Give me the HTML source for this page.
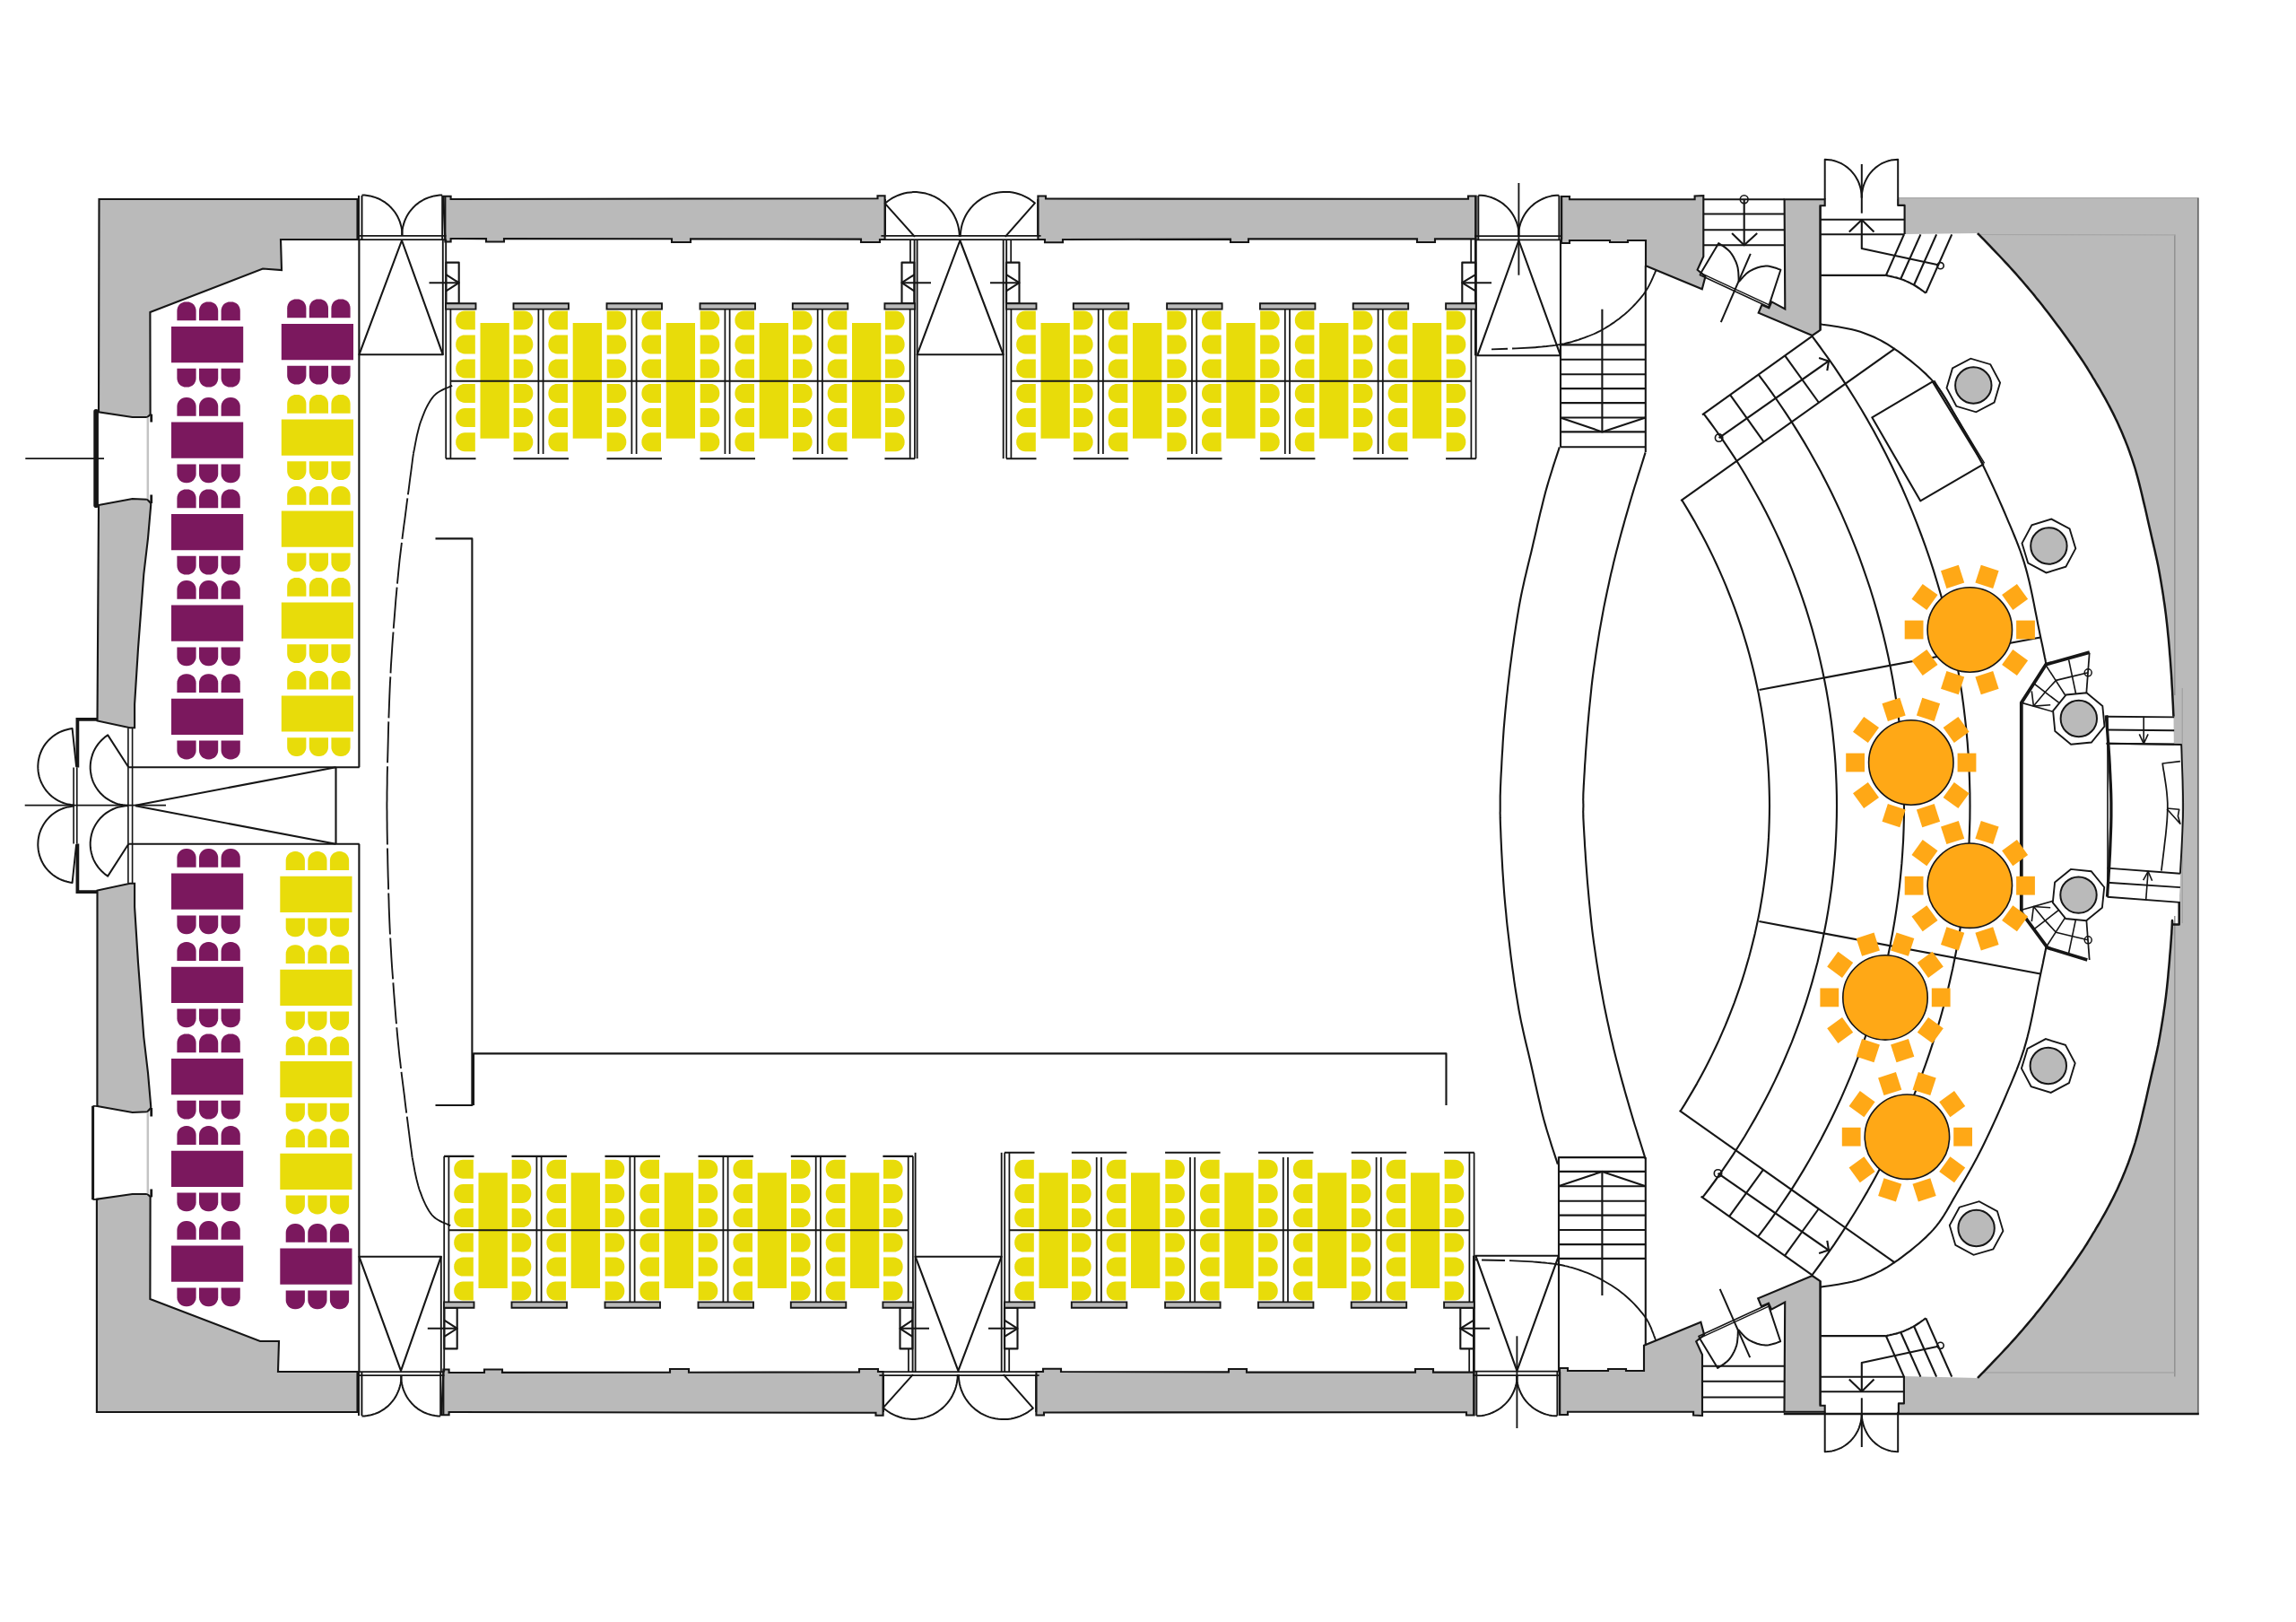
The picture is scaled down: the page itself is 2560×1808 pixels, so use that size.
<!DOCTYPE html>
<html lang="en"><head><meta charset="utf-8"><title>Hall floor plan – seating layout</title>
<style>
html,body{margin:0;padding:0;background:#fff;}
body{width:2560px;height:1808px;overflow:hidden;font-family:"Liberation Sans",sans-serif;}
svg{display:block}
</style></head><body>
<svg width="2560" height="1808" viewBox="0 0 2560 1808" stroke-linecap="butt" stroke-linejoin="round">
<rect width="2560" height="1808" fill="#ffffff"/>
<path d="M2116.2 220.7 L2451.6 220.7 L2451.6 1575.4 L2116.9 1575.4 L2116.9 1564.4 L2122.9 1564.4 L2122.9 1534 L2205 1536 L2206.8 1534.1 L2209.2 1531.7 L2212 1528.8 L2215.1 1525.6 L2218.5 1522.1 L2222 1518.4 L2225.6 1514.7 L2229.1 1511 L2232.4 1507.5 L2235.5 1504.2 L2238.4 1501.1 L2241.2 1498 L2244 1494.9 L2246.8 1491.8 L2249.5 1488.7 L2252.2 1485.6 L2255 1482.5 L2257.7 1479.3 L2260.4 1476.1 L2263.2 1472.8 L2266 1469.5 L2268.8 1466.1 L2271.5 1462.6 L2274.3 1459.2 L2277.1 1455.7 L2279.9 1452.1 L2282.7 1448.5 L2285.4 1444.9 L2288.2 1441.3 L2291 1437.6 L2293.8 1433.8 L2296.7 1429.9 L2299.6 1425.9 L2302.5 1421.9 L2305.4 1417.8 L2308.3 1413.8 L2311.1 1409.9 L2313.8 1406 L2316.3 1402.3 L2318.7 1398.8 L2320.9 1395.5 L2323 1392.4 L2324.9 1389.4 L2326.8 1386.5 L2328.5 1383.7 L2330.2 1380.9 L2331.9 1378.1 L2333.6 1375.2 L2335.4 1372.3 L2337.2 1369.2 L2339.1 1366 L2341 1362.8 L2342.9 1359.5 L2344.8 1356.1 L2346.7 1352.8 L2348.6 1349.4 L2350.4 1346 L2352.2 1342.6 L2354 1339.2 L2355.7 1335.9 L2357.3 1332.6 L2358.9 1329.3 L2360.5 1326.1 L2362 1322.8 L2363.4 1319.6 L2364.9 1316.3 L2366.3 1313 L2367.7 1309.6 L2369.1 1306.2 L2370.5 1302.6 L2371.9 1299.1 L2373.2 1295.7 L2374.4 1292.3 L2375.6 1288.9 L2376.9 1285.4 L2378.1 1281.7 L2379.4 1277.7 L2380.7 1273.5 L2382 1268.9 L2383.4 1263.8 L2384.9 1258.1 L2386.5 1251.7 L2388.2 1244.7 L2389.9 1237.4 L2391.7 1230 L2393.4 1222.5 L2395 1215.2 L2396.6 1208.2 L2398.1 1201.8 L2399.4 1196 L2400.6 1190.9 L2401.6 1186.4 L2402.6 1182.3 L2403.4 1178.5 L2404.2 1174.9 L2405 1171.4 L2405.7 1167.9 L2406.5 1164.2 L2407.2 1160.3 L2408 1156 L2408.8 1151.4 L2409.6 1146.7 L2410.4 1141.9 L2411.2 1137 L2412 1131.9 L2412.7 1126.8 L2413.5 1121.7 L2414.2 1116.5 L2414.9 1111.2 L2415.5 1106 L2416.1 1100.6 L2416.7 1094.8 L2417.3 1088.9 L2417.8 1082.9 L2418.4 1076.9 L2418.9 1071.1 L2419.3 1065.5 L2419.8 1060.2 L2420.2 1055.3 L2420.5 1051 L2420.8 1047.2 L2421 1043.7 L2421.3 1040.5 L2421.4 1037.6 L2421.6 1035.1 L2421.7 1032.8 L2421.8 1030.7 L2421.9 1028.9 L2421.9 1027.4 L2422 1026 L2422.3 1030.5 L2429.7 1030.5 L2429.7 1005.9 L2431 973.8 L2432.2 900 L2432.4 898 L2432 830 L2423.8 830 L2423.5 798.7 L2423.3 795.5 L2423.1 791.4 L2422.9 786.6 L2422.6 781.1 L2422.3 775.3 L2422 769.2 L2421.6 762.9 L2421.3 756.7 L2420.9 750.7 L2420.5 745 L2420.1 739.5 L2419.7 734 L2419.2 728.4 L2418.8 722.9 L2418.3 717.3 L2417.8 711.7 L2417.2 706.2 L2416.7 700.7 L2416.1 695.3 L2415.5 690 L2414.9 684.8 L2414.2 679.5 L2413.5 674.3 L2412.7 669.2 L2412 664.1 L2411.2 659 L2410.4 654.1 L2409.6 649.3 L2408.8 644.6 L2408 640 L2407.2 635.7 L2406.5 631.8 L2405.7 628.1 L2405 624.6 L2404.2 621.1 L2403.4 617.5 L2402.6 613.7 L2401.6 609.6 L2400.6 605.1 L2399.4 600 L2398.1 594.2 L2396.6 587.8 L2395 580.8 L2393.4 573.5 L2391.7 566 L2389.9 558.6 L2388.2 551.3 L2386.5 544.3 L2384.9 537.9 L2383.4 532.2 L2382 527.1 L2380.7 522.5 L2379.4 518.3 L2378.1 514.3 L2376.9 510.6 L2375.6 507.1 L2374.4 503.7 L2373.2 500.3 L2371.9 496.9 L2370.5 493.4 L2369.1 489.8 L2367.7 486.4 L2366.3 483 L2364.9 479.7 L2363.4 476.4 L2362 473.2 L2360.5 469.9 L2358.9 466.7 L2357.3 463.4 L2355.7 460.1 L2354 456.8 L2352.2 453.4 L2350.4 450 L2348.6 446.6 L2346.7 443.2 L2344.8 439.9 L2342.9 436.5 L2341 433.2 L2339.1 430 L2337.2 426.8 L2335.4 423.7 L2333.6 420.8 L2331.9 417.9 L2330.2 415.1 L2328.5 412.3 L2326.8 409.5 L2324.9 406.6 L2323 403.6 L2320.9 400.5 L2318.7 397.2 L2316.3 393.7 L2313.8 390 L2311.1 386.1 L2308.3 382.2 L2305.4 378.1 L2302.5 374.1 L2299.6 370.1 L2296.7 366.1 L2293.8 362.2 L2291 358.4 L2288.2 354.7 L2285.4 351.1 L2282.7 347.5 L2279.9 343.9 L2277.1 340.3 L2274.3 336.8 L2271.5 333.4 L2268.8 329.9 L2266 326.5 L2263.2 323.2 L2260.4 319.9 L2257.7 316.7 L2255 313.5 L2252.2 310.4 L2249.5 307.3 L2246.8 304.2 L2244 301.1 L2241.2 298 L2238.4 294.9 L2235.5 291.8 L2232.4 288.5 L2229.1 285 L2225.6 281.3 L2222 277.6 L2218.5 273.9 L2215.1 270.4 L2212 267.2 L2209.2 264.3 L2206.8 261.9 L2205 260 L2123.6 261.1 L2123.6 228.9 L2116.2 228.9Z" fill="#bababa" stroke="none"/>
<path d="M2423.7 798.7 L2423.7 830 L2432.1 830 L2432.3 834.3 L2432.5 839.8 L2432.7 846.4 L2433 853.7 L2433.3 861.7 L2433.6 869.9 L2433.8 878.4 L2434 886.7 L2434.1 894.7 L2434.1 902.3 L2434 909.8 L2433.7 917.8 L2433.4 926 L2433 934.4 L2432.6 942.6 L2432.2 950.4 L2431.8 957.6 L2431.4 964.1 L2431.1 969.6 L2430.9 973.8 L2429.7 1005.9 L2423.7 1005.9Z" fill="#ffffff" stroke="none"/>
<path d="M110.5 222 L398.5 222 L398.5 267 L313 267 L314 301 L293 299.5 L167.4 348 L167.6 462 L164.3 465 L147.6 465 L110 459.3Z" fill="#bababa" stroke="#161616" stroke-width="2.12" stroke-linejoin="miter"/>
<path d="M110 563 L147.6 556 L164.3 556.7 L168.2 561 L168.2 563.2 L165 600 L160.3 640 L154 723 L150.1 785 L150.1 811.2 L144.9 811.2 L108.5 803.5Z" fill="#bababa" stroke="#161616" stroke-width="2.12" stroke-linejoin="miter"/>
<path d="M494.3 218.8 L502.6 218.8 L502.6 222 L978.5 221.2 L978.5 218.2 L986.6 218.2 L986.6 267 L981 267 L981 270 L960 270 L960 266.6 L770 266.3 L770 270 L749 270 L749 266.2 L562 266.1 L562 269.5 L542 269.5 L542 266.1 L502.6 266 L502.6 269.5 L496.4 269.5Z" fill="#bababa" stroke="#161616" stroke-width="2.12" stroke-linejoin="miter"/>
<path d="M1157.4 218.5 L1166 218.5 L1166 221.5 L1637 221.8 L1637 218.5 L1645.6 218.5 L1645.6 266.4 L1600 266.4 L1600 270 L1580 270 L1580 266.4 L1392 266.4 L1392 270 L1372 270 L1372 266.6 L1185 267 L1185 270.3 L1165 270.3 L1165 267 L1157.4 267Z" fill="#bababa" stroke="#161616" stroke-width="2.12" stroke-linejoin="miter"/>
<path d="M1741 222.3 L1741 219 L1750 219 L1750 222.3 L1889.6 222.3 L1889.6 218.5 L1899.3 218 L1899.3 285.9 L1892.6 300.7 L1901.5 308.1 L1897.8 322.2 L1835 296.3 L1835 268 L1815 268 L1815 270 L1795 270 L1795 268 L1750 268 L1750 271 L1741 271Z" fill="#bababa" stroke="#161616" stroke-width="2.12" stroke-linejoin="miter"/>
<path d="M1989.6 222.2 L2034.7 222.2 L2034.7 229.3 L2029.6 229.3 L2029.6 368 L2020.7 374 L1960.7 348.8 L1964.4 339.9 L1972.4 343.4 L1975.4 336.4 L1990.3 344.4Z" fill="#bababa" stroke="#161616" stroke-width="2.12" stroke-linejoin="miter"/>
<path d="M107.9 1574 L398.5 1574 L398.5 1529 L310 1529 L311 1495 L290 1495 L167.4 1448 L167.6 1334 L164.3 1331 L147.6 1331 L107.9 1336.7Z" fill="#bababa" stroke="#161616" stroke-width="2.12" stroke-linejoin="miter"/>
<path d="M108.4 1233 L147.6 1240 L164.3 1239.3 L168.2 1235 L168.2 1232.8 L165 1196 L160.3 1156 L154 1073 L150.1 1011 L150.1 984.8 L144.9 984.8 L108.5 992.5Z" fill="#bababa" stroke="#161616" stroke-width="2.12" stroke-linejoin="miter"/>
<path d="M492.3 1577.2 L500.6 1577.2 L500.6 1574 L976.5 1574.8 L976.5 1577.8 L984.6 1577.8 L984.6 1529 L979 1529 L979 1526 L958 1526 L958 1529.4 L768 1529.7 L768 1526 L747 1526 L747 1529.8 L560 1529.9 L560 1526.5 L540 1526.5 L540 1529.9 L500.6 1530 L500.6 1526.5 L494.4 1526.5Z" fill="#bababa" stroke="#161616" stroke-width="2.12" stroke-linejoin="miter"/>
<path d="M1155.4 1577.5 L1164 1577.5 L1164 1574.5 L1635 1574.2 L1635 1577.5 L1643.6 1577.5 L1643.6 1529.6 L1598 1529.6 L1598 1526 L1578 1526 L1578 1529.6 L1390 1529.6 L1390 1526 L1370 1526 L1370 1529.4 L1183 1529 L1183 1525.7 L1163 1525.7 L1163 1529 L1155.4 1529Z" fill="#bababa" stroke="#161616" stroke-width="2.12" stroke-linejoin="miter"/>
<path d="M1739 1573.7 L1739 1577 L1748 1577 L1748 1573.7 L1888.1 1573.7 L1888.1 1577.5 L1898 1578 L1898 1510.1 L1891.2 1495.3 L1900.2 1487.9 L1896.4 1473.8 L1833 1499.7 L1833 1528 L1813 1528 L1813 1526 L1793 1526 L1793 1528 L1748 1528 L1748 1525 L1739 1525Z" fill="#bababa" stroke="#161616" stroke-width="2.12" stroke-linejoin="miter"/>
<path d="M1989.5 1573.8 L2034.7 1573.8 L2034.7 1566.7 L2029.6 1566.7 L2029.6 1428 L2020.7 1422 L1960.2 1447.2 L1963.9 1456.1 L1972 1452.6 L1975.1 1459.6 L1990.2 1451.6Z" fill="#bababa" stroke="#161616" stroke-width="2.12" stroke-linejoin="miter"/>
<path d="M2116.2 220.7 L2451.6 220.7" fill="none" stroke="#9a9a9a" stroke-width="1.0"/>
<path d="M2450.8 220.7 L2450.8 1576.4" fill="none" stroke="#6a6a6a" stroke-width="1.7"/>
<path d="M2424.8 261.5 L2424.8 775" fill="none" stroke="#8e8e8e" stroke-width="1.4"/>
<path d="M2424.8 1534.5 L2424.8 1021" fill="none" stroke="#8e8e8e" stroke-width="1.4"/>
<path d="M2433.2 767 L2433.2 1029" fill="none" stroke="#9a9a9a" stroke-width="1.0"/>
<path d="M2204.3 261.5 L2425.4 261.8" fill="none" stroke="#a6a6a6" stroke-width="1.2"/>
<path d="M2210 1530 L2425.4 1530" fill="none" stroke="#9c9c9c" stroke-width="1.2"/>
<path d="M107.1 458.8 L107.1 563.2" fill="none" stroke="#161616" stroke-width="5.62" stroke-linecap="round"/>
<path d="M164.8 465.5 L164.8 556.2" fill="none" stroke="#c4c4c4" stroke-width="2.5"/>
<path d="M168.7 461.6 L168.7 470.5" fill="none" stroke="#161616" stroke-width="2.75"/>
<path d="M168.7 551.5 L168.7 561" fill="none" stroke="#161616" stroke-width="2.75"/>
<path d="M108.8 801.9 L86.4 801.9 L86.4 855.4" fill="none" stroke="#161616" stroke-width="3.75" stroke-linejoin="miter"/>
<path d="M82.1 855.4 L82.1 898" fill="none" stroke="#161616" stroke-width="1.62"/>
<path d="M85.8 855.4 L85.8 898" fill="none" stroke="#161616" stroke-width="1.62"/>
<path d="M142.9 811.5 L142.9 898" fill="none" stroke="#161616" stroke-width="1.62"/>
<path d="M147.6 811.5 L147.6 898" fill="none" stroke="#161616" stroke-width="1.62"/>
<path d="M85.1 854.7 L80.6 812.1 L77.7 812.5 L74.8 813.2 L72 814 L69.2 815 L66.5 816.2 L63.9 817.5 L61.4 819.1 L59 820.8 L56.7 822.7 L54.6 824.7 L52.6 826.9 L50.7 829.2 L49 831.6 L47.5 834.2 L46.2 836.8 L45.1 839.5 L44.1 842.3 L43.4 845.2 L42.8 848.1 L42.5 851 L42.3 854 L42.4 856.9 L42.6 859.9 L43.1 862.8 L43.7 865.7 L44.6 868.5 L45.6 871.2 L46.9 873.9 L48.3 876.5 L49.9 879 L51.6 881.4 L53.6 883.6 L55.6 885.7 L57.8 887.7 L60.2 889.5 L62.6 891.1 L65.2 892.6 L67.9 893.9 L70.6 895 L73.4 895.9 L76.3 896.6 L79.2 897.1 L82.1 897.4" fill="none" stroke="#161616" stroke-width="2.0"/>
<path d="M143.3 855.2 L120.2 819.4 L117.7 821.1 L115.5 823 L113.3 825 L111.3 827.1 L109.4 829.4 L107.7 831.8 L106.2 834.3 L104.8 836.9 L103.6 839.6 L102.7 842.4 L101.9 845.2 L101.3 848.1 L100.9 851 L100.7 854 L100.7 856.9 L101 859.9 L101.4 862.8 L102 865.7 L102.8 868.5 L103.8 871.3 L105 873.9 L106.4 876.5 L108 879 L109.7 881.4 L111.6 883.7 L113.7 885.8 L115.8 887.8 L118.2 889.6 L120.6 891.2 L123.1 892.7 L125.8 894 L128.5 895.2 L131.3 896.1 L134.2 896.8 L137.1 897.3 L140 897.7 L142.9 897.8" fill="none" stroke="#161616" stroke-width="2.0"/>
<path d="M143.3 855.2 L400.7 855.2" fill="none" stroke="#161616" stroke-width="2.12"/>
<path d="M374.5 855.2 L374.5 898" fill="none" stroke="#161616" stroke-width="2.12"/>
<path d="M151 897.7 L374.5 855.2" fill="none" stroke="#161616" stroke-width="2.12"/>
<path d="M400.4 267 L400.4 855.2" fill="none" stroke="#161616" stroke-width="2.12"/>
<path d="M400 218 L400 267" fill="none" stroke="#161616" stroke-width="2.0"/>
<path d="M403.5 218 L403.5 267" fill="none" stroke="#161616" stroke-width="2.0"/>
<path d="M493.2 218 L493.2 267" fill="none" stroke="#161616" stroke-width="2.0"/>
<path d="M496.4 218 L496.4 267" fill="none" stroke="#161616" stroke-width="2.0"/>
<path d="M403.5 217.5 L406.6 217.6 L409.6 217.9 L412.7 218.4 L415.6 219.2 L418.6 220.1 L421.4 221.2 L424.2 222.5 L426.9 224.1 L429.5 225.7 L431.9 227.6 L434.2 229.6 L436.4 231.8 L438.4 234.1 L440.3 236.5 L441.9 239.1 L443.5 241.8 L444.8 244.6 L445.9 247.4 L446.8 250.4 L447.6 253.3 L448.1 256.4 L448.4 259.4 L448.5 262.5" fill="none" stroke="#161616" stroke-width="2.0"/>
<path d="M493.2 217.5 L490.1 217.6 L487.1 217.9 L484 218.4 L481.1 219.2 L478.1 220.1 L475.3 221.2 L472.5 222.5 L469.8 224.1 L467.2 225.7 L464.8 227.6 L462.5 229.6 L460.3 231.8 L458.3 234.1 L456.4 236.5 L454.8 239.1 L453.2 241.8 L451.9 244.6 L450.8 247.4 L449.9 250.4 L449.1 253.3 L448.6 256.4 L448.3 259.4 L448.2 262.5" fill="none" stroke="#161616" stroke-width="2.0"/>
<path d="M399 262.8 L497.4 262.8" fill="none" stroke="#161616" stroke-width="1.75"/>
<path d="M399 267 L497.4 267" fill="none" stroke="#161616" stroke-width="1.75"/>
<path d="M400.4 395.3 L448 268 L493.8 395.3Z" fill="none" stroke="#161616" stroke-width="2.12"/>
<path d="M493.8 267 L493.8 395.3" fill="none" stroke="#161616" stroke-width="1.88"/>
<path d="M497.2 267 L497.2 344" fill="none" stroke="#161616" stroke-width="1.88"/>
<path d="M497.4 292.6 L511.7 292.6 L511.7 338.3 L497.4 338.3Z" fill="none" stroke="#161616" stroke-width="2.12"/>
<path d="M478.5 315.2 L511.7 315.2" fill="none" stroke="#161616" stroke-width="2.12"/>
<path d="M497.4 306.2 L511.7 315.2 L497.4 324.4" fill="none" stroke="#161616" stroke-width="2.12"/>
<path d="M1020 263.9 L986.8 226.8 L989.5 224.5 L992.3 222.5 L995.2 220.7 L998.3 219.1 L1001.5 217.7 L1004.8 216.5 L1008.1 215.5 L1011.5 214.8 L1014.9 214.4 L1018.4 214.1 L1021.9 214.1 L1025.3 214.4 L1028.8 214.9 L1032.2 215.6 L1035.5 216.6 L1038.7 217.8 L1041.9 219.2 L1045 220.8 L1047.9 222.7 L1050.7 224.7 L1053.4 226.9 L1055.9 229.4 L1058.2 231.9 L1060.3 234.7 L1062.3 237.5 L1064 240.6 L1065.5 243.7 L1066.8 246.9 L1067.9 250.2 L1068.7 253.6 L1069.3 257 L1069.7 260.4 L1069.8 263.9" fill="none" stroke="#161616" stroke-width="2.0"/>
<path d="M1120.8 263.9 L1153.9 226.4 L1151.2 224.2 L1148.4 222.2 L1145.4 220.4 L1142.4 218.8 L1139.2 217.4 L1135.9 216.2 L1132.5 215.3 L1129.1 214.6 L1125.7 214.1 L1122.2 213.9 L1118.7 213.9 L1115.3 214.2 L1111.8 214.7 L1108.4 215.4 L1105.1 216.4 L1101.9 217.6 L1098.7 219.1 L1095.6 220.7 L1092.7 222.6 L1089.9 224.6 L1087.2 226.9 L1084.7 229.3 L1082.4 231.9 L1080.3 234.6 L1078.3 237.5 L1076.6 240.5 L1075.1 243.6 L1073.8 246.9 L1072.7 250.2 L1071.9 253.5 L1071.3 257 L1070.9 260.4 L1070.8 263.9" fill="none" stroke="#161616" stroke-width="2.0"/>
<path d="M987 222 L987 263" fill="none" stroke="#161616" stroke-width="2.0"/>
<path d="M1157.2 222 L1157.2 263" fill="none" stroke="#161616" stroke-width="2.0"/>
<path d="M982.4 262.8 L1160.6 262.8" fill="none" stroke="#161616" stroke-width="1.75"/>
<path d="M982.4 267 L1160.6 267" fill="none" stroke="#161616" stroke-width="1.75"/>
<path d="M1022.6 395.3 L1070.4 268 L1118.7 395.3Z" fill="none" stroke="#161616" stroke-width="2.12"/>
<path d="M1022.6 267 L1022.6 511.2" fill="none" stroke="#161616" stroke-width="1.88"/>
<path d="M1118.7 267 L1118.7 511.2" fill="none" stroke="#161616" stroke-width="1.88"/>
<path d="M1019.6 267 L1019.6 344" fill="none" stroke="#161616" stroke-width="1.88"/>
<path d="M1122.2 267 L1122.2 344" fill="none" stroke="#161616" stroke-width="1.88"/>
<path d="M1015 267 L1015 292.6" fill="none" stroke="#161616" stroke-width="1.75"/>
<path d="M1127.2 267 L1127.2 292.6" fill="none" stroke="#161616" stroke-width="1.75"/>
<path d="M1005.5 292.6 L1019.4 292.6 L1019.4 338.3 L1005.5 338.3Z" fill="none" stroke="#161616" stroke-width="2.12"/>
<path d="M1005.5 315.2 L1038 315.2" fill="none" stroke="#161616" stroke-width="2.12"/>
<path d="M1019.4 306.2 L1005.5 315.2 L1019.4 324.4" fill="none" stroke="#161616" stroke-width="2.12"/>
<path d="M1122 292.6 L1136.5 292.6 L1136.5 338.3 L1122 338.3Z" fill="none" stroke="#161616" stroke-width="2.12"/>
<path d="M1104 315.2 L1136.5 315.2" fill="none" stroke="#161616" stroke-width="2.12"/>
<path d="M1122 306.2 L1136.5 315.2 L1122 324.4" fill="none" stroke="#161616" stroke-width="2.12"/>
<path d="M1645.2 218 L1645.2 267" fill="none" stroke="#161616" stroke-width="2.0"/>
<path d="M1648.3 218 L1648.3 267" fill="none" stroke="#161616" stroke-width="2.0"/>
<path d="M1738.4 218 L1738.4 267" fill="none" stroke="#161616" stroke-width="2.0"/>
<path d="M1741.2 218 L1741.2 267" fill="none" stroke="#161616" stroke-width="2.0"/>
<path d="M1648.3 217.7 L1651.4 217.8 L1654.5 218.1 L1657.5 218.6 L1660.5 219.4 L1663.5 220.3 L1666.3 221.5 L1669.1 222.8 L1671.8 224.3 L1674.4 226 L1676.9 227.9 L1679.2 229.9 L1681.4 232.1 L1683.4 234.4 L1685.3 236.9 L1687 239.5 L1688.5 242.2 L1689.8 245 L1691 247.8 L1691.9 250.8 L1692.7 253.8 L1693.2 256.8 L1693.5 259.9 L1693.6 263" fill="none" stroke="#161616" stroke-width="2.0"/>
<path d="M1738.4 217.7 L1735.3 217.8 L1732.2 218.1 L1729.2 218.6 L1726.2 219.4 L1723.2 220.3 L1720.4 221.5 L1717.6 222.8 L1714.9 224.3 L1712.3 226 L1709.8 227.9 L1707.5 229.9 L1705.3 232.1 L1703.3 234.4 L1701.4 236.9 L1699.7 239.5 L1698.2 242.2 L1696.9 245 L1695.7 247.8 L1694.8 250.8 L1694 253.8 L1693.5 256.8 L1693.2 259.9 L1693.1 263" fill="none" stroke="#161616" stroke-width="2.0"/>
<path d="M1693.4 204 L1693.4 306.7" fill="none" stroke="#161616" stroke-width="1.88"/>
<path d="M1644 263 L1742 263" fill="none" stroke="#161616" stroke-width="1.75"/>
<path d="M1644 267.3 L1742 267.3" fill="none" stroke="#161616" stroke-width="1.75"/>
<path d="M1647.3 396.3 L1693.4 268 L1740 396.3Z" fill="none" stroke="#161616" stroke-width="2.12"/>
<path d="M1645.4 267 L1645.4 396.3" fill="none" stroke="#161616" stroke-width="2.75"/>
<path d="M1640.2 267 L1640.2 292.6" fill="none" stroke="#161616" stroke-width="1.75"/>
<path d="M1630.3 292.6 L1645.2 292.6 L1645.2 338.3 L1630.3 338.3Z" fill="none" stroke="#161616" stroke-width="2.12"/>
<path d="M1630.3 315.2 L1663 315.2" fill="none" stroke="#161616" stroke-width="2.12"/>
<path d="M1645.2 306.2 L1630.3 315.2 L1645.2 324.4" fill="none" stroke="#161616" stroke-width="2.12"/>
<path d="M535.5 359.9 L567.8 359.9 L567.8 488.8 L535.5 488.8Z" fill="#e8dc0a" stroke="none" stroke-linejoin="miter"/>
<path d="M529.8 346.5 L518.2 346.5 L516.2 346.7 L514.4 347.3 L512.6 348.2 L511.1 349.4 L509.9 350.9 L509 352.7 L508.4 354.5 L508.2 356.5 L508.2 357.5 L508.4 359.5 L509 361.3 L509.9 363.1 L511.1 364.6 L512.6 365.8 L514.4 366.7 L516.2 367.3 L518.2 367.5 L529.8 367.5Z" fill="#e8dc0a" stroke="none"/>
<path d="M572.7 346.5 L584.3 346.5 L586.3 346.7 L588.1 347.3 L589.9 348.2 L591.4 349.4 L592.6 350.9 L593.5 352.7 L594.1 354.5 L594.3 356.5 L594.3 357.5 L594.1 359.5 L593.5 361.3 L592.6 363.1 L591.4 364.6 L589.9 365.8 L588.1 366.7 L586.3 367.3 L584.3 367.5 L572.7 367.5Z" fill="#e8dc0a" stroke="none"/>
<path d="M529.8 373.4 L518.2 373.4 L516.2 373.6 L514.4 374.2 L512.6 375.1 L511.1 376.3 L509.9 377.8 L509 379.6 L508.4 381.4 L508.2 383.4 L508.2 384.4 L508.4 386.4 L509 388.2 L509.9 390 L511.1 391.5 L512.6 392.7 L514.4 393.6 L516.2 394.2 L518.2 394.4 L529.8 394.4Z" fill="#e8dc0a" stroke="none"/>
<path d="M572.7 373.4 L584.3 373.4 L586.3 373.6 L588.1 374.2 L589.9 375.1 L591.4 376.3 L592.6 377.8 L593.5 379.6 L594.1 381.4 L594.3 383.4 L594.3 384.4 L594.1 386.4 L593.5 388.2 L592.6 390 L591.4 391.5 L589.9 392.7 L588.1 393.6 L586.3 394.2 L584.3 394.4 L572.7 394.4Z" fill="#e8dc0a" stroke="none"/>
<path d="M529.8 400.4 L518.2 400.4 L516.2 400.6 L514.4 401.2 L512.6 402.1 L511.1 403.3 L509.9 404.8 L509 406.6 L508.4 408.4 L508.2 410.4 L508.2 411.4 L508.4 413.4 L509 415.2 L509.9 417 L511.1 418.5 L512.6 419.7 L514.4 420.6 L516.2 421.2 L518.2 421.4 L529.8 421.4Z" fill="#e8dc0a" stroke="none"/>
<path d="M572.7 400.4 L584.3 400.4 L586.3 400.6 L588.1 401.2 L589.9 402.1 L591.4 403.3 L592.6 404.8 L593.5 406.6 L594.1 408.4 L594.3 410.4 L594.3 411.4 L594.1 413.4 L593.5 415.2 L592.6 417 L591.4 418.5 L589.9 419.7 L588.1 420.6 L586.3 421.2 L584.3 421.4 L572.7 421.4Z" fill="#e8dc0a" stroke="none"/>
<path d="M529.8 427.9 L518.2 427.9 L516.2 428.1 L514.4 428.7 L512.6 429.6 L511.1 430.8 L509.9 432.3 L509 434.1 L508.4 435.9 L508.2 437.9 L508.2 438.9 L508.4 440.9 L509 442.7 L509.9 444.5 L511.1 446 L512.6 447.2 L514.4 448.1 L516.2 448.7 L518.2 448.9 L529.8 448.9Z" fill="#e8dc0a" stroke="none"/>
<path d="M572.7 427.9 L584.3 427.9 L586.3 428.1 L588.1 428.7 L589.9 429.6 L591.4 430.8 L592.6 432.3 L593.5 434.1 L594.1 435.9 L594.3 437.9 L594.3 438.9 L594.1 440.9 L593.5 442.7 L592.6 444.5 L591.4 446 L589.9 447.2 L588.1 448.1 L586.3 448.7 L584.3 448.9 L572.7 448.9Z" fill="#e8dc0a" stroke="none"/>
<path d="M529.8 455 L518.2 455 L516.2 455.2 L514.4 455.8 L512.6 456.7 L511.1 457.9 L509.9 459.4 L509 461.2 L508.4 463 L508.2 465 L508.2 466 L508.4 468 L509 469.8 L509.9 471.6 L511.1 473.1 L512.6 474.3 L514.4 475.2 L516.2 475.8 L518.2 476 L529.8 476Z" fill="#e8dc0a" stroke="none"/>
<path d="M572.7 455 L584.3 455 L586.3 455.2 L588.1 455.8 L589.9 456.7 L591.4 457.9 L592.6 459.4 L593.5 461.2 L594.1 463 L594.3 465 L594.3 466 L594.1 468 L593.5 469.8 L592.6 471.6 L591.4 473.1 L589.9 474.3 L588.1 475.2 L586.3 475.8 L584.3 476 L572.7 476Z" fill="#e8dc0a" stroke="none"/>
<path d="M529.8 482.2 L518.2 482.2 L516.2 482.4 L514.4 483 L512.6 483.9 L511.1 485.1 L509.9 486.6 L509 488.4 L508.4 490.2 L508.2 492.2 L508.2 493.2 L508.4 495.2 L509 497 L509.9 498.8 L511.1 500.3 L512.6 501.5 L514.4 502.4 L516.2 503 L518.2 503.2 L529.8 503.2Z" fill="#e8dc0a" stroke="none"/>
<path d="M572.7 482.2 L584.3 482.2 L586.3 482.4 L588.1 483 L589.9 483.9 L591.4 485.1 L592.6 486.6 L593.5 488.4 L594.1 490.2 L594.3 492.2 L594.3 493.2 L594.1 495.2 L593.5 497 L592.6 498.8 L591.4 500.3 L589.9 501.5 L588.1 502.4 L586.3 503 L584.3 503.2 L572.7 503.2Z" fill="#e8dc0a" stroke="none"/>
<path d="M638.7 359.9 L671 359.9 L671 488.8 L638.7 488.8Z" fill="#e8dc0a" stroke="none" stroke-linejoin="miter"/>
<path d="M633 346.5 L621.4 346.5 L619.4 346.7 L617.6 347.3 L615.8 348.2 L614.3 349.4 L613.1 350.9 L612.2 352.7 L611.6 354.5 L611.4 356.5 L611.4 357.5 L611.6 359.5 L612.2 361.3 L613.1 363.1 L614.3 364.6 L615.8 365.8 L617.6 366.7 L619.4 367.3 L621.4 367.5 L633 367.5Z" fill="#e8dc0a" stroke="none"/>
<path d="M676.7 346.5 L688.3 346.5 L690.3 346.7 L692.1 347.3 L693.9 348.2 L695.4 349.4 L696.6 350.9 L697.5 352.7 L698.1 354.5 L698.3 356.5 L698.3 357.5 L698.1 359.5 L697.5 361.3 L696.6 363.1 L695.4 364.6 L693.9 365.8 L692.1 366.7 L690.3 367.3 L688.3 367.5 L676.7 367.5Z" fill="#e8dc0a" stroke="none"/>
<path d="M633 373.4 L621.4 373.4 L619.4 373.6 L617.6 374.2 L615.8 375.1 L614.3 376.3 L613.1 377.8 L612.2 379.6 L611.6 381.4 L611.4 383.4 L611.4 384.4 L611.6 386.4 L612.2 388.2 L613.1 390 L614.3 391.5 L615.8 392.7 L617.6 393.6 L619.4 394.2 L621.4 394.4 L633 394.4Z" fill="#e8dc0a" stroke="none"/>
<path d="M676.7 373.4 L688.3 373.4 L690.3 373.6 L692.1 374.2 L693.9 375.1 L695.4 376.3 L696.6 377.8 L697.5 379.6 L698.1 381.4 L698.3 383.4 L698.3 384.4 L698.1 386.4 L697.5 388.2 L696.6 390 L695.4 391.5 L693.9 392.7 L692.1 393.6 L690.3 394.2 L688.3 394.4 L676.7 394.4Z" fill="#e8dc0a" stroke="none"/>
<path d="M633 400.4 L621.4 400.4 L619.4 400.6 L617.6 401.2 L615.8 402.1 L614.3 403.3 L613.1 404.8 L612.2 406.6 L611.6 408.4 L611.4 410.4 L611.4 411.4 L611.6 413.4 L612.2 415.2 L613.1 417 L614.3 418.5 L615.8 419.7 L617.6 420.6 L619.4 421.2 L621.4 421.4 L633 421.4Z" fill="#e8dc0a" stroke="none"/>
<path d="M676.7 400.4 L688.3 400.4 L690.3 400.6 L692.1 401.2 L693.9 402.1 L695.4 403.3 L696.6 404.8 L697.5 406.6 L698.1 408.4 L698.3 410.4 L698.3 411.4 L698.1 413.4 L697.5 415.2 L696.6 417 L695.4 418.5 L693.9 419.7 L692.1 420.6 L690.3 421.2 L688.3 421.4 L676.7 421.4Z" fill="#e8dc0a" stroke="none"/>
<path d="M633 427.9 L621.4 427.9 L619.4 428.1 L617.6 428.7 L615.8 429.6 L614.3 430.8 L613.1 432.3 L612.2 434.1 L611.6 435.9 L611.4 437.9 L611.4 438.9 L611.6 440.9 L612.2 442.7 L613.1 444.5 L614.3 446 L615.8 447.2 L617.6 448.1 L619.4 448.7 L621.4 448.9 L633 448.9Z" fill="#e8dc0a" stroke="none"/>
<path d="M676.7 427.9 L688.3 427.9 L690.3 428.1 L692.1 428.7 L693.9 429.6 L695.4 430.8 L696.6 432.3 L697.5 434.1 L698.1 435.9 L698.3 437.9 L698.3 438.9 L698.1 440.9 L697.5 442.7 L696.6 444.5 L695.4 446 L693.9 447.2 L692.1 448.1 L690.3 448.7 L688.3 448.9 L676.7 448.9Z" fill="#e8dc0a" stroke="none"/>
<path d="M633 455 L621.4 455 L619.4 455.2 L617.6 455.8 L615.8 456.7 L614.3 457.9 L613.1 459.4 L612.2 461.2 L611.6 463 L611.4 465 L611.4 466 L611.6 468 L612.2 469.8 L613.1 471.6 L614.3 473.1 L615.8 474.3 L617.6 475.2 L619.4 475.8 L621.4 476 L633 476Z" fill="#e8dc0a" stroke="none"/>
<path d="M676.7 455 L688.3 455 L690.3 455.2 L692.1 455.8 L693.9 456.7 L695.4 457.9 L696.6 459.4 L697.5 461.2 L698.1 463 L698.3 465 L698.3 466 L698.1 468 L697.5 469.8 L696.6 471.6 L695.4 473.1 L693.9 474.3 L692.1 475.2 L690.3 475.8 L688.3 476 L676.7 476Z" fill="#e8dc0a" stroke="none"/>
<path d="M633 482.2 L621.4 482.2 L619.4 482.4 L617.6 483 L615.8 483.9 L614.3 485.1 L613.1 486.6 L612.2 488.4 L611.6 490.2 L611.4 492.2 L611.4 493.2 L611.6 495.2 L612.2 497 L613.1 498.8 L614.3 500.3 L615.8 501.5 L617.6 502.4 L619.4 503 L621.4 503.2 L633 503.2Z" fill="#e8dc0a" stroke="none"/>
<path d="M676.7 482.2 L688.3 482.2 L690.3 482.4 L692.1 483 L693.9 483.9 L695.4 485.1 L696.6 486.6 L697.5 488.4 L698.1 490.2 L698.3 492.2 L698.3 493.2 L698.1 495.2 L697.5 497 L696.6 498.8 L695.4 500.3 L693.9 501.5 L692.1 502.4 L690.3 503 L688.3 503.2 L676.7 503.2Z" fill="#e8dc0a" stroke="none"/>
<path d="M742.7 359.9 L775 359.9 L775 488.8 L742.7 488.8Z" fill="#e8dc0a" stroke="none" stroke-linejoin="miter"/>
<path d="M737 346.5 L725.4 346.5 L723.4 346.7 L721.6 347.3 L719.8 348.2 L718.3 349.4 L717.1 350.9 L716.2 352.7 L715.6 354.5 L715.4 356.5 L715.4 357.5 L715.6 359.5 L716.2 361.3 L717.1 363.1 L718.3 364.6 L719.8 365.8 L721.6 366.7 L723.4 367.3 L725.4 367.5 L737 367.5Z" fill="#e8dc0a" stroke="none"/>
<path d="M780.7 346.5 L792.3 346.5 L794.3 346.7 L796.1 347.3 L797.9 348.2 L799.4 349.4 L800.6 350.9 L801.5 352.7 L802.1 354.5 L802.3 356.5 L802.3 357.5 L802.1 359.5 L801.5 361.3 L800.6 363.1 L799.4 364.6 L797.9 365.8 L796.1 366.7 L794.3 367.3 L792.3 367.5 L780.7 367.5Z" fill="#e8dc0a" stroke="none"/>
<path d="M737 373.4 L725.4 373.4 L723.4 373.6 L721.6 374.2 L719.8 375.1 L718.3 376.3 L717.1 377.8 L716.2 379.6 L715.6 381.4 L715.4 383.4 L715.4 384.4 L715.6 386.4 L716.2 388.2 L717.1 390 L718.3 391.5 L719.8 392.7 L721.6 393.6 L723.4 394.2 L725.4 394.4 L737 394.4Z" fill="#e8dc0a" stroke="none"/>
<path d="M780.7 373.4 L792.3 373.4 L794.3 373.6 L796.1 374.2 L797.9 375.1 L799.4 376.3 L800.6 377.8 L801.5 379.6 L802.1 381.4 L802.3 383.4 L802.3 384.4 L802.1 386.4 L801.5 388.2 L800.6 390 L799.4 391.5 L797.9 392.7 L796.1 393.6 L794.3 394.2 L792.3 394.4 L780.7 394.4Z" fill="#e8dc0a" stroke="none"/>
<path d="M737 400.4 L725.4 400.4 L723.4 400.6 L721.6 401.2 L719.8 402.1 L718.3 403.3 L717.1 404.8 L716.2 406.6 L715.6 408.4 L715.4 410.4 L715.4 411.4 L715.6 413.4 L716.2 415.2 L717.1 417 L718.3 418.5 L719.8 419.7 L721.6 420.6 L723.4 421.2 L725.4 421.4 L737 421.4Z" fill="#e8dc0a" stroke="none"/>
<path d="M780.7 400.4 L792.3 400.4 L794.3 400.6 L796.1 401.2 L797.9 402.1 L799.4 403.3 L800.6 404.8 L801.5 406.6 L802.1 408.4 L802.3 410.4 L802.3 411.4 L802.1 413.4 L801.5 415.2 L800.6 417 L799.4 418.5 L797.9 419.7 L796.1 420.6 L794.3 421.2 L792.3 421.4 L780.7 421.4Z" fill="#e8dc0a" stroke="none"/>
<path d="M737 427.9 L725.4 427.9 L723.4 428.1 L721.6 428.7 L719.8 429.6 L718.3 430.8 L717.1 432.3 L716.2 434.1 L715.6 435.9 L715.4 437.9 L715.4 438.9 L715.6 440.9 L716.2 442.7 L717.1 444.5 L718.3 446 L719.8 447.2 L721.6 448.1 L723.4 448.7 L725.4 448.9 L737 448.9Z" fill="#e8dc0a" stroke="none"/>
<path d="M780.7 427.9 L792.3 427.9 L794.3 428.1 L796.1 428.7 L797.9 429.6 L799.4 430.8 L800.6 432.3 L801.5 434.1 L802.1 435.9 L802.3 437.9 L802.3 438.9 L802.1 440.9 L801.5 442.7 L800.6 444.5 L799.4 446 L797.9 447.2 L796.1 448.1 L794.3 448.7 L792.3 448.9 L780.7 448.9Z" fill="#e8dc0a" stroke="none"/>
<path d="M737 455 L725.4 455 L723.4 455.2 L721.6 455.8 L719.8 456.7 L718.3 457.9 L717.1 459.4 L716.2 461.2 L715.6 463 L715.4 465 L715.4 466 L715.6 468 L716.2 469.8 L717.1 471.6 L718.3 473.1 L719.8 474.3 L721.6 475.2 L723.4 475.8 L725.4 476 L737 476Z" fill="#e8dc0a" stroke="none"/>
<path d="M780.7 455 L792.3 455 L794.3 455.2 L796.1 455.8 L797.9 456.7 L799.4 457.9 L800.6 459.4 L801.5 461.2 L802.1 463 L802.3 465 L802.3 466 L802.1 468 L801.5 469.8 L800.6 471.6 L799.4 473.1 L797.9 474.3 L796.1 475.2 L794.3 475.8 L792.3 476 L780.7 476Z" fill="#e8dc0a" stroke="none"/>
<path d="M737 482.2 L725.4 482.2 L723.4 482.4 L721.6 483 L719.8 483.9 L718.3 485.1 L717.1 486.6 L716.2 488.4 L715.6 490.2 L715.4 492.2 L715.4 493.2 L715.6 495.2 L716.2 497 L717.1 498.8 L718.3 500.3 L719.8 501.5 L721.6 502.4 L723.4 503 L725.4 503.2 L737 503.2Z" fill="#e8dc0a" stroke="none"/>
<path d="M780.7 482.2 L792.3 482.2 L794.3 482.4 L796.1 483 L797.9 483.9 L799.4 485.1 L800.6 486.6 L801.5 488.4 L802.1 490.2 L802.3 492.2 L802.3 493.2 L802.1 495.2 L801.5 497 L800.6 498.8 L799.4 500.3 L797.9 501.5 L796.1 502.4 L794.3 503 L792.3 503.2 L780.7 503.2Z" fill="#e8dc0a" stroke="none"/>
<path d="M846.7 359.9 L879 359.9 L879 488.8 L846.7 488.8Z" fill="#e8dc0a" stroke="none" stroke-linejoin="miter"/>
<path d="M841 346.5 L829.4 346.5 L827.4 346.7 L825.6 347.3 L823.8 348.2 L822.3 349.4 L821.1 350.9 L820.2 352.7 L819.6 354.5 L819.4 356.5 L819.4 357.5 L819.6 359.5 L820.2 361.3 L821.1 363.1 L822.3 364.6 L823.8 365.8 L825.6 366.7 L827.4 367.3 L829.4 367.5 L841 367.5Z" fill="#e8dc0a" stroke="none"/>
<path d="M884 346.5 L895.6 346.5 L897.6 346.7 L899.4 347.3 L901.2 348.2 L902.7 349.4 L903.9 350.9 L904.8 352.7 L905.4 354.5 L905.6 356.5 L905.6 357.5 L905.4 359.5 L904.8 361.3 L903.9 363.1 L902.7 364.6 L901.2 365.8 L899.4 366.7 L897.6 367.3 L895.6 367.5 L884 367.5Z" fill="#e8dc0a" stroke="none"/>
<path d="M841 373.4 L829.4 373.4 L827.4 373.6 L825.6 374.2 L823.8 375.1 L822.3 376.3 L821.1 377.8 L820.2 379.6 L819.6 381.4 L819.4 383.4 L819.4 384.4 L819.6 386.4 L820.2 388.2 L821.1 390 L822.3 391.5 L823.8 392.7 L825.6 393.6 L827.4 394.2 L829.4 394.4 L841 394.4Z" fill="#e8dc0a" stroke="none"/>
<path d="M884 373.4 L895.6 373.4 L897.6 373.6 L899.4 374.2 L901.2 375.1 L902.7 376.3 L903.9 377.8 L904.8 379.6 L905.4 381.4 L905.6 383.4 L905.6 384.4 L905.4 386.4 L904.8 388.2 L903.9 390 L902.7 391.5 L901.2 392.7 L899.4 393.6 L897.6 394.2 L895.6 394.4 L884 394.4Z" fill="#e8dc0a" stroke="none"/>
<path d="M841 400.4 L829.4 400.4 L827.4 400.6 L825.6 401.2 L823.8 402.1 L822.3 403.3 L821.1 404.8 L820.2 406.6 L819.6 408.4 L819.4 410.4 L819.4 411.4 L819.6 413.4 L820.2 415.2 L821.1 417 L822.3 418.5 L823.8 419.7 L825.6 420.6 L827.4 421.2 L829.4 421.4 L841 421.4Z" fill="#e8dc0a" stroke="none"/>
<path d="M884 400.4 L895.6 400.4 L897.6 400.6 L899.4 401.2 L901.2 402.1 L902.7 403.3 L903.9 404.8 L904.8 406.6 L905.4 408.4 L905.6 410.4 L905.6 411.4 L905.4 413.4 L904.8 415.2 L903.9 417 L902.7 418.5 L901.2 419.7 L899.4 420.6 L897.6 421.2 L895.6 421.4 L884 421.4Z" fill="#e8dc0a" stroke="none"/>
<path d="M841 427.9 L829.4 427.9 L827.4 428.1 L825.6 428.7 L823.8 429.6 L822.3 430.8 L821.1 432.3 L820.2 434.1 L819.6 435.9 L819.4 437.9 L819.4 438.9 L819.6 440.9 L820.2 442.7 L821.1 444.5 L822.3 446 L823.8 447.2 L825.6 448.1 L827.4 448.7 L829.4 448.9 L841 448.9Z" fill="#e8dc0a" stroke="none"/>
<path d="M884 427.9 L895.6 427.9 L897.6 428.1 L899.4 428.7 L901.2 429.6 L902.7 430.8 L903.9 432.3 L904.8 434.1 L905.4 435.9 L905.6 437.9 L905.6 438.9 L905.4 440.9 L904.8 442.7 L903.9 444.5 L902.7 446 L901.2 447.2 L899.4 448.1 L897.6 448.7 L895.6 448.9 L884 448.9Z" fill="#e8dc0a" stroke="none"/>
<path d="M841 455 L829.4 455 L827.4 455.2 L825.6 455.8 L823.8 456.7 L822.3 457.9 L821.1 459.4 L820.2 461.2 L819.6 463 L819.4 465 L819.4 466 L819.6 468 L820.2 469.8 L821.1 471.6 L822.3 473.1 L823.8 474.3 L825.6 475.2 L827.4 475.8 L829.4 476 L841 476Z" fill="#e8dc0a" stroke="none"/>
<path d="M884 455 L895.6 455 L897.6 455.2 L899.4 455.8 L901.2 456.7 L902.7 457.9 L903.9 459.4 L904.8 461.2 L905.4 463 L905.6 465 L905.6 466 L905.4 468 L904.8 469.8 L903.9 471.6 L902.7 473.1 L901.2 474.3 L899.4 475.2 L897.6 475.8 L895.6 476 L884 476Z" fill="#e8dc0a" stroke="none"/>
<path d="M841 482.2 L829.4 482.2 L827.4 482.4 L825.6 483 L823.8 483.9 L822.3 485.1 L821.1 486.6 L820.2 488.4 L819.6 490.2 L819.4 492.2 L819.4 493.2 L819.6 495.2 L820.2 497 L821.1 498.8 L822.3 500.3 L823.8 501.5 L825.6 502.4 L827.4 503 L829.4 503.2 L841 503.2Z" fill="#e8dc0a" stroke="none"/>
<path d="M884 482.2 L895.6 482.2 L897.6 482.4 L899.4 483 L901.2 483.9 L902.7 485.1 L903.9 486.6 L904.8 488.4 L905.4 490.2 L905.6 492.2 L905.6 493.2 L905.4 495.2 L904.8 497 L903.9 498.8 L902.7 500.3 L901.2 501.5 L899.4 502.4 L897.6 503 L895.6 503.2 L884 503.2Z" fill="#e8dc0a" stroke="none"/>
<path d="M950 359.9 L982.3 359.9 L982.3 488.8 L950 488.8Z" fill="#e8dc0a" stroke="none" stroke-linejoin="miter"/>
<path d="M944.3 346.5 L932.7 346.5 L930.7 346.7 L928.9 347.3 L927.1 348.2 L925.6 349.4 L924.4 350.9 L923.5 352.7 L922.9 354.5 L922.7 356.5 L922.7 357.5 L922.9 359.5 L923.5 361.3 L924.4 363.1 L925.6 364.6 L927.1 365.8 L928.9 366.7 L930.7 367.3 L932.7 367.5 L944.3 367.5Z" fill="#e8dc0a" stroke="none"/>
<path d="M987 346.5 L998.6 346.5 L1000.6 346.7 L1002.4 347.3 L1004.2 348.2 L1005.7 349.4 L1006.9 350.9 L1007.8 352.7 L1008.4 354.5 L1008.6 356.5 L1008.6 357.5 L1008.4 359.5 L1007.8 361.3 L1006.9 363.1 L1005.7 364.6 L1004.2 365.8 L1002.4 366.7 L1000.6 367.3 L998.6 367.5 L987 367.5Z" fill="#e8dc0a" stroke="none"/>
<path d="M944.3 373.4 L932.7 373.4 L930.7 373.6 L928.9 374.2 L927.1 375.1 L925.6 376.3 L924.4 377.8 L923.5 379.6 L922.9 381.4 L922.7 383.4 L922.7 384.4 L922.9 386.4 L923.5 388.2 L924.4 390 L925.6 391.5 L927.1 392.7 L928.9 393.6 L930.7 394.2 L932.7 394.4 L944.3 394.4Z" fill="#e8dc0a" stroke="none"/>
<path d="M987 373.4 L998.6 373.4 L1000.6 373.6 L1002.4 374.2 L1004.2 375.1 L1005.7 376.3 L1006.9 377.8 L1007.8 379.6 L1008.4 381.4 L1008.6 383.4 L1008.6 384.4 L1008.4 386.4 L1007.8 388.2 L1006.9 390 L1005.7 391.5 L1004.2 392.7 L1002.4 393.6 L1000.6 394.2 L998.6 394.4 L987 394.4Z" fill="#e8dc0a" stroke="none"/>
<path d="M944.3 400.4 L932.7 400.4 L930.7 400.6 L928.9 401.2 L927.1 402.1 L925.6 403.3 L924.4 404.8 L923.5 406.6 L922.9 408.4 L922.7 410.4 L922.7 411.4 L922.9 413.4 L923.5 415.2 L924.4 417 L925.6 418.5 L927.1 419.7 L928.9 420.6 L930.7 421.2 L932.7 421.4 L944.3 421.4Z" fill="#e8dc0a" stroke="none"/>
<path d="M987 400.4 L998.6 400.4 L1000.6 400.6 L1002.4 401.2 L1004.2 402.1 L1005.7 403.3 L1006.9 404.8 L1007.8 406.6 L1008.4 408.4 L1008.6 410.4 L1008.6 411.4 L1008.4 413.4 L1007.8 415.2 L1006.9 417 L1005.7 418.5 L1004.2 419.7 L1002.4 420.6 L1000.6 421.2 L998.6 421.4 L987 421.4Z" fill="#e8dc0a" stroke="none"/>
<path d="M944.3 427.9 L932.7 427.9 L930.7 428.1 L928.9 428.7 L927.1 429.6 L925.6 430.8 L924.4 432.3 L923.5 434.1 L922.9 435.9 L922.7 437.9 L922.7 438.9 L922.9 440.9 L923.5 442.7 L924.4 444.5 L925.6 446 L927.1 447.2 L928.9 448.1 L930.7 448.7 L932.7 448.9 L944.3 448.9Z" fill="#e8dc0a" stroke="none"/>
<path d="M987 427.9 L998.6 427.9 L1000.6 428.1 L1002.4 428.7 L1004.2 429.6 L1005.7 430.8 L1006.9 432.3 L1007.8 434.1 L1008.4 435.9 L1008.6 437.9 L1008.6 438.9 L1008.4 440.9 L1007.8 442.7 L1006.9 444.5 L1005.7 446 L1004.2 447.2 L1002.4 448.1 L1000.6 448.7 L998.6 448.9 L987 448.9Z" fill="#e8dc0a" stroke="none"/>
<path d="M944.3 455 L932.7 455 L930.7 455.2 L928.9 455.8 L927.1 456.7 L925.6 457.9 L924.4 459.4 L923.5 461.2 L922.9 463 L922.7 465 L922.7 466 L922.9 468 L923.5 469.8 L924.4 471.6 L925.6 473.1 L927.1 474.3 L928.9 475.2 L930.7 475.8 L932.7 476 L944.3 476Z" fill="#e8dc0a" stroke="none"/>
<path d="M987 455 L998.6 455 L1000.6 455.2 L1002.4 455.8 L1004.2 456.7 L1005.7 457.9 L1006.9 459.4 L1007.8 461.2 L1008.4 463 L1008.6 465 L1008.6 466 L1008.4 468 L1007.8 469.8 L1006.9 471.6 L1005.7 473.1 L1004.2 474.3 L1002.4 475.2 L1000.6 475.8 L998.6 476 L987 476Z" fill="#e8dc0a" stroke="none"/>
<path d="M944.3 482.2 L932.7 482.2 L930.7 482.4 L928.9 483 L927.1 483.9 L925.6 485.1 L924.4 486.6 L923.5 488.4 L922.9 490.2 L922.7 492.2 L922.7 493.2 L922.9 495.2 L923.5 497 L924.4 498.8 L925.6 500.3 L927.1 501.5 L928.9 502.4 L930.7 503 L932.7 503.2 L944.3 503.2Z" fill="#e8dc0a" stroke="none"/>
<path d="M987 482.2 L998.6 482.2 L1000.6 482.4 L1002.4 483 L1004.2 483.9 L1005.7 485.1 L1006.9 486.6 L1007.8 488.4 L1008.4 490.2 L1008.6 492.2 L1008.6 493.2 L1008.4 495.2 L1007.8 497 L1006.9 498.8 L1005.7 500.3 L1004.2 501.5 L1002.4 502.4 L1000.6 503 L998.6 503.2 L987 503.2Z" fill="#e8dc0a" stroke="none"/>
<path d="M1160.5 359.9 L1192.8 359.9 L1192.8 488.8 L1160.5 488.8Z" fill="#e8dc0a" stroke="none" stroke-linejoin="miter"/>
<path d="M1154.8 346.5 L1143.2 346.5 L1141.2 346.7 L1139.4 347.3 L1137.6 348.2 L1136.1 349.4 L1134.9 350.9 L1134 352.7 L1133.4 354.5 L1133.2 356.5 L1133.2 357.5 L1133.4 359.5 L1134 361.3 L1134.9 363.1 L1136.1 364.6 L1137.6 365.8 L1139.4 366.7 L1141.2 367.3 L1143.2 367.5 L1154.8 367.5Z" fill="#e8dc0a" stroke="none"/>
<path d="M1197 346.5 L1208.6 346.5 L1210.6 346.7 L1212.4 347.3 L1214.2 348.2 L1215.7 349.4 L1216.9 350.9 L1217.8 352.7 L1218.4 354.5 L1218.6 356.5 L1218.6 357.5 L1218.4 359.5 L1217.8 361.3 L1216.9 363.1 L1215.7 364.6 L1214.2 365.8 L1212.4 366.7 L1210.6 367.3 L1208.6 367.5 L1197 367.5Z" fill="#e8dc0a" stroke="none"/>
<path d="M1154.8 373.4 L1143.2 373.4 L1141.2 373.6 L1139.4 374.2 L1137.6 375.1 L1136.1 376.3 L1134.9 377.8 L1134 379.6 L1133.4 381.4 L1133.2 383.4 L1133.2 384.4 L1133.4 386.4 L1134 388.2 L1134.9 390 L1136.1 391.5 L1137.6 392.7 L1139.4 393.6 L1141.2 394.2 L1143.2 394.4 L1154.8 394.4Z" fill="#e8dc0a" stroke="none"/>
<path d="M1197 373.4 L1208.6 373.4 L1210.6 373.6 L1212.4 374.2 L1214.2 375.1 L1215.7 376.3 L1216.9 377.8 L1217.8 379.6 L1218.4 381.4 L1218.6 383.4 L1218.6 384.4 L1218.4 386.4 L1217.8 388.2 L1216.9 390 L1215.7 391.5 L1214.2 392.7 L1212.4 393.6 L1210.6 394.2 L1208.6 394.4 L1197 394.4Z" fill="#e8dc0a" stroke="none"/>
<path d="M1154.8 400.4 L1143.2 400.4 L1141.2 400.6 L1139.4 401.2 L1137.6 402.1 L1136.1 403.3 L1134.9 404.8 L1134 406.6 L1133.4 408.4 L1133.2 410.4 L1133.2 411.4 L1133.4 413.4 L1134 415.2 L1134.9 417 L1136.1 418.5 L1137.6 419.7 L1139.4 420.6 L1141.2 421.2 L1143.2 421.4 L1154.8 421.4Z" fill="#e8dc0a" stroke="none"/>
<path d="M1197 400.4 L1208.6 400.4 L1210.6 400.6 L1212.4 401.2 L1214.2 402.1 L1215.7 403.3 L1216.9 404.8 L1217.8 406.6 L1218.4 408.4 L1218.6 410.4 L1218.6 411.4 L1218.4 413.4 L1217.8 415.2 L1216.9 417 L1215.7 418.5 L1214.2 419.7 L1212.4 420.6 L1210.6 421.2 L1208.6 421.4 L1197 421.4Z" fill="#e8dc0a" stroke="none"/>
<path d="M1154.8 427.9 L1143.2 427.9 L1141.2 428.1 L1139.4 428.7 L1137.6 429.6 L1136.1 430.8 L1134.9 432.3 L1134 434.1 L1133.4 435.9 L1133.2 437.9 L1133.2 438.9 L1133.4 440.9 L1134 442.7 L1134.9 444.5 L1136.1 446 L1137.6 447.2 L1139.4 448.1 L1141.2 448.7 L1143.2 448.9 L1154.8 448.9Z" fill="#e8dc0a" stroke="none"/>
<path d="M1197 427.9 L1208.6 427.9 L1210.6 428.1 L1212.4 428.7 L1214.2 429.6 L1215.7 430.8 L1216.9 432.3 L1217.8 434.1 L1218.4 435.9 L1218.6 437.9 L1218.6 438.9 L1218.4 440.9 L1217.8 442.7 L1216.9 444.5 L1215.7 446 L1214.2 447.2 L1212.4 448.1 L1210.6 448.7 L1208.6 448.9 L1197 448.9Z" fill="#e8dc0a" stroke="none"/>
<path d="M1154.8 455 L1143.2 455 L1141.2 455.2 L1139.4 455.8 L1137.6 456.7 L1136.1 457.9 L1134.9 459.4 L1134 461.2 L1133.4 463 L1133.2 465 L1133.2 466 L1133.4 468 L1134 469.8 L1134.9 471.6 L1136.1 473.1 L1137.6 474.3 L1139.4 475.2 L1141.2 475.8 L1143.2 476 L1154.8 476Z" fill="#e8dc0a" stroke="none"/>
<path d="M1197 455 L1208.6 455 L1210.6 455.2 L1212.4 455.8 L1214.2 456.7 L1215.7 457.9 L1216.9 459.4 L1217.8 461.2 L1218.4 463 L1218.6 465 L1218.6 466 L1218.4 468 L1217.8 469.8 L1216.9 471.6 L1215.7 473.1 L1214.2 474.3 L1212.4 475.2 L1210.6 475.8 L1208.6 476 L1197 476Z" fill="#e8dc0a" stroke="none"/>
<path d="M1154.8 482.2 L1143.2 482.2 L1141.2 482.4 L1139.4 483 L1137.6 483.9 L1136.1 485.1 L1134.9 486.6 L1134 488.4 L1133.4 490.2 L1133.2 492.2 L1133.2 493.2 L1133.4 495.2 L1134 497 L1134.9 498.8 L1136.1 500.3 L1137.6 501.5 L1139.4 502.4 L1141.2 503 L1143.2 503.2 L1154.8 503.2Z" fill="#e8dc0a" stroke="none"/>
<path d="M1197 482.2 L1208.6 482.2 L1210.6 482.4 L1212.4 483 L1214.2 483.9 L1215.7 485.1 L1216.9 486.6 L1217.8 488.4 L1218.4 490.2 L1218.6 492.2 L1218.6 493.2 L1218.4 495.2 L1217.8 497 L1216.9 498.8 L1215.7 500.3 L1214.2 501.5 L1212.4 502.4 L1210.6 503 L1208.6 503.2 L1197 503.2Z" fill="#e8dc0a" stroke="none"/>
<path d="M1263 359.9 L1295.3 359.9 L1295.3 488.8 L1263 488.8Z" fill="#e8dc0a" stroke="none" stroke-linejoin="miter"/>
<path d="M1257.3 346.5 L1245.7 346.5 L1243.7 346.7 L1241.9 347.3 L1240.1 348.2 L1238.6 349.4 L1237.4 350.9 L1236.5 352.7 L1235.9 354.5 L1235.7 356.5 L1235.7 357.5 L1235.9 359.5 L1236.5 361.3 L1237.4 363.1 L1238.6 364.6 L1240.1 365.8 L1241.9 366.7 L1243.7 367.3 L1245.7 367.5 L1257.3 367.5Z" fill="#e8dc0a" stroke="none"/>
<path d="M1301.3 346.5 L1312.9 346.5 L1314.9 346.7 L1316.7 347.3 L1318.5 348.2 L1320 349.4 L1321.2 350.9 L1322.1 352.7 L1322.7 354.5 L1322.9 356.5 L1322.9 357.5 L1322.7 359.5 L1322.1 361.3 L1321.2 363.1 L1320 364.6 L1318.5 365.8 L1316.7 366.7 L1314.9 367.3 L1312.9 367.5 L1301.3 367.5Z" fill="#e8dc0a" stroke="none"/>
<path d="M1257.3 373.4 L1245.7 373.4 L1243.7 373.6 L1241.9 374.2 L1240.1 375.1 L1238.6 376.3 L1237.4 377.8 L1236.5 379.6 L1235.9 381.4 L1235.7 383.4 L1235.7 384.4 L1235.9 386.4 L1236.5 388.2 L1237.4 390 L1238.6 391.5 L1240.1 392.7 L1241.9 393.6 L1243.7 394.2 L1245.7 394.4 L1257.3 394.4Z" fill="#e8dc0a" stroke="none"/>
<path d="M1301.3 373.4 L1312.9 373.4 L1314.9 373.6 L1316.7 374.2 L1318.5 375.1 L1320 376.3 L1321.2 377.8 L1322.1 379.6 L1322.7 381.4 L1322.9 383.4 L1322.9 384.4 L1322.7 386.4 L1322.1 388.2 L1321.2 390 L1320 391.5 L1318.5 392.7 L1316.7 393.6 L1314.9 394.2 L1312.9 394.4 L1301.3 394.4Z" fill="#e8dc0a" stroke="none"/>
<path d="M1257.3 400.4 L1245.7 400.4 L1243.7 400.6 L1241.9 401.2 L1240.1 402.1 L1238.6 403.3 L1237.4 404.8 L1236.5 406.6 L1235.9 408.4 L1235.7 410.4 L1235.7 411.4 L1235.9 413.4 L1236.5 415.2 L1237.4 417 L1238.6 418.5 L1240.1 419.7 L1241.9 420.6 L1243.7 421.2 L1245.7 421.4 L1257.3 421.4Z" fill="#e8dc0a" stroke="none"/>
<path d="M1301.3 400.4 L1312.9 400.4 L1314.9 400.6 L1316.7 401.2 L1318.5 402.1 L1320 403.3 L1321.2 404.8 L1322.1 406.6 L1322.7 408.4 L1322.9 410.4 L1322.9 411.4 L1322.7 413.4 L1322.1 415.2 L1321.2 417 L1320 418.5 L1318.5 419.7 L1316.7 420.6 L1314.9 421.2 L1312.9 421.4 L1301.3 421.4Z" fill="#e8dc0a" stroke="none"/>
<path d="M1257.3 427.9 L1245.7 427.9 L1243.7 428.1 L1241.9 428.7 L1240.1 429.6 L1238.6 430.8 L1237.4 432.3 L1236.5 434.1 L1235.9 435.9 L1235.7 437.9 L1235.7 438.9 L1235.9 440.9 L1236.5 442.7 L1237.4 444.5 L1238.6 446 L1240.1 447.2 L1241.9 448.1 L1243.7 448.7 L1245.7 448.9 L1257.3 448.9Z" fill="#e8dc0a" stroke="none"/>
<path d="M1301.3 427.9 L1312.9 427.9 L1314.9 428.1 L1316.7 428.7 L1318.5 429.6 L1320 430.8 L1321.2 432.3 L1322.1 434.1 L1322.7 435.9 L1322.9 437.9 L1322.9 438.9 L1322.7 440.9 L1322.1 442.7 L1321.2 444.5 L1320 446 L1318.5 447.2 L1316.7 448.1 L1314.9 448.7 L1312.9 448.9 L1301.3 448.9Z" fill="#e8dc0a" stroke="none"/>
<path d="M1257.3 455 L1245.7 455 L1243.7 455.2 L1241.9 455.8 L1240.1 456.7 L1238.6 457.9 L1237.4 459.4 L1236.5 461.2 L1235.9 463 L1235.7 465 L1235.7 466 L1235.9 468 L1236.5 469.8 L1237.4 471.6 L1238.6 473.1 L1240.1 474.3 L1241.9 475.2 L1243.7 475.8 L1245.7 476 L1257.3 476Z" fill="#e8dc0a" stroke="none"/>
<path d="M1301.3 455 L1312.9 455 L1314.9 455.2 L1316.7 455.8 L1318.5 456.7 L1320 457.9 L1321.2 459.4 L1322.1 461.2 L1322.7 463 L1322.9 465 L1322.9 466 L1322.7 468 L1322.1 469.8 L1321.2 471.6 L1320 473.1 L1318.5 474.3 L1316.7 475.2 L1314.9 475.8 L1312.9 476 L1301.3 476Z" fill="#e8dc0a" stroke="none"/>
<path d="M1257.3 482.2 L1245.7 482.2 L1243.7 482.4 L1241.9 483 L1240.1 483.9 L1238.6 485.1 L1237.4 486.6 L1236.5 488.4 L1235.9 490.2 L1235.7 492.2 L1235.7 493.2 L1235.9 495.2 L1236.5 497 L1237.4 498.8 L1238.6 500.3 L1240.1 501.5 L1241.9 502.4 L1243.7 503 L1245.7 503.2 L1257.3 503.2Z" fill="#e8dc0a" stroke="none"/>
<path d="M1301.3 482.2 L1312.9 482.2 L1314.9 482.4 L1316.7 483 L1318.5 483.9 L1320 485.1 L1321.2 486.6 L1322.1 488.4 L1322.7 490.2 L1322.9 492.2 L1322.9 493.2 L1322.7 495.2 L1322.1 497 L1321.2 498.8 L1320 500.3 L1318.5 501.5 L1316.7 502.4 L1314.9 503 L1312.9 503.2 L1301.3 503.2Z" fill="#e8dc0a" stroke="none"/>
<path d="M1367.3 359.9 L1399.6 359.9 L1399.6 488.8 L1367.3 488.8Z" fill="#e8dc0a" stroke="none" stroke-linejoin="miter"/>
<path d="M1361.6 346.5 L1350 346.5 L1348 346.7 L1346.2 347.3 L1344.4 348.2 L1342.9 349.4 L1341.7 350.9 L1340.8 352.7 L1340.2 354.5 L1340 356.5 L1340 357.5 L1340.2 359.5 L1340.8 361.3 L1341.7 363.1 L1342.9 364.6 L1344.4 365.8 L1346.2 366.7 L1348 367.3 L1350 367.5 L1361.6 367.5Z" fill="#e8dc0a" stroke="none"/>
<path d="M1405.1 346.5 L1416.7 346.5 L1418.7 346.7 L1420.5 347.3 L1422.3 348.2 L1423.8 349.4 L1425 350.9 L1425.9 352.7 L1426.5 354.5 L1426.7 356.5 L1426.7 357.5 L1426.5 359.5 L1425.9 361.3 L1425 363.1 L1423.8 364.6 L1422.3 365.8 L1420.5 366.7 L1418.7 367.3 L1416.7 367.5 L1405.1 367.5Z" fill="#e8dc0a" stroke="none"/>
<path d="M1361.6 373.4 L1350 373.4 L1348 373.6 L1346.2 374.2 L1344.4 375.1 L1342.9 376.3 L1341.7 377.8 L1340.8 379.6 L1340.2 381.4 L1340 383.4 L1340 384.4 L1340.2 386.4 L1340.8 388.2 L1341.7 390 L1342.9 391.5 L1344.4 392.7 L1346.2 393.6 L1348 394.2 L1350 394.4 L1361.6 394.4Z" fill="#e8dc0a" stroke="none"/>
<path d="M1405.1 373.4 L1416.7 373.4 L1418.7 373.6 L1420.5 374.2 L1422.3 375.1 L1423.8 376.3 L1425 377.8 L1425.9 379.6 L1426.5 381.4 L1426.7 383.4 L1426.7 384.4 L1426.5 386.4 L1425.9 388.2 L1425 390 L1423.8 391.5 L1422.3 392.7 L1420.5 393.6 L1418.7 394.2 L1416.7 394.4 L1405.1 394.4Z" fill="#e8dc0a" stroke="none"/>
<path d="M1361.6 400.4 L1350 400.4 L1348 400.6 L1346.2 401.2 L1344.4 402.1 L1342.9 403.3 L1341.7 404.8 L1340.8 406.6 L1340.2 408.4 L1340 410.4 L1340 411.4 L1340.2 413.4 L1340.8 415.2 L1341.7 417 L1342.9 418.5 L1344.4 419.7 L1346.2 420.6 L1348 421.2 L1350 421.4 L1361.6 421.4Z" fill="#e8dc0a" stroke="none"/>
<path d="M1405.1 400.4 L1416.7 400.4 L1418.7 400.6 L1420.5 401.2 L1422.3 402.1 L1423.8 403.3 L1425 404.8 L1425.9 406.6 L1426.5 408.4 L1426.7 410.4 L1426.7 411.4 L1426.5 413.4 L1425.9 415.2 L1425 417 L1423.8 418.5 L1422.3 419.7 L1420.5 420.6 L1418.7 421.2 L1416.7 421.4 L1405.1 421.4Z" fill="#e8dc0a" stroke="none"/>
<path d="M1361.6 427.9 L1350 427.9 L1348 428.1 L1346.2 428.7 L1344.4 429.6 L1342.9 430.8 L1341.7 432.3 L1340.8 434.1 L1340.2 435.9 L1340 437.9 L1340 438.9 L1340.2 440.9 L1340.8 442.7 L1341.7 444.5 L1342.9 446 L1344.4 447.2 L1346.2 448.1 L1348 448.7 L1350 448.9 L1361.6 448.9Z" fill="#e8dc0a" stroke="none"/>
<path d="M1405.1 427.9 L1416.7 427.9 L1418.7 428.1 L1420.5 428.7 L1422.3 429.6 L1423.8 430.8 L1425 432.3 L1425.9 434.1 L1426.5 435.9 L1426.7 437.9 L1426.7 438.9 L1426.5 440.9 L1425.9 442.7 L1425 444.5 L1423.8 446 L1422.3 447.2 L1420.5 448.1 L1418.7 448.7 L1416.7 448.9 L1405.1 448.9Z" fill="#e8dc0a" stroke="none"/>
<path d="M1361.6 455 L1350 455 L1348 455.2 L1346.2 455.8 L1344.4 456.7 L1342.9 457.9 L1341.7 459.4 L1340.8 461.2 L1340.2 463 L1340 465 L1340 466 L1340.2 468 L1340.8 469.8 L1341.7 471.6 L1342.9 473.1 L1344.4 474.3 L1346.2 475.2 L1348 475.8 L1350 476 L1361.6 476Z" fill="#e8dc0a" stroke="none"/>
<path d="M1405.1 455 L1416.7 455 L1418.7 455.2 L1420.5 455.8 L1422.3 456.7 L1423.8 457.9 L1425 459.4 L1425.9 461.2 L1426.5 463 L1426.7 465 L1426.7 466 L1426.5 468 L1425.9 469.8 L1425 471.6 L1423.8 473.1 L1422.3 474.3 L1420.5 475.2 L1418.7 475.8 L1416.7 476 L1405.1 476Z" fill="#e8dc0a" stroke="none"/>
<path d="M1361.6 482.2 L1350 482.2 L1348 482.4 L1346.2 483 L1344.4 483.9 L1342.9 485.1 L1341.7 486.6 L1340.8 488.4 L1340.2 490.2 L1340 492.2 L1340 493.2 L1340.2 495.2 L1340.8 497 L1341.7 498.8 L1342.9 500.3 L1344.4 501.5 L1346.2 502.4 L1348 503 L1350 503.2 L1361.6 503.2Z" fill="#e8dc0a" stroke="none"/>
<path d="M1405.1 482.2 L1416.7 482.2 L1418.7 482.4 L1420.5 483 L1422.3 483.9 L1423.8 485.1 L1425 486.6 L1425.9 488.4 L1426.5 490.2 L1426.7 492.2 L1426.7 493.2 L1426.5 495.2 L1425.9 497 L1425 498.8 L1423.8 500.3 L1422.3 501.5 L1420.5 502.4 L1418.7 503 L1416.7 503.2 L1405.1 503.2Z" fill="#e8dc0a" stroke="none"/>
<path d="M1471.1 359.9 L1503.4 359.9 L1503.4 488.8 L1471.1 488.8Z" fill="#e8dc0a" stroke="none" stroke-linejoin="miter"/>
<path d="M1465.4 346.5 L1453.8 346.5 L1451.8 346.7 L1450 347.3 L1448.2 348.2 L1446.7 349.4 L1445.5 350.9 L1444.6 352.7 L1444 354.5 L1443.8 356.5 L1443.8 357.5 L1444 359.5 L1444.6 361.3 L1445.5 363.1 L1446.7 364.6 L1448.2 365.8 L1450 366.7 L1451.8 367.3 L1453.8 367.5 L1465.4 367.5Z" fill="#e8dc0a" stroke="none"/>
<path d="M1508.9 346.5 L1520.5 346.5 L1522.5 346.7 L1524.3 347.3 L1526.1 348.2 L1527.6 349.4 L1528.8 350.9 L1529.7 352.7 L1530.3 354.5 L1530.5 356.5 L1530.5 357.5 L1530.3 359.5 L1529.7 361.3 L1528.8 363.1 L1527.6 364.6 L1526.1 365.8 L1524.3 366.7 L1522.5 367.3 L1520.5 367.5 L1508.9 367.5Z" fill="#e8dc0a" stroke="none"/>
<path d="M1465.4 373.4 L1453.8 373.4 L1451.8 373.6 L1450 374.2 L1448.2 375.1 L1446.7 376.3 L1445.5 377.8 L1444.6 379.6 L1444 381.4 L1443.8 383.4 L1443.8 384.4 L1444 386.4 L1444.6 388.2 L1445.5 390 L1446.7 391.5 L1448.2 392.7 L1450 393.6 L1451.8 394.2 L1453.8 394.4 L1465.4 394.4Z" fill="#e8dc0a" stroke="none"/>
<path d="M1508.9 373.4 L1520.5 373.4 L1522.5 373.6 L1524.3 374.2 L1526.1 375.1 L1527.6 376.3 L1528.8 377.8 L1529.7 379.6 L1530.3 381.4 L1530.5 383.4 L1530.5 384.4 L1530.3 386.4 L1529.7 388.2 L1528.8 390 L1527.6 391.5 L1526.1 392.7 L1524.3 393.6 L1522.5 394.2 L1520.5 394.4 L1508.9 394.4Z" fill="#e8dc0a" stroke="none"/>
<path d="M1465.4 400.4 L1453.8 400.4 L1451.8 400.6 L1450 401.2 L1448.2 402.1 L1446.7 403.3 L1445.5 404.8 L1444.6 406.6 L1444 408.4 L1443.8 410.4 L1443.8 411.4 L1444 413.4 L1444.6 415.2 L1445.5 417 L1446.7 418.5 L1448.2 419.7 L1450 420.6 L1451.8 421.2 L1453.8 421.4 L1465.4 421.4Z" fill="#e8dc0a" stroke="none"/>
<path d="M1508.9 400.4 L1520.5 400.4 L1522.5 400.6 L1524.3 401.2 L1526.1 402.1 L1527.6 403.3 L1528.8 404.8 L1529.7 406.6 L1530.3 408.4 L1530.5 410.4 L1530.5 411.4 L1530.3 413.4 L1529.7 415.2 L1528.8 417 L1527.6 418.5 L1526.1 419.7 L1524.3 420.6 L1522.5 421.2 L1520.5 421.4 L1508.9 421.4Z" fill="#e8dc0a" stroke="none"/>
<path d="M1465.4 427.9 L1453.8 427.9 L1451.8 428.1 L1450 428.7 L1448.2 429.6 L1446.7 430.8 L1445.5 432.3 L1444.6 434.1 L1444 435.9 L1443.8 437.9 L1443.8 438.9 L1444 440.9 L1444.6 442.7 L1445.5 444.5 L1446.7 446 L1448.2 447.2 L1450 448.1 L1451.8 448.7 L1453.8 448.9 L1465.4 448.9Z" fill="#e8dc0a" stroke="none"/>
<path d="M1508.9 427.9 L1520.5 427.9 L1522.5 428.1 L1524.3 428.7 L1526.1 429.6 L1527.6 430.8 L1528.8 432.3 L1529.7 434.1 L1530.3 435.9 L1530.5 437.9 L1530.5 438.9 L1530.3 440.9 L1529.7 442.7 L1528.8 444.5 L1527.6 446 L1526.1 447.2 L1524.3 448.1 L1522.5 448.7 L1520.5 448.9 L1508.9 448.9Z" fill="#e8dc0a" stroke="none"/>
<path d="M1465.4 455 L1453.8 455 L1451.8 455.2 L1450 455.8 L1448.2 456.7 L1446.7 457.9 L1445.5 459.4 L1444.6 461.2 L1444 463 L1443.8 465 L1443.8 466 L1444 468 L1444.6 469.8 L1445.5 471.6 L1446.7 473.1 L1448.2 474.3 L1450 475.2 L1451.8 475.8 L1453.8 476 L1465.4 476Z" fill="#e8dc0a" stroke="none"/>
<path d="M1508.9 455 L1520.5 455 L1522.5 455.2 L1524.3 455.8 L1526.1 456.7 L1527.6 457.9 L1528.8 459.4 L1529.7 461.2 L1530.3 463 L1530.5 465 L1530.5 466 L1530.3 468 L1529.7 469.8 L1528.8 471.6 L1527.6 473.1 L1526.1 474.3 L1524.3 475.2 L1522.5 475.8 L1520.5 476 L1508.9 476Z" fill="#e8dc0a" stroke="none"/>
<path d="M1465.4 482.2 L1453.8 482.2 L1451.8 482.4 L1450 483 L1448.2 483.9 L1446.7 485.1 L1445.5 486.6 L1444.6 488.4 L1444 490.2 L1443.8 492.2 L1443.8 493.2 L1444 495.2 L1444.6 497 L1445.5 498.8 L1446.7 500.3 L1448.2 501.5 L1450 502.4 L1451.8 503 L1453.8 503.2 L1465.4 503.2Z" fill="#e8dc0a" stroke="none"/>
<path d="M1508.9 482.2 L1520.5 482.2 L1522.5 482.4 L1524.3 483 L1526.1 483.9 L1527.6 485.1 L1528.8 486.6 L1529.7 488.4 L1530.3 490.2 L1530.5 492.2 L1530.5 493.2 L1530.3 495.2 L1529.7 497 L1528.8 498.8 L1527.6 500.3 L1526.1 501.5 L1524.3 502.4 L1522.5 503 L1520.5 503.2 L1508.9 503.2Z" fill="#e8dc0a" stroke="none"/>
<path d="M1574.9 359.9 L1607.2 359.9 L1607.2 488.8 L1574.9 488.8Z" fill="#e8dc0a" stroke="none" stroke-linejoin="miter"/>
<path d="M1569.2 346.5 L1557.6 346.5 L1555.6 346.7 L1553.8 347.3 L1552 348.2 L1550.5 349.4 L1549.3 350.9 L1548.4 352.7 L1547.8 354.5 L1547.6 356.5 L1547.6 357.5 L1547.8 359.5 L1548.4 361.3 L1549.3 363.1 L1550.5 364.6 L1552 365.8 L1553.8 366.7 L1555.6 367.3 L1557.6 367.5 L1569.2 367.5Z" fill="#e8dc0a" stroke="none"/>
<path d="M1612.7 346.5 L1624.3 346.5 L1626.3 346.7 L1628.1 347.3 L1629.9 348.2 L1631.4 349.4 L1632.6 350.9 L1633.5 352.7 L1634.1 354.5 L1634.3 356.5 L1634.3 357.5 L1634.1 359.5 L1633.5 361.3 L1632.6 363.1 L1631.4 364.6 L1629.9 365.8 L1628.1 366.7 L1626.3 367.3 L1624.3 367.5 L1612.7 367.5Z" fill="#e8dc0a" stroke="none"/>
<path d="M1569.2 373.4 L1557.6 373.4 L1555.6 373.6 L1553.8 374.2 L1552 375.1 L1550.5 376.3 L1549.3 377.8 L1548.4 379.6 L1547.8 381.4 L1547.6 383.4 L1547.6 384.4 L1547.8 386.4 L1548.4 388.2 L1549.3 390 L1550.5 391.5 L1552 392.7 L1553.8 393.6 L1555.6 394.2 L1557.6 394.4 L1569.2 394.4Z" fill="#e8dc0a" stroke="none"/>
<path d="M1612.7 373.4 L1624.3 373.4 L1626.3 373.6 L1628.1 374.2 L1629.9 375.1 L1631.4 376.3 L1632.6 377.8 L1633.5 379.6 L1634.1 381.4 L1634.3 383.4 L1634.3 384.4 L1634.1 386.4 L1633.5 388.2 L1632.6 390 L1631.4 391.5 L1629.9 392.7 L1628.1 393.6 L1626.3 394.2 L1624.3 394.4 L1612.7 394.4Z" fill="#e8dc0a" stroke="none"/>
<path d="M1569.2 400.4 L1557.6 400.4 L1555.6 400.6 L1553.8 401.2 L1552 402.1 L1550.5 403.3 L1549.3 404.8 L1548.4 406.6 L1547.8 408.4 L1547.6 410.4 L1547.6 411.4 L1547.8 413.4 L1548.4 415.2 L1549.3 417 L1550.5 418.5 L1552 419.7 L1553.8 420.6 L1555.6 421.2 L1557.6 421.4 L1569.2 421.4Z" fill="#e8dc0a" stroke="none"/>
<path d="M1612.7 400.4 L1624.3 400.4 L1626.3 400.6 L1628.1 401.2 L1629.9 402.1 L1631.4 403.3 L1632.6 404.8 L1633.5 406.6 L1634.1 408.4 L1634.3 410.4 L1634.3 411.4 L1634.1 413.4 L1633.5 415.2 L1632.6 417 L1631.4 418.5 L1629.9 419.7 L1628.1 420.6 L1626.3 421.2 L1624.3 421.4 L1612.7 421.4Z" fill="#e8dc0a" stroke="none"/>
<path d="M1569.2 427.9 L1557.6 427.9 L1555.6 428.1 L1553.8 428.7 L1552 429.6 L1550.5 430.8 L1549.3 432.3 L1548.4 434.1 L1547.8 435.9 L1547.6 437.9 L1547.6 438.9 L1547.8 440.9 L1548.4 442.7 L1549.3 444.5 L1550.5 446 L1552 447.2 L1553.8 448.1 L1555.6 448.7 L1557.6 448.9 L1569.2 448.9Z" fill="#e8dc0a" stroke="none"/>
<path d="M1612.7 427.9 L1624.3 427.9 L1626.3 428.1 L1628.1 428.7 L1629.9 429.6 L1631.4 430.8 L1632.6 432.3 L1633.5 434.1 L1634.1 435.9 L1634.3 437.9 L1634.3 438.9 L1634.1 440.9 L1633.5 442.7 L1632.6 444.5 L1631.4 446 L1629.9 447.2 L1628.1 448.1 L1626.3 448.7 L1624.3 448.9 L1612.7 448.9Z" fill="#e8dc0a" stroke="none"/>
<path d="M1569.2 455 L1557.6 455 L1555.6 455.2 L1553.8 455.8 L1552 456.7 L1550.5 457.9 L1549.3 459.4 L1548.4 461.2 L1547.8 463 L1547.6 465 L1547.6 466 L1547.8 468 L1548.4 469.8 L1549.3 471.6 L1550.5 473.1 L1552 474.3 L1553.8 475.2 L1555.6 475.8 L1557.6 476 L1569.2 476Z" fill="#e8dc0a" stroke="none"/>
<path d="M1612.7 455 L1624.3 455 L1626.3 455.2 L1628.1 455.8 L1629.9 456.7 L1631.4 457.9 L1632.6 459.4 L1633.5 461.2 L1634.1 463 L1634.3 465 L1634.3 466 L1634.1 468 L1633.5 469.8 L1632.6 471.6 L1631.4 473.1 L1629.9 474.3 L1628.1 475.2 L1626.3 475.8 L1624.3 476 L1612.7 476Z" fill="#e8dc0a" stroke="none"/>
<path d="M1569.2 482.2 L1557.6 482.2 L1555.6 482.4 L1553.8 483 L1552 483.9 L1550.5 485.1 L1549.3 486.6 L1548.4 488.4 L1547.8 490.2 L1547.6 492.2 L1547.6 493.2 L1547.8 495.2 L1548.4 497 L1549.3 498.8 L1550.5 500.3 L1552 501.5 L1553.8 502.4 L1555.6 503 L1557.6 503.2 L1569.2 503.2Z" fill="#e8dc0a" stroke="none"/>
<path d="M1612.7 482.2 L1624.3 482.2 L1626.3 482.4 L1628.1 483 L1629.9 483.9 L1631.4 485.1 L1632.6 486.6 L1633.5 488.4 L1634.1 490.2 L1634.3 492.2 L1634.3 493.2 L1634.1 495.2 L1633.5 497 L1632.6 498.8 L1631.4 500.3 L1629.9 501.5 L1628.1 502.4 L1626.3 503 L1624.3 503.2 L1612.7 503.2Z" fill="#e8dc0a" stroke="none"/>
<path d="M1899.3 222.2 L1989.6 222.2" fill="none" stroke="#161616" stroke-width="2.12"/>
<path d="M1899.3 238.5 L1989.6 238.5" fill="none" stroke="#161616" stroke-width="2.12"/>
<path d="M1899.3 256.3 L1989.6 256.3" fill="none" stroke="#161616" stroke-width="2.12"/>
<path d="M1899.3 273.3 L1989.6 273.3" fill="none" stroke="#161616" stroke-width="2.12"/>
<path d="M1896.3 304.4 L1972.6 339.9 L1971.6 342 L1895.3 306.5Z" fill="none" stroke="#161616" stroke-width="1.5"/>
<path d="M1896.3 304.4 L1916.3 271.1 L1917 271.6 L1918.1 272.3 L1919.3 273.1 L1920.6 273.9 L1922.1 274.9 L1923.5 275.9 L1925 277.1 L1926.4 278.2 L1927.7 279.4 L1928.9 280.7 L1929.9 282 L1930.9 283.4 L1931.8 284.8 L1932.8 286.4 L1933.6 288 L1934.4 289.6 L1935.2 291.2 L1935.9 292.9 L1936.5 294.6 L1937 296.2 L1937.5 298 L1937.8 299.9 L1938.1 302 L1938.3 304 L1938.4 306.1 L1938.5 308.1 L1938.6 309.9 L1938.6 311.6 L1938.7 312.9 L1938.8 314" fill="none" stroke="#161616" stroke-width="2.0"/>
<path d="M1972.6 339.9 L1985.4 300.7 L1984.5 300.4 L1983.2 300 L1981.7 299.4 L1980.1 298.8 L1978.3 298.3 L1976.4 297.7 L1974.4 297.2 L1972.5 296.8 L1970.6 296.6 L1968.8 296.5 L1967.1 296.7 L1965.3 296.9 L1963.4 297.3 L1961.6 297.8 L1959.7 298.3 L1957.8 299 L1956 299.7 L1954.3 300.5 L1952.6 301.3 L1951.1 302.2 L1949.6 303.1 L1948.1 304.3 L1946.6 305.6 L1945.2 307 L1943.8 308.4 L1942.6 309.8 L1941.4 311.1 L1940.4 312.3 L1939.5 313.3 L1938.8 314" fill="none" stroke="#161616" stroke-width="2.0"/>
<path d="M1951.8 282.9 L1918.8 359.2" fill="none" stroke="#161616" stroke-width="2.0"/>
<path d="M1740 267 L1740 498.3" fill="none" stroke="#161616" stroke-width="2.12"/>
<path d="M1738.8 498.4 L1737.9 501.3 L1736.7 504.9 L1735.3 509.2 L1733.7 514 L1732 519.2 L1730.3 524.7 L1728.5 530.5 L1726.7 536.3 L1725 542.1 L1723.4 547.8 L1721.9 553.5 L1720.4 559.5 L1718.9 565.7 L1717.3 572 L1715.8 578.4 L1714.3 584.8 L1712.9 591.3 L1711.4 597.7 L1709.9 604 L1708.5 610.2 L1707.1 616.2 L1705.6 622.2 L1704.2 628 L1702.8 633.8 L1701.4 639.7 L1700 645.5 L1698.7 651.4 L1697.4 657.4 L1696.1 663.5 L1694.9 669.8 L1693.7 676.2 L1692.6 682.8 L1691.5 689.5 L1690.4 696.3 L1689.4 703.2 L1688.3 710.1 L1687.4 717 L1686.4 723.9 L1685.5 730.8 L1684.6 737.6 L1683.7 744.4 L1682.9 751.2 L1682.1 757.9 L1681.3 764.7 L1680.6 771.5 L1679.8 778.3 L1679.2 785.1 L1678.5 791.8 L1677.9 798.6 L1677.3 805.4 L1676.7 812.4 L1676.2 819.6 L1675.7 827.1 L1675.3 834.6 L1674.8 842 L1674.4 849.2 L1674.1 856 L1673.7 862.4 L1673.4 868.2 L1673.2 873.2 L1673 877.5 L1672.9 881.3 L1672.8 884.6 L1672.7 887.4 L1672.7 889.8 L1672.7 891.9 L1672.7 893.7 L1672.7 895.3 L1672.7 896.7 L1672.7 898" fill="none" stroke="#161616" stroke-width="2.12"/>
<path d="M1834.6 504.4 L1833.5 507.8 L1832.2 512.1 L1830.6 517.2 L1828.8 523 L1826.8 529.2 L1824.8 535.7 L1822.7 542.3 L1820.7 548.9 L1818.8 555.3 L1817 561.4 L1815.3 567.2 L1813.6 573.1 L1811.9 579 L1810.3 584.9 L1808.6 590.9 L1807 596.8 L1805.4 602.8 L1803.8 608.9 L1802.2 614.9 L1800.7 621 L1799.2 627.1 L1797.8 633.2 L1796.3 639.3 L1794.9 645.5 L1793.6 651.7 L1792.2 657.9 L1790.9 664.2 L1789.6 670.5 L1788.3 676.9 L1787.1 683.4 L1785.9 690 L1784.7 696.6 L1783.5 703.3 L1782.4 710.1 L1781.3 717 L1780.2 723.8 L1779.2 730.7 L1778.2 737.6 L1777.2 744.4 L1776.3 751.2 L1775.4 758 L1774.6 764.9 L1773.9 771.8 L1773.2 778.6 L1772.5 785.5 L1771.8 792.4 L1771.2 799.2 L1770.6 805.9 L1770 812.5 L1769.5 819 L1769 825.6 L1768.5 832.3 L1768 839.2 L1767.6 846 L1767.1 852.6 L1766.8 859 L1766.4 865.1 L1766.1 870.7 L1765.8 875.7 L1765.6 880 L1765.4 883.6 L1765.3 886.6 L1765.3 889.1 L1765.2 891.2 L1765.3 892.8 L1765.3 894.2 L1765.3 895.3 L1765.4 896.2 L1765.4 897.1 L1765.4 898" fill="none" stroke="#161616" stroke-width="2.12"/>
<path d="M1875.3 557.5 L1880 565.1 L1884.6 572.9 L1889.1 580.6 L1893.4 588.4 L1897.7 596.3 L1901.9 604.3 L1905.9 612.3 L1909.9 620.4 L1913.7 628.5 L1917.4 636.6 L1921 644.9 L1924.5 653.1 L1927.8 661.5 L1931.1 669.8 L1934.2 678.2 L1937.2 686.7 L1940.1 695.2 L1942.9 703.7 L1945.5 712.3 L1948.1 720.9 L1950.5 729.5 L1952.8 738.2 L1955 746.9 L1957 755.6 L1958.9 764.4 L1960.8 773.2 L1962.4 782 L1964 790.8 L1965.4 799.7 L1966.7 808.6 L1967.9 817.5 L1969 826.4 L1969.9 835.3 L1970.7 844.2 L1971.4 853.2 L1972 862.1 L1972.4 871.1 L1972.7 880.1 L1972.9 889 L1973 898" fill="none" stroke="#161616" stroke-width="2.12"/>
<path d="M1899.5 461.1 L1906.6 470.5 L1913.5 480 L1920.3 489.6 L1926.9 499.3 L1933.4 509.1 L1939.7 519 L1945.8 529 L1951.7 539.2 L1957.5 549.4 L1963.2 559.7 L1968.6 570.1 L1973.9 580.6 L1979 591.1 L1984 601.8 L1988.7 612.5 L1993.3 623.3 L1997.7 634.2 L2001.9 645.2 L2006 656.2 L2009.9 667.3 L2013.6 678.4 L2017.1 689.7 L2020.4 700.9 L2023.5 712.2 L2026.5 723.6 L2029.2 735 L2031.8 746.5 L2034.2 758 L2036.4 769.5 L2038.4 781.1 L2040.2 792.7 L2041.9 804.3 L2043.3 816 L2044.5 827.6 L2045.6 839.3 L2046.5 851.1 L2047.1 862.8 L2047.6 874.5 L2047.9 886.3 L2048 898" fill="none" stroke="#161616" stroke-width="2.12"/>
<path d="M1960.7 417.6 L1968.4 427.9 L1976 438.4 L1983.4 449 L1990.6 459.6 L1997.7 470.4 L2004.6 481.4 L2011.3 492.4 L2017.8 503.5 L2024.1 514.8 L2030.3 526.1 L2036.2 537.6 L2042 549.1 L2047.6 560.7 L2053 572.4 L2058.2 584.3 L2063.2 596.1 L2068 608.1 L2072.7 620.2 L2077.1 632.3 L2081.3 644.5 L2085.4 656.7 L2089.2 669 L2092.8 681.4 L2096.2 693.9 L2099.5 706.4 L2102.5 718.9 L2105.3 731.5 L2107.9 744.1 L2110.3 756.8 L2112.5 769.5 L2114.5 782.3 L2116.3 795.1 L2117.9 807.9 L2119.2 820.7 L2120.4 833.6 L2121.3 846.4 L2122.1 859.3 L2122.6 872.2 L2122.9 885.1 L2123 898" fill="none" stroke="#161616" stroke-width="2.12"/>
<path d="M2020.4 374.7 L2028.8 386 L2037 397.4 L2045.1 408.9 L2052.9 420.6 L2060.5 432.3 L2068 444.2 L2075.3 456.3 L2082.4 468.4 L2089.2 480.6 L2095.9 493 L2102.4 505.5 L2108.6 518 L2114.7 530.7 L2120.6 543.5 L2126.2 556.3 L2131.7 569.3 L2136.9 582.3 L2141.9 595.5 L2146.7 608.7 L2151.3 621.9 L2155.7 635.3 L2159.8 648.7 L2163.8 662.2 L2167.5 675.7 L2171 689.3 L2174.2 703 L2177.3 716.7 L2180.1 730.5 L2182.7 744.3 L2185.1 758.1 L2187.3 772 L2189.2 785.9 L2190.9 799.9 L2192.4 813.8 L2193.7 827.8 L2194.7 841.8 L2195.5 855.9 L2196 869.9 L2196.4 884 L2196.5 898" fill="none" stroke="#161616" stroke-width="2.12"/>
<path d="M1874.2 558.1 L2113 388.3" fill="none" stroke="#161616" stroke-width="2.12"/>
<path d="M1961.5 769 L2275 710.5" fill="none" stroke="#161616" stroke-width="2.12"/>
<path d="M1898 462.3 L2020.6 374.6" fill="none" stroke="#161616" stroke-width="2.12"/>
<path d="M1929.1 440.2 L1966.5 492.3" fill="none" stroke="#161616" stroke-width="2.12"/>
<path d="M1990.3 396.6 L2028.1 449" fill="none" stroke="#161616" stroke-width="2.12"/>
<path d="M1916.6 488.1 L2039 402.4" fill="none" stroke="#161616" stroke-width="2.12"/>
<path d="M2028.1 399.1 L2039 402.4 L2037.3 413.2" fill="none" stroke="#161616" stroke-width="2.12"/>
<circle cx="1916.6" cy="488.1" r="4.2" fill="none" stroke="#161616" stroke-width="1.62"/>
<path d="M2029.5 361.2 L2032.2 361.7 L2035.7 362.2 L2039.8 362.8 L2044.5 363.5 L2049.5 364.3 L2054.7 365.2 L2059.9 366.2 L2065 367.3 L2069.8 368.5 L2074.2 369.8 L2078.2 371.2 L2082.1 372.7 L2085.9 374.2 L2089.6 375.8 L2093.3 377.6 L2096.9 379.4 L2100.6 381.5 L2104.4 383.7 L2108.2 386.1 L2112.2 388.8 L2116.4 391.7 L2120.8 394.9 L2125.3 398.3 L2130 401.9 L2134.6 405.7 L2139.2 409.5 L2143.6 413.5 L2147.9 417.4 L2151.9 421.4 L2155.6 425.4 L2159 429.4 L2162.1 433.4 L2164.9 437.4 L2167.6 441.5 L2170.2 445.7 L2172.6 449.9 L2175.1 454.2 L2177.5 458.6 L2180.1 463 L2182.7 467.5 L2185.4 472.1 L2188.1 476.7 L2190.8 481.3 L2193.5 486 L2196.2 490.8 L2199 495.7 L2201.7 500.7 L2204.4 505.7 L2207.1 511 L2209.8 516.3 L2212.5 521.8 L2215.3 527.6 L2218.1 533.5 L2220.9 539.5 L2223.7 545.6 L2226.5 551.7 L2229.2 557.9 L2231.9 564 L2234.5 570 L2237 575.9 L2239.4 581.6 L2241.8 587.2 L2244.1 592.6 L2246.3 598 L2248.5 603.4 L2250.6 608.9 L2252.7 614.5 L2254.7 620.3 L2256.7 626.4 L2258.6 632.9 L2260.5 639.9 L2262.4 647.6 L2264.2 655.6 L2266 664 L2267.7 672.4 L2269.3 680.7 L2270.9 688.6 L2272.3 696.1 L2273.7 702.9 L2274.9 708.8 L2276 714 L2277 718.6 L2277.9 722.8 L2278.6 726.5 L2279.3 729.8 L2279.9 732.8 L2280.5 735.4 L2280.9 737.7 L2281.3 739.7 L2281.7 741.4" fill="none" stroke="#161616" stroke-width="2.12"/>
<path d="M2029.6 229.3 L2029.6 368" fill="none" stroke="#161616" stroke-width="2.12"/>
<path d="M2034.7 222.2 L2034.7 177.8 L2037.4 177.9 L2040.1 178.2 L2042.7 178.6 L2045.3 179.3 L2047.9 180.1 L2050.4 181.1 L2052.9 182.2 L2055.2 183.5 L2057.5 185 L2059.7 186.6 L2061.8 188.4 L2063.8 190.3 L2065.6 192.3 L2067.3 194.5 L2068.9 196.8 L2070.3 199.2 L2071.6 201.6 L2072.7 204.2 L2073.6 206.8 L2074.4 209.4 L2075 212.2 L2075.4 214.9 L2075.7 217.7 L2075.8 220.5" fill="none" stroke="#161616" stroke-width="2.0"/>
<path d="M2116.2 222.2 L2116.2 177.8 L2113.6 177.9 L2110.9 178.2 L2108.3 178.6 L2105.7 179.3 L2103.2 180.1 L2100.7 181.1 L2098.3 182.2 L2096 183.5 L2093.8 185 L2091.6 186.6 L2089.6 188.4 L2087.6 190.3 L2085.8 192.3 L2084.1 194.5 L2082.6 196.8 L2081.2 199.2 L2080 201.6 L2078.9 204.2 L2077.9 206.8 L2077.2 209.4 L2076.6 212.2 L2076.1 214.9 L2075.9 217.7 L2075.8 220.5" fill="none" stroke="#161616" stroke-width="2.0"/>
<path d="M2075.8 183 L2075.8 237.7" fill="none" stroke="#161616" stroke-width="2.0"/>
<path d="M2029.6 244.7 L2123.6 244.7" fill="none" stroke="#161616" stroke-width="2.12"/>
<path d="M2029.6 261.2 L2123.6 261.2" fill="none" stroke="#161616" stroke-width="2.12"/>
<path d="M2061.8 258.5 L2075.8 245.1 L2089.5 258.5" fill="none" stroke="#161616" stroke-width="2.12"/>
<path d="M2075.8 245.1 L2075.8 277 L2162.1 295.5" fill="none" stroke="#161616" stroke-width="2.12"/>
<circle cx="2163.6" cy="296.2" r="3.6" fill="none" stroke="#161616" stroke-width="1.62"/>
<path d="M2029.6 306.9 L2102.9 306.9" fill="none" stroke="#161616" stroke-width="2.12"/>
<path d="M2122.9 261.4 L2102.9 306.9" fill="none" stroke="#161616" stroke-width="2.12"/>
<path d="M2141.4 261.4 L2119.2 311" fill="none" stroke="#161616" stroke-width="2.12"/>
<path d="M2159.1 261.4 L2134 317.7" fill="none" stroke="#161616" stroke-width="2.12"/>
<path d="M2176.2 261.4 L2147.3 326.6" fill="none" stroke="#161616" stroke-width="2.12"/>
<path d="M2102.9 306.9 L2103.9 307.1 L2105.1 307.4 L2106.6 307.7 L2108.3 308.1 L2110.1 308.5 L2112 309 L2113.9 309.4 L2115.8 309.9 L2117.6 310.5 L2119.2 311 L2120.7 311.6 L2122.3 312.1 L2123.8 312.7 L2125.3 313.4 L2126.8 314.1 L2128.3 314.7 L2129.7 315.4 L2131.2 316.2 L2132.6 316.9 L2134 317.7 L2135.5 318.5 L2137 319.5 L2138.5 320.5 L2140.1 321.5 L2141.6 322.6 L2143 323.6 L2144.3 324.5 L2145.5 325.4 L2146.5 326.1 L2147.3 326.6" fill="none" stroke="#161616" stroke-width="2.12"/>
<path d="M504.2 429.8 L502.9 430.4 L501.3 431.1 L499.3 432 L497.1 432.9 L494.7 433.9 L492.3 435.2 L489.8 436.5 L487.5 438 L485.3 439.8 L483.4 441.7 L481.7 443.9 L480 446.3 L478.4 448.9 L476.8 451.7 L475.3 454.6 L473.9 457.7 L472.6 460.8 L471.3 464.1 L470.1 467.3 L468.9 470.5 L467.8 473.9 L466.8 477.7 L465.8 481.7 L464.8 485.8 L464 489.9 L463.2 493.9 L462.5 497.6 L461.9 500.9 L461.3 503.7 L460.9 505.8" fill="none" stroke="#161616" stroke-width="1.88"/>
<path d="M460.9 505.8 L460.4 509.4 L459.8 514 L459.1 519.5 L458.3 525.6 L457.4 532.2 L456.5 539.2 L455.6 546.3 L454.6 553.3 L453.7 560.2 L452.9 566.7 L452.1 572.9 L451.3 579.2 L450.4 585.4 L449.6 591.6 L448.8 597.9 L448 604.3 L447.2 610.8 L446.4 617.3 L445.6 624 L444.9 630.8 L444.2 637.8 L443.5 645.1 L442.8 652.5 L442.1 660.1 L441.4 667.7 L440.8 675.3 L440.2 682.9 L439.6 690.3 L439 697.6 L438.5 704.6 L438 711.3 L437.5 717.8 L437.1 724 L436.7 730.2 L436.3 736.2 L435.9 742.4 L435.6 748.6 L435.3 755 L434.9 761.7 L434.6 768.7 L434.3 776.2 L434 784.2 L433.7 792.6 L433.4 801.1 L433.1 809.7 L432.9 818.3 L432.7 826.6 L432.5 834.6 L432.3 842.1 L432.1 848.9 L432 855.3 L431.8 861.5 L431.7 867.5 L431.7 873.1 L431.6 878.5 L431.5 883.4 L431.5 887.9 L431.5 891.8 L431.4 895.2 L431.4 898" fill="none" stroke="#161616" stroke-width="1.88" stroke-dasharray="46 4"/>
<path d="M103.6 1337.2 L103.6 1232.8" fill="none" stroke="#161616" stroke-width="3.0"/>
<path d="M103.6 1337.2 L110 1336.7" fill="none" stroke="#161616" stroke-width="1.75"/>
<path d="M103.6 1232.8 L110 1233" fill="none" stroke="#161616" stroke-width="1.75"/>
<path d="M164.8 1330.5 L164.8 1239.8" fill="none" stroke="#c4c4c4" stroke-width="2.5"/>
<path d="M168.7 1334.4 L168.7 1325.5" fill="none" stroke="#161616" stroke-width="2.75"/>
<path d="M168.7 1244.5 L168.7 1235" fill="none" stroke="#161616" stroke-width="2.75"/>
<path d="M108.8 994.1 L86.4 994.1 L86.4 940.6" fill="none" stroke="#161616" stroke-width="3.75" stroke-linejoin="miter"/>
<path d="M82.1 940.6 L82.1 898" fill="none" stroke="#161616" stroke-width="1.62"/>
<path d="M85.8 940.6 L85.8 898" fill="none" stroke="#161616" stroke-width="1.62"/>
<path d="M142.9 984.5 L142.9 898" fill="none" stroke="#161616" stroke-width="1.62"/>
<path d="M147.6 984.5 L147.6 898" fill="none" stroke="#161616" stroke-width="1.62"/>
<path d="M85.1 941.3 L80.6 983.9 L77.7 983.5 L74.8 982.8 L72 982 L69.2 981 L66.5 979.8 L63.9 978.5 L61.4 976.9 L59 975.2 L56.7 973.3 L54.6 971.3 L52.6 969.1 L50.7 966.8 L49 964.4 L47.5 961.8 L46.2 959.2 L45.1 956.5 L44.1 953.7 L43.4 950.8 L42.8 947.9 L42.5 945 L42.3 942 L42.4 939.1 L42.6 936.1 L43.1 933.2 L43.7 930.3 L44.6 927.5 L45.6 924.8 L46.9 922.1 L48.3 919.5 L49.9 917 L51.6 914.6 L53.6 912.4 L55.6 910.3 L57.8 908.3 L60.2 906.5 L62.6 904.9 L65.2 903.4 L67.9 902.1 L70.6 901 L73.4 900.1 L76.3 899.4 L79.2 898.9 L82.1 898.6" fill="none" stroke="#161616" stroke-width="2.0"/>
<path d="M143.3 940.8 L120.2 976.6 L117.7 974.9 L115.5 973 L113.3 971 L111.3 968.9 L109.4 966.6 L107.7 964.2 L106.2 961.7 L104.8 959.1 L103.6 956.4 L102.7 953.6 L101.9 950.8 L101.3 947.9 L100.9 945 L100.7 942 L100.7 939.1 L101 936.1 L101.4 933.2 L102 930.3 L102.8 927.5 L103.8 924.7 L105 922.1 L106.4 919.5 L108 917 L109.7 914.6 L111.6 912.3 L113.7 910.2 L115.8 908.2 L118.2 906.4 L120.6 904.8 L123.1 903.3 L125.8 902 L128.5 900.8 L131.3 899.9 L134.2 899.2 L137.1 898.7 L140 898.3 L142.9 898.2" fill="none" stroke="#161616" stroke-width="2.0"/>
<path d="M143.3 940.8 L400.7 940.8" fill="none" stroke="#161616" stroke-width="2.12"/>
<path d="M374.5 940.8 L374.5 898" fill="none" stroke="#161616" stroke-width="2.12"/>
<path d="M151 898.3 L374.5 940.8" fill="none" stroke="#161616" stroke-width="2.12"/>
<path d="M400.4 1529 L400.4 940.8" fill="none" stroke="#161616" stroke-width="2.12"/>
<path d="M400 1578 L400 1529" fill="none" stroke="#161616" stroke-width="2.0"/>
<path d="M403.4 1578 L403.4 1529" fill="none" stroke="#161616" stroke-width="2.0"/>
<path d="M491.2 1578 L491.2 1529" fill="none" stroke="#161616" stroke-width="2.0"/>
<path d="M494.4 1578 L494.4 1529" fill="none" stroke="#161616" stroke-width="2.0"/>
<path d="M403.4 1578.5 L406.4 1578.4 L409.4 1578.1 L412.4 1577.6 L415.3 1576.8 L418.2 1575.9 L421 1574.8 L423.7 1573.5 L426.3 1571.9 L428.8 1570.3 L431.2 1568.4 L433.5 1566.4 L435.6 1564.2 L437.6 1561.9 L439.4 1559.5 L441.1 1556.9 L442.5 1554.2 L443.8 1551.4 L444.9 1548.6 L445.8 1545.6 L446.6 1542.7 L447.1 1539.6 L447.4 1536.6 L447.5 1533.5" fill="none" stroke="#161616" stroke-width="2.0"/>
<path d="M491.2 1578.5 L488.2 1578.4 L485.2 1578.1 L482.3 1577.6 L479.4 1576.8 L476.5 1575.9 L473.7 1574.8 L471 1573.5 L468.3 1571.9 L465.8 1570.3 L463.4 1568.4 L461.2 1566.4 L459 1564.2 L457.1 1561.9 L455.2 1559.5 L453.6 1556.9 L452.1 1554.2 L450.8 1551.4 L449.7 1548.6 L448.8 1545.6 L448.1 1542.7 L447.6 1539.6 L447.3 1536.6 L447.2 1533.5" fill="none" stroke="#161616" stroke-width="2.0"/>
<path d="M399 1533.2 L495.4 1533.2" fill="none" stroke="#161616" stroke-width="1.75"/>
<path d="M399 1529 L495.4 1529" fill="none" stroke="#161616" stroke-width="1.75"/>
<path d="M400.4 1400.7 L447 1528 L491.8 1400.7Z" fill="none" stroke="#161616" stroke-width="2.12"/>
<path d="M491.8 1529 L491.8 1400.7" fill="none" stroke="#161616" stroke-width="1.88"/>
<path d="M495.2 1529 L495.2 1452" fill="none" stroke="#161616" stroke-width="1.88"/>
<path d="M495.4 1503.4 L509.7 1503.4 L509.7 1457.7 L495.4 1457.7Z" fill="none" stroke="#161616" stroke-width="2.12"/>
<path d="M476.8 1480.8 L509.7 1480.8" fill="none" stroke="#161616" stroke-width="2.12"/>
<path d="M495.4 1489.8 L509.7 1480.8 L495.4 1471.6" fill="none" stroke="#161616" stroke-width="2.12"/>
<path d="M1018 1532.1 L984.8 1569.2 L987.5 1571.5 L990.3 1573.5 L993.2 1575.3 L996.3 1576.9 L999.5 1578.3 L1002.8 1579.5 L1006.1 1580.5 L1009.5 1581.2 L1012.9 1581.6 L1016.4 1581.9 L1019.9 1581.9 L1023.3 1581.6 L1026.8 1581.1 L1030.2 1580.4 L1033.5 1579.4 L1036.7 1578.2 L1039.9 1576.8 L1043 1575.2 L1045.9 1573.3 L1048.7 1571.3 L1051.4 1569.1 L1053.9 1566.6 L1056.2 1564.1 L1058.3 1561.3 L1060.3 1558.5 L1062 1555.4 L1063.5 1552.3 L1064.8 1549.1 L1065.9 1545.8 L1066.7 1542.4 L1067.3 1539 L1067.7 1535.6 L1067.8 1532.1" fill="none" stroke="#161616" stroke-width="2.0"/>
<path d="M1118.8 1532.1 L1151.9 1569.6 L1149.2 1571.8 L1146.4 1573.8 L1143.4 1575.6 L1140.4 1577.2 L1137.2 1578.6 L1133.9 1579.8 L1130.5 1580.7 L1127.1 1581.4 L1123.7 1581.9 L1120.2 1582.1 L1116.7 1582.1 L1113.3 1581.8 L1109.8 1581.3 L1106.4 1580.6 L1103.1 1579.6 L1099.9 1578.4 L1096.7 1576.9 L1093.6 1575.3 L1090.7 1573.4 L1087.9 1571.4 L1085.2 1569.1 L1082.7 1566.7 L1080.4 1564.1 L1078.3 1561.4 L1076.3 1558.5 L1074.6 1555.5 L1073.1 1552.4 L1071.8 1549.1 L1070.7 1545.8 L1069.9 1542.5 L1069.3 1539 L1068.9 1535.6 L1068.8 1532.1" fill="none" stroke="#161616" stroke-width="2.0"/>
<path d="M985 1574 L985 1533" fill="none" stroke="#161616" stroke-width="2.0"/>
<path d="M1155.2 1574 L1155.2 1533" fill="none" stroke="#161616" stroke-width="2.0"/>
<path d="M980.4 1533.2 L1158.6 1533.2" fill="none" stroke="#161616" stroke-width="1.75"/>
<path d="M980.4 1529 L1158.6 1529" fill="none" stroke="#161616" stroke-width="1.75"/>
<path d="M1020.6 1400.7 L1068.4 1528 L1116.7 1400.7Z" fill="none" stroke="#161616" stroke-width="2.12"/>
<path d="M1020.6 1529 L1020.6 1284.8" fill="none" stroke="#161616" stroke-width="1.88"/>
<path d="M1116.7 1529 L1116.7 1284.8" fill="none" stroke="#161616" stroke-width="1.88"/>
<path d="M1017.6 1529 L1017.6 1452" fill="none" stroke="#161616" stroke-width="1.88"/>
<path d="M1120.2 1529 L1120.2 1452" fill="none" stroke="#161616" stroke-width="1.88"/>
<path d="M1013 1529 L1013 1503.4" fill="none" stroke="#161616" stroke-width="1.75"/>
<path d="M1125.2 1529 L1125.2 1503.4" fill="none" stroke="#161616" stroke-width="1.75"/>
<path d="M1003.5 1503.4 L1017.4 1503.4 L1017.4 1457.7 L1003.5 1457.7Z" fill="none" stroke="#161616" stroke-width="2.12"/>
<path d="M1003.5 1480.8 L1036 1480.8" fill="none" stroke="#161616" stroke-width="2.12"/>
<path d="M1017.4 1489.8 L1003.5 1480.8 L1017.4 1471.6" fill="none" stroke="#161616" stroke-width="2.12"/>
<path d="M1120 1503.4 L1134.5 1503.4 L1134.5 1457.7 L1120 1457.7Z" fill="none" stroke="#161616" stroke-width="2.12"/>
<path d="M1102 1480.8 L1134.5 1480.8" fill="none" stroke="#161616" stroke-width="2.12"/>
<path d="M1120 1489.8 L1134.5 1480.8 L1120 1471.6" fill="none" stroke="#161616" stroke-width="2.12"/>
<path d="M1643.2 1578 L1643.2 1529" fill="none" stroke="#161616" stroke-width="2.0"/>
<path d="M1646.3 1578 L1646.3 1529" fill="none" stroke="#161616" stroke-width="2.0"/>
<path d="M1736.4 1578 L1736.4 1529" fill="none" stroke="#161616" stroke-width="2.0"/>
<path d="M1739.2 1578 L1739.2 1529" fill="none" stroke="#161616" stroke-width="2.0"/>
<path d="M1646.3 1578.3 L1649.4 1578.2 L1652.5 1577.9 L1655.5 1577.4 L1658.5 1576.6 L1661.5 1575.7 L1664.3 1574.5 L1667.1 1573.2 L1669.8 1571.7 L1672.4 1570 L1674.9 1568.1 L1677.2 1566.1 L1679.4 1563.9 L1681.4 1561.6 L1683.3 1559.1 L1685 1556.5 L1686.5 1553.8 L1687.8 1551 L1689 1548.2 L1689.9 1545.2 L1690.7 1542.2 L1691.2 1539.2 L1691.5 1536.1 L1691.6 1533" fill="none" stroke="#161616" stroke-width="2.0"/>
<path d="M1736.4 1578.3 L1733.3 1578.2 L1730.2 1577.9 L1727.2 1577.4 L1724.2 1576.6 L1721.2 1575.7 L1718.4 1574.5 L1715.6 1573.2 L1712.9 1571.7 L1710.3 1570 L1707.8 1568.1 L1705.5 1566.1 L1703.3 1563.9 L1701.3 1561.6 L1699.4 1559.1 L1697.7 1556.5 L1696.2 1553.8 L1694.9 1551 L1693.7 1548.2 L1692.8 1545.2 L1692 1542.2 L1691.5 1539.2 L1691.2 1536.1 L1691.1 1533" fill="none" stroke="#161616" stroke-width="2.0"/>
<path d="M1691.4 1592 L1691.4 1489.3" fill="none" stroke="#161616" stroke-width="1.88"/>
<path d="M1642 1533 L1740 1533" fill="none" stroke="#161616" stroke-width="1.75"/>
<path d="M1642 1528.7 L1740 1528.7" fill="none" stroke="#161616" stroke-width="1.75"/>
<path d="M1645.3 1399.7 L1691.4 1528 L1738 1399.7Z" fill="none" stroke="#161616" stroke-width="2.12"/>
<path d="M1643.4 1529 L1643.4 1399.7" fill="none" stroke="#161616" stroke-width="2.75"/>
<path d="M1638.2 1529 L1638.2 1503.4" fill="none" stroke="#161616" stroke-width="1.75"/>
<path d="M1628.3 1503.4 L1643.2 1503.4 L1643.2 1457.7 L1628.3 1457.7Z" fill="none" stroke="#161616" stroke-width="2.12"/>
<path d="M1628.3 1480.8 L1661 1480.8" fill="none" stroke="#161616" stroke-width="2.12"/>
<path d="M1643.2 1489.8 L1628.3 1480.8 L1643.2 1471.6" fill="none" stroke="#161616" stroke-width="2.12"/>
<path d="M533.5 1436.1 L565.8 1436.1 L565.8 1307.2 L533.5 1307.2Z" fill="#e8dc0a" stroke="none" stroke-linejoin="miter"/>
<path d="M527.8 1449.5 L516.2 1449.5 L514.2 1449.3 L512.4 1448.7 L510.6 1447.8 L509.1 1446.6 L507.9 1445.1 L507 1443.3 L506.4 1441.5 L506.2 1439.5 L506.2 1438.5 L506.4 1436.5 L507 1434.7 L507.9 1432.9 L509.1 1431.4 L510.6 1430.2 L512.4 1429.3 L514.2 1428.7 L516.2 1428.5 L527.8 1428.5Z" fill="#e8dc0a" stroke="none"/>
<path d="M570.7 1449.5 L582.3 1449.5 L584.3 1449.3 L586.1 1448.7 L587.9 1447.8 L589.4 1446.6 L590.6 1445.1 L591.5 1443.3 L592.1 1441.5 L592.3 1439.5 L592.3 1438.5 L592.1 1436.5 L591.5 1434.7 L590.6 1432.9 L589.4 1431.4 L587.9 1430.2 L586.1 1429.3 L584.3 1428.7 L582.3 1428.5 L570.7 1428.5Z" fill="#e8dc0a" stroke="none"/>
<path d="M527.8 1422.6 L516.2 1422.6 L514.2 1422.4 L512.4 1421.8 L510.6 1420.9 L509.1 1419.7 L507.9 1418.2 L507 1416.4 L506.4 1414.6 L506.2 1412.6 L506.2 1411.6 L506.4 1409.6 L507 1407.8 L507.9 1406 L509.1 1404.5 L510.6 1403.3 L512.4 1402.4 L514.2 1401.8 L516.2 1401.6 L527.8 1401.6Z" fill="#e8dc0a" stroke="none"/>
<path d="M570.7 1422.6 L582.3 1422.6 L584.3 1422.4 L586.1 1421.8 L587.9 1420.9 L589.4 1419.7 L590.6 1418.2 L591.5 1416.4 L592.1 1414.6 L592.3 1412.6 L592.3 1411.6 L592.1 1409.6 L591.5 1407.8 L590.6 1406 L589.4 1404.5 L587.9 1403.3 L586.1 1402.4 L584.3 1401.8 L582.3 1401.6 L570.7 1401.6Z" fill="#e8dc0a" stroke="none"/>
<path d="M527.8 1395.6 L516.2 1395.6 L514.2 1395.4 L512.4 1394.8 L510.6 1393.9 L509.1 1392.7 L507.9 1391.2 L507 1389.4 L506.4 1387.6 L506.2 1385.6 L506.2 1384.6 L506.4 1382.6 L507 1380.8 L507.9 1379 L509.1 1377.5 L510.6 1376.3 L512.4 1375.4 L514.2 1374.8 L516.2 1374.6 L527.8 1374.6Z" fill="#e8dc0a" stroke="none"/>
<path d="M570.7 1395.6 L582.3 1395.6 L584.3 1395.4 L586.1 1394.8 L587.9 1393.9 L589.4 1392.7 L590.6 1391.2 L591.5 1389.4 L592.1 1387.6 L592.3 1385.6 L592.3 1384.6 L592.1 1382.6 L591.5 1380.8 L590.6 1379 L589.4 1377.5 L587.9 1376.3 L586.1 1375.4 L584.3 1374.8 L582.3 1374.6 L570.7 1374.6Z" fill="#e8dc0a" stroke="none"/>
<path d="M527.8 1368.1 L516.2 1368.1 L514.2 1367.9 L512.4 1367.3 L510.6 1366.4 L509.1 1365.2 L507.9 1363.7 L507 1361.9 L506.4 1360.1 L506.2 1358.1 L506.2 1357.1 L506.4 1355.1 L507 1353.3 L507.9 1351.5 L509.1 1350 L510.6 1348.8 L512.4 1347.9 L514.2 1347.3 L516.2 1347.1 L527.8 1347.1Z" fill="#e8dc0a" stroke="none"/>
<path d="M570.7 1368.1 L582.3 1368.1 L584.3 1367.9 L586.1 1367.3 L587.9 1366.4 L589.4 1365.2 L590.6 1363.7 L591.5 1361.9 L592.1 1360.1 L592.3 1358.1 L592.3 1357.1 L592.1 1355.1 L591.5 1353.3 L590.6 1351.5 L589.4 1350 L587.9 1348.8 L586.1 1347.9 L584.3 1347.3 L582.3 1347.1 L570.7 1347.1Z" fill="#e8dc0a" stroke="none"/>
<path d="M527.8 1341 L516.2 1341 L514.2 1340.8 L512.4 1340.2 L510.6 1339.3 L509.1 1338.1 L507.9 1336.6 L507 1334.8 L506.4 1333 L506.2 1331 L506.2 1330 L506.4 1328 L507 1326.2 L507.9 1324.4 L509.1 1322.9 L510.6 1321.7 L512.4 1320.8 L514.2 1320.2 L516.2 1320 L527.8 1320Z" fill="#e8dc0a" stroke="none"/>
<path d="M570.7 1341 L582.3 1341 L584.3 1340.8 L586.1 1340.2 L587.9 1339.3 L589.4 1338.1 L590.6 1336.6 L591.5 1334.8 L592.1 1333 L592.3 1331 L592.3 1330 L592.1 1328 L591.5 1326.2 L590.6 1324.4 L589.4 1322.9 L587.9 1321.7 L586.1 1320.8 L584.3 1320.2 L582.3 1320 L570.7 1320Z" fill="#e8dc0a" stroke="none"/>
<path d="M527.8 1313.8 L516.2 1313.8 L514.2 1313.6 L512.4 1313 L510.6 1312.1 L509.1 1310.9 L507.9 1309.4 L507 1307.6 L506.4 1305.8 L506.2 1303.8 L506.2 1302.8 L506.4 1300.8 L507 1299 L507.9 1297.2 L509.1 1295.7 L510.6 1294.5 L512.4 1293.6 L514.2 1293 L516.2 1292.8 L527.8 1292.8Z" fill="#e8dc0a" stroke="none"/>
<path d="M570.7 1313.8 L582.3 1313.8 L584.3 1313.6 L586.1 1313 L587.9 1312.1 L589.4 1310.9 L590.6 1309.4 L591.5 1307.6 L592.1 1305.8 L592.3 1303.8 L592.3 1302.8 L592.1 1300.8 L591.5 1299 L590.6 1297.2 L589.4 1295.7 L587.9 1294.5 L586.1 1293.6 L584.3 1293 L582.3 1292.8 L570.7 1292.8Z" fill="#e8dc0a" stroke="none"/>
<path d="M636.7 1436.1 L669 1436.1 L669 1307.2 L636.7 1307.2Z" fill="#e8dc0a" stroke="none" stroke-linejoin="miter"/>
<path d="M631 1449.5 L619.4 1449.5 L617.4 1449.3 L615.6 1448.7 L613.8 1447.8 L612.3 1446.6 L611.1 1445.1 L610.2 1443.3 L609.6 1441.5 L609.4 1439.5 L609.4 1438.5 L609.6 1436.5 L610.2 1434.7 L611.1 1432.9 L612.3 1431.4 L613.8 1430.2 L615.6 1429.3 L617.4 1428.7 L619.4 1428.5 L631 1428.5Z" fill="#e8dc0a" stroke="none"/>
<path d="M674.7 1449.5 L686.3 1449.5 L688.3 1449.3 L690.1 1448.7 L691.9 1447.8 L693.4 1446.6 L694.6 1445.1 L695.5 1443.3 L696.1 1441.5 L696.3 1439.5 L696.3 1438.5 L696.1 1436.5 L695.5 1434.7 L694.6 1432.9 L693.4 1431.4 L691.9 1430.2 L690.1 1429.3 L688.3 1428.7 L686.3 1428.5 L674.7 1428.5Z" fill="#e8dc0a" stroke="none"/>
<path d="M631 1422.6 L619.4 1422.6 L617.4 1422.4 L615.6 1421.8 L613.8 1420.9 L612.3 1419.7 L611.1 1418.2 L610.2 1416.4 L609.6 1414.6 L609.4 1412.6 L609.4 1411.6 L609.6 1409.6 L610.2 1407.8 L611.1 1406 L612.3 1404.5 L613.8 1403.3 L615.6 1402.4 L617.4 1401.8 L619.4 1401.6 L631 1401.6Z" fill="#e8dc0a" stroke="none"/>
<path d="M674.7 1422.6 L686.3 1422.6 L688.3 1422.4 L690.1 1421.8 L691.9 1420.9 L693.4 1419.7 L694.6 1418.2 L695.5 1416.4 L696.1 1414.6 L696.3 1412.6 L696.3 1411.6 L696.1 1409.6 L695.5 1407.8 L694.6 1406 L693.4 1404.5 L691.9 1403.3 L690.1 1402.4 L688.3 1401.8 L686.3 1401.6 L674.7 1401.6Z" fill="#e8dc0a" stroke="none"/>
<path d="M631 1395.6 L619.4 1395.6 L617.4 1395.4 L615.6 1394.8 L613.8 1393.9 L612.3 1392.7 L611.1 1391.2 L610.2 1389.4 L609.6 1387.6 L609.4 1385.6 L609.4 1384.6 L609.6 1382.6 L610.2 1380.8 L611.1 1379 L612.3 1377.5 L613.8 1376.3 L615.6 1375.4 L617.4 1374.8 L619.4 1374.6 L631 1374.6Z" fill="#e8dc0a" stroke="none"/>
<path d="M674.7 1395.6 L686.3 1395.6 L688.3 1395.4 L690.1 1394.8 L691.9 1393.9 L693.4 1392.7 L694.6 1391.2 L695.5 1389.4 L696.1 1387.6 L696.3 1385.6 L696.3 1384.6 L696.1 1382.6 L695.5 1380.8 L694.6 1379 L693.4 1377.5 L691.9 1376.3 L690.1 1375.4 L688.3 1374.8 L686.3 1374.6 L674.7 1374.6Z" fill="#e8dc0a" stroke="none"/>
<path d="M631 1368.1 L619.4 1368.1 L617.4 1367.9 L615.6 1367.3 L613.8 1366.4 L612.3 1365.2 L611.1 1363.7 L610.2 1361.9 L609.6 1360.1 L609.4 1358.1 L609.4 1357.1 L609.6 1355.1 L610.2 1353.3 L611.1 1351.5 L612.3 1350 L613.8 1348.8 L615.6 1347.9 L617.4 1347.3 L619.4 1347.1 L631 1347.1Z" fill="#e8dc0a" stroke="none"/>
<path d="M674.7 1368.1 L686.3 1368.1 L688.3 1367.9 L690.1 1367.3 L691.9 1366.4 L693.4 1365.2 L694.6 1363.7 L695.5 1361.9 L696.1 1360.1 L696.3 1358.1 L696.3 1357.1 L696.1 1355.1 L695.5 1353.3 L694.6 1351.5 L693.4 1350 L691.9 1348.8 L690.1 1347.9 L688.3 1347.3 L686.3 1347.1 L674.7 1347.1Z" fill="#e8dc0a" stroke="none"/>
<path d="M631 1341 L619.4 1341 L617.4 1340.8 L615.6 1340.2 L613.8 1339.3 L612.3 1338.1 L611.1 1336.6 L610.2 1334.8 L609.6 1333 L609.4 1331 L609.4 1330 L609.6 1328 L610.2 1326.2 L611.1 1324.4 L612.3 1322.9 L613.8 1321.7 L615.6 1320.8 L617.4 1320.2 L619.4 1320 L631 1320Z" fill="#e8dc0a" stroke="none"/>
<path d="M674.7 1341 L686.3 1341 L688.3 1340.8 L690.1 1340.2 L691.9 1339.3 L693.4 1338.1 L694.6 1336.6 L695.5 1334.8 L696.1 1333 L696.3 1331 L696.3 1330 L696.1 1328 L695.5 1326.2 L694.6 1324.4 L693.4 1322.9 L691.9 1321.7 L690.1 1320.8 L688.3 1320.2 L686.3 1320 L674.7 1320Z" fill="#e8dc0a" stroke="none"/>
<path d="M631 1313.8 L619.4 1313.8 L617.4 1313.6 L615.6 1313 L613.8 1312.1 L612.3 1310.9 L611.1 1309.4 L610.2 1307.6 L609.6 1305.8 L609.4 1303.8 L609.4 1302.8 L609.6 1300.8 L610.2 1299 L611.1 1297.2 L612.3 1295.7 L613.8 1294.5 L615.6 1293.6 L617.4 1293 L619.4 1292.8 L631 1292.8Z" fill="#e8dc0a" stroke="none"/>
<path d="M674.7 1313.8 L686.3 1313.8 L688.3 1313.6 L690.1 1313 L691.9 1312.1 L693.4 1310.9 L694.6 1309.4 L695.5 1307.6 L696.1 1305.8 L696.3 1303.8 L696.3 1302.8 L696.1 1300.8 L695.5 1299 L694.6 1297.2 L693.4 1295.7 L691.9 1294.5 L690.1 1293.6 L688.3 1293 L686.3 1292.8 L674.7 1292.8Z" fill="#e8dc0a" stroke="none"/>
<path d="M740.7 1436.1 L773 1436.1 L773 1307.2 L740.7 1307.2Z" fill="#e8dc0a" stroke="none" stroke-linejoin="miter"/>
<path d="M735 1449.5 L723.4 1449.5 L721.4 1449.3 L719.6 1448.7 L717.8 1447.8 L716.3 1446.6 L715.1 1445.1 L714.2 1443.3 L713.6 1441.5 L713.4 1439.5 L713.4 1438.5 L713.6 1436.5 L714.2 1434.7 L715.1 1432.9 L716.3 1431.4 L717.8 1430.2 L719.6 1429.3 L721.4 1428.7 L723.4 1428.5 L735 1428.5Z" fill="#e8dc0a" stroke="none"/>
<path d="M778.7 1449.5 L790.3 1449.5 L792.3 1449.3 L794.1 1448.7 L795.9 1447.8 L797.4 1446.6 L798.6 1445.1 L799.5 1443.3 L800.1 1441.5 L800.3 1439.5 L800.3 1438.5 L800.1 1436.5 L799.5 1434.7 L798.6 1432.9 L797.4 1431.4 L795.9 1430.2 L794.1 1429.3 L792.3 1428.7 L790.3 1428.5 L778.7 1428.5Z" fill="#e8dc0a" stroke="none"/>
<path d="M735 1422.6 L723.4 1422.6 L721.4 1422.4 L719.6 1421.8 L717.8 1420.9 L716.3 1419.7 L715.1 1418.2 L714.2 1416.4 L713.6 1414.6 L713.4 1412.6 L713.4 1411.6 L713.6 1409.6 L714.2 1407.8 L715.1 1406 L716.3 1404.5 L717.8 1403.3 L719.6 1402.4 L721.4 1401.8 L723.4 1401.6 L735 1401.6Z" fill="#e8dc0a" stroke="none"/>
<path d="M778.7 1422.6 L790.3 1422.6 L792.3 1422.4 L794.1 1421.8 L795.9 1420.9 L797.4 1419.7 L798.6 1418.2 L799.5 1416.4 L800.1 1414.6 L800.3 1412.6 L800.3 1411.6 L800.1 1409.6 L799.5 1407.8 L798.6 1406 L797.4 1404.5 L795.9 1403.3 L794.1 1402.4 L792.3 1401.8 L790.3 1401.6 L778.7 1401.6Z" fill="#e8dc0a" stroke="none"/>
<path d="M735 1395.6 L723.4 1395.6 L721.4 1395.4 L719.6 1394.8 L717.8 1393.9 L716.3 1392.7 L715.1 1391.2 L714.2 1389.4 L713.6 1387.6 L713.4 1385.6 L713.4 1384.6 L713.6 1382.6 L714.2 1380.8 L715.1 1379 L716.3 1377.5 L717.8 1376.3 L719.6 1375.4 L721.4 1374.8 L723.4 1374.6 L735 1374.6Z" fill="#e8dc0a" stroke="none"/>
<path d="M778.7 1395.6 L790.3 1395.6 L792.3 1395.4 L794.1 1394.8 L795.9 1393.9 L797.4 1392.7 L798.6 1391.2 L799.5 1389.4 L800.1 1387.6 L800.3 1385.6 L800.3 1384.6 L800.1 1382.6 L799.5 1380.8 L798.6 1379 L797.4 1377.5 L795.9 1376.3 L794.1 1375.4 L792.3 1374.8 L790.3 1374.6 L778.7 1374.6Z" fill="#e8dc0a" stroke="none"/>
<path d="M735 1368.1 L723.4 1368.1 L721.4 1367.9 L719.6 1367.3 L717.8 1366.4 L716.3 1365.2 L715.1 1363.7 L714.2 1361.9 L713.6 1360.1 L713.4 1358.1 L713.4 1357.1 L713.6 1355.1 L714.2 1353.3 L715.1 1351.5 L716.3 1350 L717.8 1348.8 L719.6 1347.9 L721.4 1347.3 L723.4 1347.1 L735 1347.1Z" fill="#e8dc0a" stroke="none"/>
<path d="M778.7 1368.1 L790.3 1368.1 L792.3 1367.9 L794.1 1367.3 L795.9 1366.4 L797.4 1365.2 L798.6 1363.7 L799.5 1361.9 L800.1 1360.1 L800.3 1358.1 L800.3 1357.1 L800.1 1355.1 L799.5 1353.3 L798.6 1351.5 L797.4 1350 L795.9 1348.8 L794.1 1347.9 L792.3 1347.3 L790.3 1347.1 L778.7 1347.1Z" fill="#e8dc0a" stroke="none"/>
<path d="M735 1341 L723.4 1341 L721.4 1340.8 L719.6 1340.2 L717.8 1339.3 L716.3 1338.1 L715.1 1336.6 L714.2 1334.8 L713.6 1333 L713.4 1331 L713.4 1330 L713.6 1328 L714.2 1326.2 L715.1 1324.4 L716.3 1322.9 L717.8 1321.7 L719.6 1320.8 L721.4 1320.2 L723.4 1320 L735 1320Z" fill="#e8dc0a" stroke="none"/>
<path d="M778.7 1341 L790.3 1341 L792.3 1340.8 L794.1 1340.2 L795.9 1339.3 L797.4 1338.1 L798.6 1336.6 L799.5 1334.8 L800.1 1333 L800.3 1331 L800.3 1330 L800.1 1328 L799.5 1326.2 L798.6 1324.4 L797.4 1322.9 L795.9 1321.7 L794.1 1320.8 L792.3 1320.2 L790.3 1320 L778.7 1320Z" fill="#e8dc0a" stroke="none"/>
<path d="M735 1313.8 L723.4 1313.8 L721.4 1313.6 L719.6 1313 L717.8 1312.1 L716.3 1310.9 L715.1 1309.4 L714.2 1307.6 L713.6 1305.8 L713.4 1303.8 L713.4 1302.8 L713.6 1300.8 L714.2 1299 L715.1 1297.2 L716.3 1295.7 L717.8 1294.5 L719.6 1293.6 L721.4 1293 L723.4 1292.8 L735 1292.8Z" fill="#e8dc0a" stroke="none"/>
<path d="M778.7 1313.8 L790.3 1313.8 L792.3 1313.6 L794.1 1313 L795.9 1312.1 L797.4 1310.9 L798.6 1309.4 L799.5 1307.6 L800.1 1305.8 L800.3 1303.8 L800.3 1302.8 L800.1 1300.8 L799.5 1299 L798.6 1297.2 L797.4 1295.7 L795.9 1294.5 L794.1 1293.6 L792.3 1293 L790.3 1292.8 L778.7 1292.8Z" fill="#e8dc0a" stroke="none"/>
<path d="M844.7 1436.1 L877 1436.1 L877 1307.2 L844.7 1307.2Z" fill="#e8dc0a" stroke="none" stroke-linejoin="miter"/>
<path d="M839 1449.5 L827.4 1449.5 L825.4 1449.3 L823.6 1448.7 L821.8 1447.8 L820.3 1446.6 L819.1 1445.1 L818.2 1443.3 L817.6 1441.5 L817.4 1439.5 L817.4 1438.5 L817.6 1436.5 L818.2 1434.7 L819.1 1432.9 L820.3 1431.4 L821.8 1430.2 L823.6 1429.3 L825.4 1428.7 L827.4 1428.5 L839 1428.5Z" fill="#e8dc0a" stroke="none"/>
<path d="M882 1449.5 L893.6 1449.5 L895.6 1449.3 L897.4 1448.7 L899.2 1447.8 L900.7 1446.6 L901.9 1445.1 L902.8 1443.3 L903.4 1441.5 L903.6 1439.5 L903.6 1438.5 L903.4 1436.5 L902.8 1434.7 L901.9 1432.9 L900.7 1431.4 L899.2 1430.2 L897.4 1429.3 L895.6 1428.7 L893.6 1428.5 L882 1428.5Z" fill="#e8dc0a" stroke="none"/>
<path d="M839 1422.6 L827.4 1422.6 L825.4 1422.4 L823.6 1421.8 L821.8 1420.9 L820.3 1419.7 L819.1 1418.2 L818.2 1416.4 L817.6 1414.6 L817.4 1412.6 L817.4 1411.6 L817.6 1409.6 L818.2 1407.8 L819.1 1406 L820.3 1404.5 L821.8 1403.3 L823.6 1402.4 L825.4 1401.8 L827.4 1401.6 L839 1401.6Z" fill="#e8dc0a" stroke="none"/>
<path d="M882 1422.6 L893.6 1422.6 L895.6 1422.4 L897.4 1421.8 L899.2 1420.9 L900.7 1419.7 L901.9 1418.2 L902.8 1416.4 L903.4 1414.6 L903.6 1412.6 L903.6 1411.6 L903.4 1409.6 L902.8 1407.8 L901.9 1406 L900.7 1404.5 L899.2 1403.3 L897.4 1402.4 L895.6 1401.8 L893.6 1401.6 L882 1401.6Z" fill="#e8dc0a" stroke="none"/>
<path d="M839 1395.6 L827.4 1395.6 L825.4 1395.4 L823.6 1394.8 L821.8 1393.9 L820.3 1392.7 L819.1 1391.2 L818.2 1389.4 L817.6 1387.6 L817.4 1385.6 L817.4 1384.6 L817.6 1382.6 L818.2 1380.8 L819.1 1379 L820.3 1377.5 L821.8 1376.3 L823.6 1375.4 L825.4 1374.8 L827.4 1374.6 L839 1374.6Z" fill="#e8dc0a" stroke="none"/>
<path d="M882 1395.6 L893.6 1395.6 L895.6 1395.4 L897.4 1394.8 L899.2 1393.9 L900.7 1392.7 L901.9 1391.2 L902.8 1389.4 L903.4 1387.6 L903.6 1385.6 L903.6 1384.6 L903.4 1382.6 L902.8 1380.8 L901.9 1379 L900.7 1377.5 L899.2 1376.3 L897.4 1375.4 L895.6 1374.8 L893.6 1374.6 L882 1374.6Z" fill="#e8dc0a" stroke="none"/>
<path d="M839 1368.1 L827.4 1368.1 L825.4 1367.9 L823.6 1367.3 L821.8 1366.4 L820.3 1365.2 L819.1 1363.7 L818.2 1361.9 L817.6 1360.1 L817.4 1358.1 L817.4 1357.1 L817.6 1355.1 L818.2 1353.3 L819.1 1351.5 L820.3 1350 L821.8 1348.8 L823.6 1347.9 L825.4 1347.3 L827.4 1347.1 L839 1347.1Z" fill="#e8dc0a" stroke="none"/>
<path d="M882 1368.1 L893.6 1368.1 L895.6 1367.9 L897.4 1367.3 L899.2 1366.4 L900.7 1365.2 L901.9 1363.7 L902.8 1361.9 L903.4 1360.1 L903.6 1358.1 L903.6 1357.1 L903.4 1355.1 L902.8 1353.3 L901.9 1351.5 L900.7 1350 L899.2 1348.8 L897.4 1347.9 L895.6 1347.3 L893.6 1347.1 L882 1347.1Z" fill="#e8dc0a" stroke="none"/>
<path d="M839 1341 L827.4 1341 L825.4 1340.8 L823.6 1340.2 L821.8 1339.3 L820.3 1338.1 L819.1 1336.6 L818.2 1334.8 L817.6 1333 L817.4 1331 L817.4 1330 L817.6 1328 L818.2 1326.2 L819.1 1324.4 L820.3 1322.9 L821.8 1321.7 L823.6 1320.8 L825.4 1320.2 L827.4 1320 L839 1320Z" fill="#e8dc0a" stroke="none"/>
<path d="M882 1341 L893.6 1341 L895.6 1340.8 L897.4 1340.2 L899.2 1339.3 L900.7 1338.1 L901.9 1336.6 L902.8 1334.8 L903.4 1333 L903.6 1331 L903.6 1330 L903.4 1328 L902.8 1326.2 L901.9 1324.4 L900.7 1322.9 L899.2 1321.7 L897.4 1320.8 L895.6 1320.2 L893.6 1320 L882 1320Z" fill="#e8dc0a" stroke="none"/>
<path d="M839 1313.8 L827.4 1313.8 L825.4 1313.6 L823.6 1313 L821.8 1312.1 L820.3 1310.9 L819.1 1309.4 L818.2 1307.6 L817.6 1305.8 L817.4 1303.8 L817.4 1302.8 L817.6 1300.8 L818.2 1299 L819.1 1297.2 L820.3 1295.7 L821.8 1294.5 L823.6 1293.6 L825.4 1293 L827.4 1292.8 L839 1292.8Z" fill="#e8dc0a" stroke="none"/>
<path d="M882 1313.8 L893.6 1313.8 L895.6 1313.6 L897.4 1313 L899.2 1312.1 L900.7 1310.9 L901.9 1309.4 L902.8 1307.6 L903.4 1305.8 L903.6 1303.8 L903.6 1302.8 L903.4 1300.8 L902.8 1299 L901.9 1297.2 L900.7 1295.7 L899.2 1294.5 L897.4 1293.6 L895.6 1293 L893.6 1292.8 L882 1292.8Z" fill="#e8dc0a" stroke="none"/>
<path d="M948 1436.1 L980.3 1436.1 L980.3 1307.2 L948 1307.2Z" fill="#e8dc0a" stroke="none" stroke-linejoin="miter"/>
<path d="M942.3 1449.5 L930.7 1449.5 L928.7 1449.3 L926.9 1448.7 L925.1 1447.8 L923.6 1446.6 L922.4 1445.1 L921.5 1443.3 L920.9 1441.5 L920.7 1439.5 L920.7 1438.5 L920.9 1436.5 L921.5 1434.7 L922.4 1432.9 L923.6 1431.4 L925.1 1430.2 L926.9 1429.3 L928.7 1428.7 L930.7 1428.5 L942.3 1428.5Z" fill="#e8dc0a" stroke="none"/>
<path d="M985 1449.5 L996.6 1449.5 L998.6 1449.3 L1000.4 1448.7 L1002.2 1447.8 L1003.7 1446.6 L1004.9 1445.1 L1005.8 1443.3 L1006.4 1441.5 L1006.6 1439.5 L1006.6 1438.5 L1006.4 1436.5 L1005.8 1434.7 L1004.9 1432.9 L1003.7 1431.4 L1002.2 1430.2 L1000.4 1429.3 L998.6 1428.7 L996.6 1428.5 L985 1428.5Z" fill="#e8dc0a" stroke="none"/>
<path d="M942.3 1422.6 L930.7 1422.6 L928.7 1422.4 L926.9 1421.8 L925.1 1420.9 L923.6 1419.7 L922.4 1418.2 L921.5 1416.4 L920.9 1414.6 L920.7 1412.6 L920.7 1411.6 L920.9 1409.6 L921.5 1407.8 L922.4 1406 L923.6 1404.5 L925.1 1403.3 L926.9 1402.4 L928.7 1401.8 L930.7 1401.6 L942.3 1401.6Z" fill="#e8dc0a" stroke="none"/>
<path d="M985 1422.6 L996.6 1422.6 L998.6 1422.4 L1000.4 1421.8 L1002.2 1420.9 L1003.7 1419.7 L1004.9 1418.2 L1005.8 1416.4 L1006.4 1414.6 L1006.6 1412.6 L1006.6 1411.6 L1006.4 1409.6 L1005.8 1407.8 L1004.9 1406 L1003.7 1404.5 L1002.2 1403.3 L1000.4 1402.4 L998.6 1401.8 L996.6 1401.6 L985 1401.6Z" fill="#e8dc0a" stroke="none"/>
<path d="M942.3 1395.6 L930.7 1395.6 L928.7 1395.4 L926.9 1394.8 L925.1 1393.9 L923.6 1392.7 L922.4 1391.2 L921.5 1389.4 L920.9 1387.6 L920.7 1385.6 L920.7 1384.6 L920.9 1382.6 L921.5 1380.8 L922.4 1379 L923.6 1377.5 L925.1 1376.3 L926.9 1375.4 L928.7 1374.8 L930.7 1374.6 L942.3 1374.6Z" fill="#e8dc0a" stroke="none"/>
<path d="M985 1395.6 L996.6 1395.6 L998.6 1395.4 L1000.4 1394.8 L1002.2 1393.9 L1003.7 1392.7 L1004.9 1391.2 L1005.8 1389.4 L1006.4 1387.6 L1006.6 1385.6 L1006.6 1384.6 L1006.4 1382.6 L1005.8 1380.8 L1004.9 1379 L1003.7 1377.5 L1002.2 1376.3 L1000.4 1375.4 L998.6 1374.8 L996.6 1374.6 L985 1374.6Z" fill="#e8dc0a" stroke="none"/>
<path d="M942.3 1368.1 L930.7 1368.1 L928.7 1367.9 L926.9 1367.3 L925.1 1366.4 L923.6 1365.2 L922.4 1363.7 L921.5 1361.9 L920.9 1360.1 L920.7 1358.1 L920.7 1357.1 L920.9 1355.1 L921.5 1353.3 L922.4 1351.5 L923.6 1350 L925.1 1348.8 L926.9 1347.9 L928.7 1347.3 L930.7 1347.1 L942.3 1347.1Z" fill="#e8dc0a" stroke="none"/>
<path d="M985 1368.1 L996.6 1368.1 L998.6 1367.9 L1000.4 1367.3 L1002.2 1366.4 L1003.7 1365.2 L1004.9 1363.7 L1005.8 1361.9 L1006.4 1360.1 L1006.6 1358.1 L1006.6 1357.1 L1006.4 1355.1 L1005.8 1353.3 L1004.9 1351.5 L1003.7 1350 L1002.2 1348.8 L1000.4 1347.9 L998.6 1347.3 L996.6 1347.1 L985 1347.1Z" fill="#e8dc0a" stroke="none"/>
<path d="M942.3 1341 L930.7 1341 L928.7 1340.8 L926.9 1340.2 L925.1 1339.3 L923.6 1338.1 L922.4 1336.6 L921.5 1334.8 L920.9 1333 L920.7 1331 L920.7 1330 L920.9 1328 L921.5 1326.2 L922.4 1324.4 L923.6 1322.9 L925.1 1321.7 L926.9 1320.8 L928.7 1320.2 L930.7 1320 L942.3 1320Z" fill="#e8dc0a" stroke="none"/>
<path d="M985 1341 L996.6 1341 L998.6 1340.8 L1000.4 1340.2 L1002.2 1339.3 L1003.7 1338.1 L1004.9 1336.6 L1005.8 1334.8 L1006.4 1333 L1006.6 1331 L1006.6 1330 L1006.4 1328 L1005.8 1326.2 L1004.9 1324.4 L1003.7 1322.9 L1002.2 1321.7 L1000.4 1320.8 L998.6 1320.2 L996.6 1320 L985 1320Z" fill="#e8dc0a" stroke="none"/>
<path d="M942.3 1313.8 L930.7 1313.8 L928.7 1313.6 L926.9 1313 L925.1 1312.1 L923.6 1310.9 L922.4 1309.4 L921.5 1307.6 L920.9 1305.8 L920.7 1303.8 L920.7 1302.8 L920.9 1300.8 L921.5 1299 L922.4 1297.2 L923.6 1295.7 L925.1 1294.5 L926.9 1293.6 L928.7 1293 L930.7 1292.8 L942.3 1292.8Z" fill="#e8dc0a" stroke="none"/>
<path d="M985 1313.8 L996.6 1313.8 L998.6 1313.6 L1000.4 1313 L1002.2 1312.1 L1003.7 1310.9 L1004.9 1309.4 L1005.8 1307.6 L1006.4 1305.8 L1006.6 1303.8 L1006.6 1302.8 L1006.4 1300.8 L1005.8 1299 L1004.9 1297.2 L1003.7 1295.7 L1002.2 1294.5 L1000.4 1293.6 L998.6 1293 L996.6 1292.8 L985 1292.8Z" fill="#e8dc0a" stroke="none"/>
<path d="M1158.5 1436.1 L1190.8 1436.1 L1190.8 1307.2 L1158.5 1307.2Z" fill="#e8dc0a" stroke="none" stroke-linejoin="miter"/>
<path d="M1152.8 1449.5 L1141.2 1449.5 L1139.2 1449.3 L1137.4 1448.7 L1135.6 1447.8 L1134.1 1446.6 L1132.9 1445.1 L1132 1443.3 L1131.4 1441.5 L1131.2 1439.5 L1131.2 1438.5 L1131.4 1436.5 L1132 1434.7 L1132.9 1432.9 L1134.1 1431.4 L1135.6 1430.2 L1137.4 1429.3 L1139.2 1428.7 L1141.2 1428.5 L1152.8 1428.5Z" fill="#e8dc0a" stroke="none"/>
<path d="M1195 1449.5 L1206.6 1449.5 L1208.6 1449.3 L1210.4 1448.7 L1212.2 1447.8 L1213.7 1446.6 L1214.9 1445.1 L1215.8 1443.3 L1216.4 1441.5 L1216.6 1439.5 L1216.6 1438.5 L1216.4 1436.5 L1215.8 1434.7 L1214.9 1432.9 L1213.7 1431.4 L1212.2 1430.2 L1210.4 1429.3 L1208.6 1428.7 L1206.6 1428.5 L1195 1428.5Z" fill="#e8dc0a" stroke="none"/>
<path d="M1152.8 1422.6 L1141.2 1422.6 L1139.2 1422.4 L1137.4 1421.8 L1135.6 1420.9 L1134.1 1419.7 L1132.9 1418.2 L1132 1416.4 L1131.4 1414.6 L1131.2 1412.6 L1131.2 1411.6 L1131.4 1409.6 L1132 1407.8 L1132.9 1406 L1134.1 1404.5 L1135.6 1403.3 L1137.4 1402.4 L1139.2 1401.8 L1141.2 1401.6 L1152.8 1401.6Z" fill="#e8dc0a" stroke="none"/>
<path d="M1195 1422.6 L1206.6 1422.6 L1208.6 1422.4 L1210.4 1421.8 L1212.2 1420.9 L1213.7 1419.7 L1214.9 1418.2 L1215.8 1416.4 L1216.4 1414.6 L1216.6 1412.6 L1216.6 1411.6 L1216.4 1409.6 L1215.8 1407.8 L1214.9 1406 L1213.7 1404.5 L1212.2 1403.3 L1210.4 1402.4 L1208.6 1401.8 L1206.6 1401.6 L1195 1401.6Z" fill="#e8dc0a" stroke="none"/>
<path d="M1152.8 1395.6 L1141.2 1395.6 L1139.2 1395.4 L1137.4 1394.8 L1135.6 1393.9 L1134.1 1392.7 L1132.9 1391.2 L1132 1389.4 L1131.4 1387.6 L1131.2 1385.6 L1131.2 1384.6 L1131.4 1382.6 L1132 1380.8 L1132.9 1379 L1134.1 1377.5 L1135.6 1376.3 L1137.4 1375.4 L1139.2 1374.8 L1141.2 1374.6 L1152.8 1374.6Z" fill="#e8dc0a" stroke="none"/>
<path d="M1195 1395.6 L1206.6 1395.6 L1208.6 1395.4 L1210.4 1394.8 L1212.2 1393.9 L1213.7 1392.7 L1214.9 1391.2 L1215.8 1389.4 L1216.4 1387.6 L1216.6 1385.6 L1216.6 1384.6 L1216.4 1382.6 L1215.8 1380.8 L1214.9 1379 L1213.7 1377.5 L1212.2 1376.3 L1210.4 1375.4 L1208.6 1374.8 L1206.6 1374.6 L1195 1374.6Z" fill="#e8dc0a" stroke="none"/>
<path d="M1152.8 1368.1 L1141.2 1368.1 L1139.2 1367.9 L1137.4 1367.3 L1135.6 1366.4 L1134.1 1365.2 L1132.9 1363.7 L1132 1361.9 L1131.4 1360.1 L1131.2 1358.1 L1131.2 1357.1 L1131.4 1355.1 L1132 1353.3 L1132.9 1351.5 L1134.1 1350 L1135.6 1348.8 L1137.4 1347.9 L1139.2 1347.3 L1141.2 1347.1 L1152.8 1347.1Z" fill="#e8dc0a" stroke="none"/>
<path d="M1195 1368.1 L1206.6 1368.1 L1208.6 1367.9 L1210.4 1367.3 L1212.2 1366.4 L1213.7 1365.2 L1214.9 1363.7 L1215.8 1361.9 L1216.4 1360.1 L1216.6 1358.1 L1216.6 1357.1 L1216.4 1355.1 L1215.8 1353.3 L1214.9 1351.5 L1213.7 1350 L1212.2 1348.8 L1210.4 1347.9 L1208.6 1347.3 L1206.6 1347.1 L1195 1347.1Z" fill="#e8dc0a" stroke="none"/>
<path d="M1152.8 1341 L1141.2 1341 L1139.2 1340.8 L1137.4 1340.2 L1135.6 1339.3 L1134.1 1338.1 L1132.9 1336.6 L1132 1334.8 L1131.4 1333 L1131.2 1331 L1131.2 1330 L1131.4 1328 L1132 1326.2 L1132.9 1324.4 L1134.1 1322.9 L1135.6 1321.7 L1137.4 1320.8 L1139.2 1320.2 L1141.2 1320 L1152.8 1320Z" fill="#e8dc0a" stroke="none"/>
<path d="M1195 1341 L1206.6 1341 L1208.6 1340.8 L1210.4 1340.2 L1212.2 1339.3 L1213.7 1338.1 L1214.9 1336.6 L1215.8 1334.8 L1216.4 1333 L1216.6 1331 L1216.6 1330 L1216.4 1328 L1215.8 1326.2 L1214.9 1324.4 L1213.7 1322.9 L1212.2 1321.7 L1210.4 1320.8 L1208.6 1320.2 L1206.6 1320 L1195 1320Z" fill="#e8dc0a" stroke="none"/>
<path d="M1152.8 1313.8 L1141.2 1313.8 L1139.2 1313.6 L1137.4 1313 L1135.6 1312.1 L1134.1 1310.9 L1132.9 1309.4 L1132 1307.6 L1131.4 1305.8 L1131.2 1303.8 L1131.2 1302.8 L1131.4 1300.8 L1132 1299 L1132.9 1297.2 L1134.1 1295.7 L1135.6 1294.5 L1137.4 1293.6 L1139.2 1293 L1141.2 1292.8 L1152.8 1292.8Z" fill="#e8dc0a" stroke="none"/>
<path d="M1195 1313.8 L1206.6 1313.8 L1208.6 1313.6 L1210.4 1313 L1212.2 1312.1 L1213.7 1310.9 L1214.9 1309.4 L1215.8 1307.6 L1216.4 1305.8 L1216.6 1303.8 L1216.6 1302.8 L1216.4 1300.8 L1215.8 1299 L1214.9 1297.2 L1213.7 1295.7 L1212.2 1294.5 L1210.4 1293.6 L1208.6 1293 L1206.6 1292.8 L1195 1292.8Z" fill="#e8dc0a" stroke="none"/>
<path d="M1261 1436.1 L1293.3 1436.1 L1293.3 1307.2 L1261 1307.2Z" fill="#e8dc0a" stroke="none" stroke-linejoin="miter"/>
<path d="M1255.3 1449.5 L1243.7 1449.5 L1241.7 1449.3 L1239.9 1448.7 L1238.1 1447.8 L1236.6 1446.6 L1235.4 1445.1 L1234.5 1443.3 L1233.9 1441.5 L1233.7 1439.5 L1233.7 1438.5 L1233.9 1436.5 L1234.5 1434.7 L1235.4 1432.9 L1236.6 1431.4 L1238.1 1430.2 L1239.9 1429.3 L1241.7 1428.7 L1243.7 1428.5 L1255.3 1428.5Z" fill="#e8dc0a" stroke="none"/>
<path d="M1299.3 1449.5 L1310.9 1449.5 L1312.9 1449.3 L1314.7 1448.7 L1316.5 1447.8 L1318 1446.6 L1319.2 1445.1 L1320.1 1443.3 L1320.7 1441.5 L1320.9 1439.5 L1320.9 1438.5 L1320.7 1436.5 L1320.1 1434.7 L1319.2 1432.9 L1318 1431.4 L1316.5 1430.2 L1314.7 1429.3 L1312.9 1428.7 L1310.9 1428.5 L1299.3 1428.5Z" fill="#e8dc0a" stroke="none"/>
<path d="M1255.3 1422.6 L1243.7 1422.6 L1241.7 1422.4 L1239.9 1421.8 L1238.1 1420.9 L1236.6 1419.7 L1235.4 1418.2 L1234.5 1416.4 L1233.9 1414.6 L1233.7 1412.6 L1233.7 1411.6 L1233.9 1409.6 L1234.5 1407.8 L1235.4 1406 L1236.6 1404.5 L1238.1 1403.3 L1239.9 1402.4 L1241.7 1401.8 L1243.7 1401.6 L1255.3 1401.6Z" fill="#e8dc0a" stroke="none"/>
<path d="M1299.3 1422.6 L1310.9 1422.6 L1312.9 1422.4 L1314.7 1421.8 L1316.5 1420.9 L1318 1419.7 L1319.2 1418.2 L1320.1 1416.4 L1320.7 1414.6 L1320.9 1412.6 L1320.9 1411.6 L1320.7 1409.6 L1320.1 1407.8 L1319.2 1406 L1318 1404.5 L1316.5 1403.3 L1314.7 1402.4 L1312.9 1401.8 L1310.9 1401.6 L1299.3 1401.6Z" fill="#e8dc0a" stroke="none"/>
<path d="M1255.3 1395.6 L1243.7 1395.6 L1241.7 1395.4 L1239.9 1394.8 L1238.1 1393.9 L1236.6 1392.7 L1235.4 1391.2 L1234.5 1389.4 L1233.9 1387.6 L1233.7 1385.6 L1233.7 1384.6 L1233.9 1382.6 L1234.5 1380.8 L1235.4 1379 L1236.6 1377.5 L1238.1 1376.3 L1239.9 1375.4 L1241.7 1374.8 L1243.7 1374.6 L1255.3 1374.6Z" fill="#e8dc0a" stroke="none"/>
<path d="M1299.3 1395.6 L1310.9 1395.6 L1312.9 1395.4 L1314.7 1394.8 L1316.5 1393.9 L1318 1392.7 L1319.2 1391.2 L1320.1 1389.4 L1320.7 1387.6 L1320.9 1385.6 L1320.9 1384.6 L1320.7 1382.6 L1320.1 1380.8 L1319.2 1379 L1318 1377.5 L1316.5 1376.3 L1314.7 1375.4 L1312.9 1374.8 L1310.9 1374.6 L1299.3 1374.6Z" fill="#e8dc0a" stroke="none"/>
<path d="M1255.3 1368.1 L1243.7 1368.1 L1241.7 1367.9 L1239.9 1367.3 L1238.1 1366.4 L1236.6 1365.2 L1235.4 1363.7 L1234.5 1361.9 L1233.9 1360.1 L1233.7 1358.1 L1233.7 1357.1 L1233.9 1355.1 L1234.5 1353.3 L1235.4 1351.5 L1236.6 1350 L1238.1 1348.8 L1239.9 1347.9 L1241.7 1347.3 L1243.7 1347.1 L1255.3 1347.1Z" fill="#e8dc0a" stroke="none"/>
<path d="M1299.3 1368.1 L1310.9 1368.1 L1312.9 1367.9 L1314.7 1367.3 L1316.5 1366.4 L1318 1365.2 L1319.2 1363.7 L1320.1 1361.9 L1320.7 1360.1 L1320.9 1358.1 L1320.9 1357.1 L1320.7 1355.1 L1320.1 1353.3 L1319.2 1351.5 L1318 1350 L1316.5 1348.8 L1314.7 1347.9 L1312.9 1347.3 L1310.9 1347.1 L1299.3 1347.1Z" fill="#e8dc0a" stroke="none"/>
<path d="M1255.3 1341 L1243.7 1341 L1241.7 1340.8 L1239.9 1340.2 L1238.1 1339.3 L1236.6 1338.1 L1235.4 1336.6 L1234.5 1334.8 L1233.9 1333 L1233.7 1331 L1233.7 1330 L1233.9 1328 L1234.5 1326.2 L1235.4 1324.4 L1236.6 1322.9 L1238.1 1321.7 L1239.9 1320.8 L1241.7 1320.2 L1243.7 1320 L1255.3 1320Z" fill="#e8dc0a" stroke="none"/>
<path d="M1299.3 1341 L1310.9 1341 L1312.9 1340.8 L1314.7 1340.2 L1316.5 1339.3 L1318 1338.1 L1319.2 1336.6 L1320.1 1334.8 L1320.7 1333 L1320.9 1331 L1320.9 1330 L1320.7 1328 L1320.1 1326.2 L1319.2 1324.4 L1318 1322.9 L1316.5 1321.7 L1314.7 1320.8 L1312.9 1320.2 L1310.9 1320 L1299.3 1320Z" fill="#e8dc0a" stroke="none"/>
<path d="M1255.3 1313.8 L1243.7 1313.8 L1241.7 1313.6 L1239.9 1313 L1238.1 1312.1 L1236.6 1310.9 L1235.4 1309.4 L1234.5 1307.6 L1233.9 1305.8 L1233.7 1303.8 L1233.7 1302.8 L1233.9 1300.8 L1234.5 1299 L1235.4 1297.2 L1236.6 1295.7 L1238.1 1294.5 L1239.9 1293.6 L1241.7 1293 L1243.7 1292.8 L1255.3 1292.8Z" fill="#e8dc0a" stroke="none"/>
<path d="M1299.3 1313.8 L1310.9 1313.8 L1312.9 1313.6 L1314.7 1313 L1316.5 1312.1 L1318 1310.9 L1319.2 1309.4 L1320.1 1307.6 L1320.7 1305.8 L1320.9 1303.8 L1320.9 1302.8 L1320.7 1300.8 L1320.1 1299 L1319.2 1297.2 L1318 1295.7 L1316.5 1294.5 L1314.7 1293.6 L1312.9 1293 L1310.9 1292.8 L1299.3 1292.8Z" fill="#e8dc0a" stroke="none"/>
<path d="M1365.3 1436.1 L1397.6 1436.1 L1397.6 1307.2 L1365.3 1307.2Z" fill="#e8dc0a" stroke="none" stroke-linejoin="miter"/>
<path d="M1359.6 1449.5 L1348 1449.5 L1346 1449.3 L1344.2 1448.7 L1342.4 1447.8 L1340.9 1446.6 L1339.7 1445.1 L1338.8 1443.3 L1338.2 1441.5 L1338 1439.5 L1338 1438.5 L1338.2 1436.5 L1338.8 1434.7 L1339.7 1432.9 L1340.9 1431.4 L1342.4 1430.2 L1344.2 1429.3 L1346 1428.7 L1348 1428.5 L1359.6 1428.5Z" fill="#e8dc0a" stroke="none"/>
<path d="M1403.1 1449.5 L1414.7 1449.5 L1416.7 1449.3 L1418.5 1448.7 L1420.3 1447.8 L1421.8 1446.6 L1423 1445.1 L1423.9 1443.3 L1424.5 1441.5 L1424.7 1439.5 L1424.7 1438.5 L1424.5 1436.5 L1423.9 1434.7 L1423 1432.9 L1421.8 1431.4 L1420.3 1430.2 L1418.5 1429.3 L1416.7 1428.7 L1414.7 1428.5 L1403.1 1428.5Z" fill="#e8dc0a" stroke="none"/>
<path d="M1359.6 1422.6 L1348 1422.6 L1346 1422.4 L1344.2 1421.8 L1342.4 1420.9 L1340.9 1419.7 L1339.7 1418.2 L1338.8 1416.4 L1338.2 1414.6 L1338 1412.6 L1338 1411.6 L1338.2 1409.6 L1338.8 1407.8 L1339.7 1406 L1340.9 1404.5 L1342.4 1403.3 L1344.2 1402.4 L1346 1401.8 L1348 1401.6 L1359.6 1401.6Z" fill="#e8dc0a" stroke="none"/>
<path d="M1403.1 1422.6 L1414.7 1422.6 L1416.7 1422.4 L1418.5 1421.8 L1420.3 1420.9 L1421.8 1419.7 L1423 1418.2 L1423.9 1416.4 L1424.5 1414.6 L1424.7 1412.6 L1424.7 1411.6 L1424.5 1409.6 L1423.9 1407.8 L1423 1406 L1421.8 1404.5 L1420.3 1403.3 L1418.5 1402.4 L1416.7 1401.8 L1414.7 1401.6 L1403.1 1401.6Z" fill="#e8dc0a" stroke="none"/>
<path d="M1359.6 1395.6 L1348 1395.6 L1346 1395.4 L1344.2 1394.8 L1342.4 1393.9 L1340.9 1392.7 L1339.7 1391.2 L1338.8 1389.4 L1338.2 1387.6 L1338 1385.6 L1338 1384.6 L1338.2 1382.6 L1338.8 1380.8 L1339.7 1379 L1340.9 1377.5 L1342.4 1376.3 L1344.2 1375.4 L1346 1374.8 L1348 1374.6 L1359.6 1374.6Z" fill="#e8dc0a" stroke="none"/>
<path d="M1403.1 1395.6 L1414.7 1395.6 L1416.7 1395.4 L1418.5 1394.8 L1420.3 1393.9 L1421.8 1392.7 L1423 1391.2 L1423.9 1389.4 L1424.5 1387.6 L1424.7 1385.6 L1424.7 1384.6 L1424.5 1382.6 L1423.9 1380.8 L1423 1379 L1421.8 1377.5 L1420.3 1376.3 L1418.5 1375.4 L1416.7 1374.8 L1414.7 1374.6 L1403.1 1374.6Z" fill="#e8dc0a" stroke="none"/>
<path d="M1359.6 1368.1 L1348 1368.1 L1346 1367.9 L1344.2 1367.3 L1342.4 1366.4 L1340.9 1365.2 L1339.7 1363.7 L1338.8 1361.9 L1338.2 1360.1 L1338 1358.1 L1338 1357.1 L1338.2 1355.1 L1338.8 1353.3 L1339.7 1351.5 L1340.9 1350 L1342.4 1348.8 L1344.2 1347.9 L1346 1347.3 L1348 1347.1 L1359.6 1347.1Z" fill="#e8dc0a" stroke="none"/>
<path d="M1403.1 1368.1 L1414.7 1368.1 L1416.7 1367.9 L1418.5 1367.3 L1420.3 1366.4 L1421.8 1365.2 L1423 1363.7 L1423.9 1361.9 L1424.5 1360.1 L1424.7 1358.1 L1424.7 1357.1 L1424.5 1355.1 L1423.9 1353.3 L1423 1351.5 L1421.8 1350 L1420.3 1348.8 L1418.5 1347.9 L1416.7 1347.3 L1414.7 1347.1 L1403.1 1347.1Z" fill="#e8dc0a" stroke="none"/>
<path d="M1359.6 1341 L1348 1341 L1346 1340.8 L1344.2 1340.2 L1342.4 1339.3 L1340.9 1338.1 L1339.7 1336.6 L1338.8 1334.8 L1338.2 1333 L1338 1331 L1338 1330 L1338.2 1328 L1338.8 1326.2 L1339.7 1324.4 L1340.9 1322.9 L1342.4 1321.7 L1344.2 1320.8 L1346 1320.2 L1348 1320 L1359.6 1320Z" fill="#e8dc0a" stroke="none"/>
<path d="M1403.1 1341 L1414.7 1341 L1416.7 1340.8 L1418.5 1340.2 L1420.3 1339.3 L1421.8 1338.1 L1423 1336.6 L1423.9 1334.8 L1424.5 1333 L1424.7 1331 L1424.7 1330 L1424.5 1328 L1423.9 1326.2 L1423 1324.4 L1421.8 1322.9 L1420.3 1321.7 L1418.5 1320.8 L1416.7 1320.2 L1414.7 1320 L1403.1 1320Z" fill="#e8dc0a" stroke="none"/>
<path d="M1359.6 1313.8 L1348 1313.8 L1346 1313.6 L1344.2 1313 L1342.4 1312.1 L1340.9 1310.9 L1339.7 1309.4 L1338.8 1307.6 L1338.2 1305.8 L1338 1303.8 L1338 1302.8 L1338.2 1300.8 L1338.8 1299 L1339.7 1297.2 L1340.9 1295.7 L1342.4 1294.5 L1344.2 1293.6 L1346 1293 L1348 1292.8 L1359.6 1292.8Z" fill="#e8dc0a" stroke="none"/>
<path d="M1403.1 1313.8 L1414.7 1313.8 L1416.7 1313.6 L1418.5 1313 L1420.3 1312.1 L1421.8 1310.9 L1423 1309.4 L1423.9 1307.6 L1424.5 1305.8 L1424.7 1303.8 L1424.7 1302.8 L1424.5 1300.8 L1423.9 1299 L1423 1297.2 L1421.8 1295.7 L1420.3 1294.5 L1418.5 1293.6 L1416.7 1293 L1414.7 1292.8 L1403.1 1292.8Z" fill="#e8dc0a" stroke="none"/>
<path d="M1469.1 1436.1 L1501.4 1436.1 L1501.4 1307.2 L1469.1 1307.2Z" fill="#e8dc0a" stroke="none" stroke-linejoin="miter"/>
<path d="M1463.4 1449.5 L1451.8 1449.5 L1449.8 1449.3 L1448 1448.7 L1446.2 1447.8 L1444.7 1446.6 L1443.5 1445.1 L1442.6 1443.3 L1442 1441.5 L1441.8 1439.5 L1441.8 1438.5 L1442 1436.5 L1442.6 1434.7 L1443.5 1432.9 L1444.7 1431.4 L1446.2 1430.2 L1448 1429.3 L1449.8 1428.7 L1451.8 1428.5 L1463.4 1428.5Z" fill="#e8dc0a" stroke="none"/>
<path d="M1506.9 1449.5 L1518.5 1449.5 L1520.5 1449.3 L1522.3 1448.7 L1524.1 1447.8 L1525.6 1446.6 L1526.8 1445.1 L1527.7 1443.3 L1528.3 1441.5 L1528.5 1439.5 L1528.5 1438.5 L1528.3 1436.5 L1527.7 1434.7 L1526.8 1432.9 L1525.6 1431.4 L1524.1 1430.2 L1522.3 1429.3 L1520.5 1428.7 L1518.5 1428.5 L1506.9 1428.5Z" fill="#e8dc0a" stroke="none"/>
<path d="M1463.4 1422.6 L1451.8 1422.6 L1449.8 1422.4 L1448 1421.8 L1446.2 1420.9 L1444.7 1419.7 L1443.5 1418.2 L1442.6 1416.4 L1442 1414.6 L1441.8 1412.6 L1441.8 1411.6 L1442 1409.6 L1442.6 1407.8 L1443.5 1406 L1444.7 1404.5 L1446.2 1403.3 L1448 1402.4 L1449.8 1401.8 L1451.8 1401.6 L1463.4 1401.6Z" fill="#e8dc0a" stroke="none"/>
<path d="M1506.9 1422.6 L1518.5 1422.6 L1520.5 1422.4 L1522.3 1421.8 L1524.1 1420.9 L1525.6 1419.7 L1526.8 1418.2 L1527.7 1416.4 L1528.3 1414.6 L1528.5 1412.6 L1528.5 1411.6 L1528.3 1409.6 L1527.7 1407.8 L1526.8 1406 L1525.6 1404.5 L1524.1 1403.3 L1522.3 1402.4 L1520.5 1401.8 L1518.5 1401.6 L1506.9 1401.6Z" fill="#e8dc0a" stroke="none"/>
<path d="M1463.4 1395.6 L1451.8 1395.6 L1449.8 1395.4 L1448 1394.8 L1446.2 1393.9 L1444.7 1392.7 L1443.5 1391.2 L1442.6 1389.4 L1442 1387.6 L1441.8 1385.6 L1441.8 1384.6 L1442 1382.6 L1442.6 1380.8 L1443.5 1379 L1444.7 1377.5 L1446.2 1376.3 L1448 1375.4 L1449.8 1374.8 L1451.8 1374.6 L1463.4 1374.6Z" fill="#e8dc0a" stroke="none"/>
<path d="M1506.9 1395.6 L1518.5 1395.6 L1520.5 1395.4 L1522.3 1394.8 L1524.1 1393.9 L1525.6 1392.7 L1526.8 1391.2 L1527.7 1389.4 L1528.3 1387.6 L1528.5 1385.6 L1528.5 1384.6 L1528.3 1382.6 L1527.7 1380.8 L1526.8 1379 L1525.6 1377.5 L1524.1 1376.3 L1522.3 1375.4 L1520.5 1374.8 L1518.5 1374.6 L1506.9 1374.6Z" fill="#e8dc0a" stroke="none"/>
<path d="M1463.4 1368.1 L1451.8 1368.1 L1449.8 1367.9 L1448 1367.3 L1446.2 1366.4 L1444.7 1365.2 L1443.5 1363.7 L1442.6 1361.9 L1442 1360.1 L1441.8 1358.1 L1441.8 1357.1 L1442 1355.1 L1442.6 1353.3 L1443.5 1351.5 L1444.7 1350 L1446.2 1348.8 L1448 1347.9 L1449.8 1347.3 L1451.8 1347.1 L1463.4 1347.1Z" fill="#e8dc0a" stroke="none"/>
<path d="M1506.9 1368.1 L1518.5 1368.1 L1520.5 1367.9 L1522.3 1367.3 L1524.1 1366.4 L1525.6 1365.2 L1526.8 1363.7 L1527.7 1361.9 L1528.3 1360.1 L1528.5 1358.1 L1528.5 1357.1 L1528.3 1355.1 L1527.7 1353.3 L1526.8 1351.5 L1525.6 1350 L1524.1 1348.8 L1522.3 1347.9 L1520.5 1347.3 L1518.5 1347.1 L1506.9 1347.1Z" fill="#e8dc0a" stroke="none"/>
<path d="M1463.4 1341 L1451.8 1341 L1449.8 1340.8 L1448 1340.2 L1446.2 1339.3 L1444.7 1338.1 L1443.5 1336.6 L1442.6 1334.8 L1442 1333 L1441.8 1331 L1441.8 1330 L1442 1328 L1442.6 1326.2 L1443.5 1324.4 L1444.7 1322.9 L1446.2 1321.7 L1448 1320.8 L1449.8 1320.2 L1451.8 1320 L1463.4 1320Z" fill="#e8dc0a" stroke="none"/>
<path d="M1506.9 1341 L1518.5 1341 L1520.5 1340.8 L1522.3 1340.2 L1524.1 1339.3 L1525.6 1338.1 L1526.8 1336.6 L1527.7 1334.8 L1528.3 1333 L1528.5 1331 L1528.5 1330 L1528.3 1328 L1527.7 1326.2 L1526.8 1324.4 L1525.6 1322.9 L1524.1 1321.7 L1522.3 1320.8 L1520.5 1320.2 L1518.5 1320 L1506.9 1320Z" fill="#e8dc0a" stroke="none"/>
<path d="M1463.4 1313.8 L1451.8 1313.8 L1449.8 1313.6 L1448 1313 L1446.2 1312.1 L1444.7 1310.9 L1443.5 1309.4 L1442.6 1307.6 L1442 1305.8 L1441.8 1303.8 L1441.8 1302.8 L1442 1300.8 L1442.6 1299 L1443.5 1297.2 L1444.7 1295.7 L1446.2 1294.5 L1448 1293.6 L1449.8 1293 L1451.8 1292.8 L1463.4 1292.8Z" fill="#e8dc0a" stroke="none"/>
<path d="M1506.9 1313.8 L1518.5 1313.8 L1520.5 1313.6 L1522.3 1313 L1524.1 1312.1 L1525.6 1310.9 L1526.8 1309.4 L1527.7 1307.6 L1528.3 1305.8 L1528.5 1303.8 L1528.5 1302.8 L1528.3 1300.8 L1527.7 1299 L1526.8 1297.2 L1525.6 1295.7 L1524.1 1294.5 L1522.3 1293.6 L1520.5 1293 L1518.5 1292.8 L1506.9 1292.8Z" fill="#e8dc0a" stroke="none"/>
<path d="M1572.9 1436.1 L1605.2 1436.1 L1605.2 1307.2 L1572.9 1307.2Z" fill="#e8dc0a" stroke="none" stroke-linejoin="miter"/>
<path d="M1567.2 1449.5 L1555.6 1449.5 L1553.6 1449.3 L1551.8 1448.7 L1550 1447.8 L1548.5 1446.6 L1547.3 1445.1 L1546.4 1443.3 L1545.8 1441.5 L1545.6 1439.5 L1545.6 1438.5 L1545.8 1436.5 L1546.4 1434.7 L1547.3 1432.9 L1548.5 1431.4 L1550 1430.2 L1551.8 1429.3 L1553.6 1428.7 L1555.6 1428.5 L1567.2 1428.5Z" fill="#e8dc0a" stroke="none"/>
<path d="M1610.7 1449.5 L1622.3 1449.5 L1624.3 1449.3 L1626.1 1448.7 L1627.9 1447.8 L1629.4 1446.6 L1630.6 1445.1 L1631.5 1443.3 L1632.1 1441.5 L1632.3 1439.5 L1632.3 1438.5 L1632.1 1436.5 L1631.5 1434.7 L1630.6 1432.9 L1629.4 1431.4 L1627.9 1430.2 L1626.1 1429.3 L1624.3 1428.7 L1622.3 1428.5 L1610.7 1428.5Z" fill="#e8dc0a" stroke="none"/>
<path d="M1567.2 1422.6 L1555.6 1422.6 L1553.6 1422.4 L1551.8 1421.8 L1550 1420.9 L1548.5 1419.7 L1547.3 1418.2 L1546.4 1416.4 L1545.8 1414.6 L1545.6 1412.6 L1545.6 1411.6 L1545.8 1409.6 L1546.4 1407.8 L1547.3 1406 L1548.5 1404.5 L1550 1403.3 L1551.8 1402.4 L1553.6 1401.8 L1555.6 1401.6 L1567.2 1401.6Z" fill="#e8dc0a" stroke="none"/>
<path d="M1610.7 1422.6 L1622.3 1422.6 L1624.3 1422.4 L1626.1 1421.8 L1627.9 1420.9 L1629.4 1419.7 L1630.6 1418.2 L1631.5 1416.4 L1632.1 1414.6 L1632.3 1412.6 L1632.3 1411.6 L1632.1 1409.6 L1631.5 1407.8 L1630.6 1406 L1629.4 1404.5 L1627.9 1403.3 L1626.1 1402.4 L1624.3 1401.8 L1622.3 1401.6 L1610.7 1401.6Z" fill="#e8dc0a" stroke="none"/>
<path d="M1567.2 1395.6 L1555.6 1395.6 L1553.6 1395.4 L1551.8 1394.8 L1550 1393.9 L1548.5 1392.7 L1547.3 1391.2 L1546.4 1389.4 L1545.8 1387.6 L1545.6 1385.6 L1545.6 1384.6 L1545.8 1382.6 L1546.4 1380.8 L1547.3 1379 L1548.5 1377.5 L1550 1376.3 L1551.8 1375.4 L1553.6 1374.8 L1555.6 1374.6 L1567.2 1374.6Z" fill="#e8dc0a" stroke="none"/>
<path d="M1610.7 1395.6 L1622.3 1395.6 L1624.3 1395.4 L1626.1 1394.8 L1627.9 1393.9 L1629.4 1392.7 L1630.6 1391.2 L1631.5 1389.4 L1632.1 1387.6 L1632.3 1385.6 L1632.3 1384.6 L1632.1 1382.6 L1631.5 1380.8 L1630.6 1379 L1629.4 1377.5 L1627.9 1376.3 L1626.1 1375.4 L1624.3 1374.8 L1622.3 1374.6 L1610.7 1374.6Z" fill="#e8dc0a" stroke="none"/>
<path d="M1567.2 1368.1 L1555.6 1368.1 L1553.6 1367.9 L1551.8 1367.3 L1550 1366.4 L1548.5 1365.2 L1547.3 1363.7 L1546.4 1361.9 L1545.8 1360.1 L1545.6 1358.1 L1545.6 1357.1 L1545.8 1355.1 L1546.4 1353.3 L1547.3 1351.5 L1548.5 1350 L1550 1348.8 L1551.8 1347.9 L1553.6 1347.3 L1555.6 1347.1 L1567.2 1347.1Z" fill="#e8dc0a" stroke="none"/>
<path d="M1610.7 1368.1 L1622.3 1368.1 L1624.3 1367.9 L1626.1 1367.3 L1627.9 1366.4 L1629.4 1365.2 L1630.6 1363.7 L1631.5 1361.9 L1632.1 1360.1 L1632.3 1358.1 L1632.3 1357.1 L1632.1 1355.1 L1631.5 1353.3 L1630.6 1351.5 L1629.4 1350 L1627.9 1348.8 L1626.1 1347.9 L1624.3 1347.3 L1622.3 1347.1 L1610.7 1347.1Z" fill="#e8dc0a" stroke="none"/>
<path d="M1567.2 1341 L1555.6 1341 L1553.6 1340.8 L1551.8 1340.2 L1550 1339.3 L1548.5 1338.1 L1547.3 1336.6 L1546.4 1334.8 L1545.8 1333 L1545.6 1331 L1545.6 1330 L1545.8 1328 L1546.4 1326.2 L1547.3 1324.4 L1548.5 1322.9 L1550 1321.7 L1551.8 1320.8 L1553.6 1320.2 L1555.6 1320 L1567.2 1320Z" fill="#e8dc0a" stroke="none"/>
<path d="M1610.7 1341 L1622.3 1341 L1624.3 1340.8 L1626.1 1340.2 L1627.9 1339.3 L1629.4 1338.1 L1630.6 1336.6 L1631.5 1334.8 L1632.1 1333 L1632.3 1331 L1632.3 1330 L1632.1 1328 L1631.5 1326.2 L1630.6 1324.4 L1629.4 1322.9 L1627.9 1321.7 L1626.1 1320.8 L1624.3 1320.2 L1622.3 1320 L1610.7 1320Z" fill="#e8dc0a" stroke="none"/>
<path d="M1567.2 1313.8 L1555.6 1313.8 L1553.6 1313.6 L1551.8 1313 L1550 1312.1 L1548.5 1310.9 L1547.3 1309.4 L1546.4 1307.6 L1545.8 1305.8 L1545.6 1303.8 L1545.6 1302.8 L1545.8 1300.8 L1546.4 1299 L1547.3 1297.2 L1548.5 1295.7 L1550 1294.5 L1551.8 1293.6 L1553.6 1293 L1555.6 1292.8 L1567.2 1292.8Z" fill="#e8dc0a" stroke="none"/>
<path d="M1610.7 1313.8 L1622.3 1313.8 L1624.3 1313.6 L1626.1 1313 L1627.9 1312.1 L1629.4 1310.9 L1630.6 1309.4 L1631.5 1307.6 L1632.1 1305.8 L1632.3 1303.8 L1632.3 1302.8 L1632.1 1300.8 L1631.5 1299 L1630.6 1297.2 L1629.4 1295.7 L1627.9 1294.5 L1626.1 1293.6 L1624.3 1293 L1622.3 1292.8 L1610.7 1292.8Z" fill="#e8dc0a" stroke="none"/>
<path d="M1898 1573.8 L1989.5 1573.8" fill="none" stroke="#161616" stroke-width="2.12"/>
<path d="M1898 1557.5 L1989.5 1557.5" fill="none" stroke="#161616" stroke-width="2.12"/>
<path d="M1898 1539.7 L1989.5 1539.7" fill="none" stroke="#161616" stroke-width="2.12"/>
<path d="M1898 1522.7 L1989.5 1522.7" fill="none" stroke="#161616" stroke-width="2.12"/>
<path d="M1894.9 1491.6 L1972.2 1456.1 L1971.2 1454 L1893.9 1489.5Z" fill="none" stroke="#161616" stroke-width="1.5"/>
<path d="M1894.9 1491.6 L1915.2 1524.9 L1915.9 1524.4 L1917 1523.7 L1918.2 1522.9 L1919.6 1522.1 L1921 1521.1 L1922.5 1520.1 L1924 1518.9 L1925.5 1517.8 L1926.8 1516.6 L1927.9 1515.3 L1929 1514 L1930 1512.6 L1930.9 1511.2 L1931.9 1509.6 L1932.7 1508 L1933.6 1506.4 L1934.3 1504.8 L1935 1503.1 L1935.6 1501.4 L1936.2 1499.8 L1936.6 1498 L1937 1496.1 L1937.2 1494 L1937.4 1492 L1937.6 1489.9 L1937.7 1487.9 L1937.8 1486.1 L1937.8 1484.4 L1937.9 1483.1 L1938 1482" fill="none" stroke="#161616" stroke-width="2.0"/>
<path d="M1972.2 1456.1 L1985.2 1495.3 L1984.2 1495.6 L1983 1496 L1981.5 1496.6 L1979.8 1497.2 L1978 1497.7 L1976 1498.3 L1974.1 1498.8 L1972.1 1499.2 L1970.2 1499.4 L1968.4 1499.5 L1966.7 1499.3 L1964.8 1499.1 L1962.9 1498.7 L1961.1 1498.2 L1959.2 1497.7 L1957.3 1497 L1955.5 1496.3 L1953.7 1495.5 L1952 1494.7 L1950.4 1493.8 L1948.9 1492.9 L1947.4 1491.7 L1945.9 1490.4 L1944.4 1489 L1943.1 1487.6 L1941.8 1486.2 L1940.6 1484.9 L1939.6 1483.7 L1938.7 1482.7 L1938 1482" fill="none" stroke="#161616" stroke-width="2.0"/>
<path d="M1951.2 1513.1 L1917.7 1436.8" fill="none" stroke="#161616" stroke-width="2.0"/>
<path d="M1738 1529 L1738 1297.7" fill="none" stroke="#161616" stroke-width="2.12"/>
<path d="M1736.8 1297.6 L1735.9 1294.7 L1734.7 1291.1 L1733.3 1286.8 L1731.7 1282 L1730 1276.8 L1728.3 1271.3 L1726.5 1265.5 L1724.7 1259.7 L1723 1253.9 L1721.4 1248.2 L1719.9 1242.5 L1718.4 1236.5 L1717 1230.3 L1715.5 1224 L1714 1217.6 L1712.6 1211.2 L1711.1 1204.7 L1709.7 1198.3 L1708.3 1192 L1706.9 1185.8 L1705.5 1179.8 L1704.1 1173.8 L1702.7 1168 L1701.3 1162.2 L1699.9 1156.3 L1698.6 1150.5 L1697.3 1144.6 L1696 1138.6 L1694.8 1132.5 L1693.6 1126.2 L1692.5 1119.8 L1691.4 1113.2 L1690.3 1106.5 L1689.2 1099.7 L1688.2 1092.8 L1687.3 1085.9 L1686.3 1079 L1685.4 1072.1 L1684.5 1065.2 L1683.7 1058.4 L1682.9 1051.6 L1682.1 1044.8 L1681.3 1038.1 L1680.5 1031.3 L1679.8 1024.5 L1679.2 1017.7 L1678.5 1010.9 L1677.9 1004.2 L1677.3 997.4 L1676.8 990.6 L1676.3 983.6 L1675.8 976.4 L1675.3 968.9 L1674.9 961.4 L1674.5 954 L1674.1 946.8 L1673.8 940 L1673.5 933.6 L1673.3 927.8 L1673.1 922.8 L1672.9 918.5 L1672.8 914.7 L1672.7 911.4 L1672.7 908.6 L1672.6 906.2 L1672.7 904.1 L1672.7 902.3 L1672.7 900.7 L1672.7 899.3 L1672.7 898" fill="none" stroke="#161616" stroke-width="2.12"/>
<path d="M1834.6 1291.6 L1833.5 1288.2 L1832.2 1283.9 L1830.6 1278.8 L1828.8 1273 L1826.8 1266.8 L1824.8 1260.3 L1822.7 1253.7 L1820.7 1247.1 L1818.8 1240.7 L1817 1234.6 L1815.3 1228.8 L1813.6 1222.9 L1811.9 1217 L1810.3 1211.1 L1808.6 1205.1 L1807 1199.2 L1805.4 1193.2 L1803.8 1187.1 L1802.2 1181.1 L1800.7 1175 L1799.2 1168.9 L1797.8 1162.8 L1796.3 1156.7 L1794.9 1150.5 L1793.6 1144.3 L1792.2 1138.1 L1790.9 1131.8 L1789.6 1125.5 L1788.3 1119.1 L1787.1 1112.6 L1785.9 1106 L1784.7 1099.4 L1783.5 1092.7 L1782.4 1085.9 L1781.3 1079 L1780.2 1072.2 L1779.2 1065.3 L1778.2 1058.4 L1777.2 1051.6 L1776.3 1044.8 L1775.4 1038 L1774.6 1031.1 L1773.9 1024.2 L1773.2 1017.4 L1772.5 1010.5 L1771.8 1003.6 L1771.2 996.8 L1770.6 990.1 L1770 983.5 L1769.5 977 L1769 970.4 L1768.5 963.7 L1768 956.8 L1767.6 950 L1767.1 943.4 L1766.8 937 L1766.4 930.9 L1766.1 925.3 L1765.8 920.3 L1765.6 916 L1765.4 912.4 L1765.3 909.4 L1765.3 906.9 L1765.2 904.8 L1765.3 903.2 L1765.3 901.8 L1765.3 900.7 L1765.4 899.8 L1765.4 898.9 L1765.4 898" fill="none" stroke="#161616" stroke-width="2.12"/>
<path d="M1873.7 1238.5 L1878.5 1230.9 L1883.1 1223.1 L1887.7 1215.4 L1892.2 1207.6 L1896.5 1199.7 L1900.8 1191.7 L1904.9 1183.7 L1908.9 1175.6 L1912.8 1167.5 L1916.6 1159.4 L1920.2 1151.1 L1923.8 1142.9 L1927.2 1134.5 L1930.5 1126.2 L1933.7 1117.8 L1936.7 1109.3 L1939.7 1100.8 L1942.5 1092.3 L1945.2 1083.7 L1947.7 1075.1 L1950.2 1066.5 L1952.5 1057.8 L1954.7 1049.1 L1956.8 1040.4 L1958.7 1031.6 L1960.6 1022.8 L1962.3 1014 L1963.8 1005.2 L1965.3 996.3 L1966.6 987.4 L1967.8 978.5 L1968.9 969.6 L1969.9 960.7 L1970.7 951.8 L1971.4 942.8 L1972 933.9 L1972.4 924.9 L1972.7 915.9 L1972.9 907 L1973 898" fill="none" stroke="#161616" stroke-width="2.12"/>
<path d="M1898.2 1334.9 L1905.4 1325.5 L1912.4 1316 L1919.2 1306.4 L1925.9 1296.7 L1932.5 1286.9 L1938.8 1277 L1945.1 1267 L1951.1 1256.8 L1957 1246.6 L1962.7 1236.3 L1968.2 1225.9 L1973.6 1215.4 L1978.8 1204.9 L1983.8 1194.2 L1988.6 1183.5 L1993.2 1172.7 L1997.7 1161.8 L2001.9 1150.8 L2006 1139.8 L2009.9 1128.7 L2013.6 1117.6 L2017.1 1106.3 L2020.4 1095.1 L2023.5 1083.8 L2026.5 1072.4 L2029.2 1061 L2031.8 1049.5 L2034.2 1038 L2036.4 1026.5 L2038.4 1014.9 L2040.2 1003.3 L2041.9 991.7 L2043.3 980 L2044.5 968.4 L2045.6 956.7 L2046.5 944.9 L2047.1 933.2 L2047.6 921.5 L2047.9 909.7 L2048 898" fill="none" stroke="#161616" stroke-width="2.12"/>
<path d="M1960.2 1378.4 L1968 1368.1 L1975.7 1357.6 L1983.2 1347 L1990.5 1336.4 L1997.7 1325.6 L2004.6 1314.6 L2011.3 1303.6 L2017.8 1292.5 L2024.1 1281.2 L2030.3 1269.9 L2036.2 1258.4 L2042 1246.9 L2047.6 1235.3 L2053 1223.6 L2058.2 1211.7 L2063.2 1199.9 L2068 1187.9 L2072.7 1175.8 L2077.1 1163.7 L2081.3 1151.5 L2085.4 1139.3 L2089.2 1127 L2092.8 1114.6 L2096.2 1102.1 L2099.5 1089.6 L2102.5 1077.1 L2105.3 1064.5 L2107.9 1051.9 L2110.3 1039.2 L2112.5 1026.5 L2114.5 1013.7 L2116.3 1000.9 L2117.9 988.1 L2119.2 975.3 L2120.4 962.4 L2121.3 949.6 L2122.1 936.7 L2122.6 923.8 L2122.9 910.9 L2123 898" fill="none" stroke="#161616" stroke-width="2.12"/>
<path d="M2020.4 1421.3 L2028.8 1410 L2037 1398.6 L2045.1 1387.1 L2052.9 1375.4 L2060.5 1363.7 L2068 1351.8 L2075.3 1339.7 L2082.4 1327.6 L2089.2 1315.4 L2095.9 1303 L2102.4 1290.5 L2108.6 1278 L2114.7 1265.3 L2120.6 1252.5 L2126.2 1239.7 L2131.7 1226.7 L2136.9 1213.7 L2141.9 1200.5 L2146.7 1187.3 L2151.3 1174.1 L2155.7 1160.7 L2159.8 1147.3 L2163.8 1133.8 L2167.5 1120.3 L2171 1106.7 L2174.2 1093 L2177.3 1079.3 L2180.1 1065.5 L2182.7 1051.7 L2185.1 1037.9 L2187.3 1024 L2189.2 1010.1 L2190.9 996.1 L2192.4 982.2 L2193.7 968.2 L2194.7 954.2 L2195.5 940.1 L2196 926.1 L2196.4 912 L2196.5 898" fill="none" stroke="#161616" stroke-width="2.12"/>
<path d="M1872.6 1237.9 L2113 1407.7" fill="none" stroke="#161616" stroke-width="2.12"/>
<path d="M1961.3 1027 L2275 1085.5" fill="none" stroke="#161616" stroke-width="2.12"/>
<path d="M1896.6 1333.7 L2020.6 1421.4" fill="none" stroke="#161616" stroke-width="2.12"/>
<path d="M1928.2 1355.8 L1966.1 1303.7" fill="none" stroke="#161616" stroke-width="2.12"/>
<path d="M1990.2 1399.4 L2028.1 1347" fill="none" stroke="#161616" stroke-width="2.12"/>
<path d="M1915.5 1307.9 L2039 1393.6" fill="none" stroke="#161616" stroke-width="2.12"/>
<path d="M2028.1 1396.9 L2039 1393.6 L2037.3 1382.8" fill="none" stroke="#161616" stroke-width="2.12"/>
<circle cx="1915.5" cy="1307.9" r="4.2" fill="none" stroke="#161616" stroke-width="1.62"/>
<path d="M2029.5 1434.8 L2032.2 1434.3 L2035.7 1433.8 L2039.8 1433.2 L2044.5 1432.5 L2049.5 1431.7 L2054.7 1430.8 L2059.9 1429.8 L2065 1428.7 L2069.8 1427.5 L2074.2 1426.2 L2078.2 1424.8 L2082.1 1423.3 L2085.9 1421.8 L2089.6 1420.2 L2093.3 1418.4 L2096.9 1416.6 L2100.6 1414.5 L2104.4 1412.3 L2108.2 1409.9 L2112.2 1407.2 L2116.4 1404.3 L2120.8 1401.1 L2125.3 1397.7 L2130 1394.1 L2134.6 1390.3 L2139.2 1386.5 L2143.6 1382.5 L2147.9 1378.6 L2151.9 1374.6 L2155.6 1370.6 L2159 1366.6 L2162.1 1362.6 L2164.9 1358.6 L2167.6 1354.5 L2170.2 1350.3 L2172.6 1346.1 L2175.1 1341.8 L2177.5 1337.4 L2180.1 1333 L2182.7 1328.5 L2185.4 1323.9 L2188.1 1319.3 L2190.8 1314.7 L2193.5 1310 L2196.2 1305.2 L2199 1300.3 L2201.7 1295.3 L2204.4 1290.3 L2207.1 1285 L2209.8 1279.7 L2212.5 1274.2 L2215.3 1268.4 L2218.1 1262.5 L2220.9 1256.5 L2223.7 1250.4 L2226.5 1244.3 L2229.2 1238.1 L2231.9 1232 L2234.5 1226 L2237 1220.1 L2239.4 1214.4 L2241.8 1208.8 L2244.1 1203.4 L2246.3 1198 L2248.5 1192.6 L2250.6 1187.1 L2252.7 1181.5 L2254.7 1175.7 L2256.7 1169.6 L2258.6 1163.1 L2260.5 1156.1 L2262.4 1148.4 L2264.2 1140.4 L2266 1132 L2267.7 1123.6 L2269.3 1115.3 L2270.9 1107.4 L2272.3 1099.9 L2273.7 1093.1 L2274.9 1087.2 L2276 1082 L2277 1077.4 L2277.9 1073.2 L2278.6 1069.5 L2279.3 1066.2 L2279.9 1063.2 L2280.5 1060.6 L2280.9 1058.3 L2281.3 1056.3 L2281.7 1054.6" fill="none" stroke="#161616" stroke-width="2.12"/>
<path d="M2029.6 1566.7 L2029.6 1428" fill="none" stroke="#161616" stroke-width="2.12"/>
<path d="M2034.7 1573.8 L2034.7 1618.2 L2037.4 1618.1 L2040.1 1617.8 L2042.7 1617.4 L2045.3 1616.7 L2047.9 1615.9 L2050.4 1614.9 L2052.9 1613.8 L2055.2 1612.5 L2057.5 1611 L2059.7 1609.4 L2061.8 1607.6 L2063.8 1605.7 L2065.6 1603.7 L2067.3 1601.5 L2068.9 1599.2 L2070.3 1596.8 L2071.6 1594.4 L2072.7 1591.8 L2073.6 1589.2 L2074.4 1586.6 L2075 1583.8 L2075.4 1581.1 L2075.7 1578.3 L2075.8 1575.5" fill="none" stroke="#161616" stroke-width="2.0"/>
<path d="M2116.2 1573.8 L2116.2 1618.2 L2113.6 1618.1 L2110.9 1617.8 L2108.3 1617.4 L2105.7 1616.7 L2103.2 1615.9 L2100.7 1614.9 L2098.3 1613.8 L2096 1612.5 L2093.8 1611 L2091.6 1609.4 L2089.6 1607.6 L2087.6 1605.7 L2085.8 1603.7 L2084.1 1601.5 L2082.6 1599.2 L2081.2 1596.8 L2080 1594.4 L2078.9 1591.8 L2077.9 1589.2 L2077.2 1586.6 L2076.6 1583.8 L2076.1 1581.1 L2075.9 1578.3 L2075.8 1575.5" fill="none" stroke="#161616" stroke-width="2.0"/>
<path d="M2075.8 1613 L2075.8 1558.3" fill="none" stroke="#161616" stroke-width="2.0"/>
<path d="M2029.6 1551.3 L2123.6 1551.3" fill="none" stroke="#161616" stroke-width="2.12"/>
<path d="M2029.6 1534.8 L2123.6 1534.8" fill="none" stroke="#161616" stroke-width="2.12"/>
<path d="M2061.8 1537.5 L2075.8 1550.9 L2089.5 1537.5" fill="none" stroke="#161616" stroke-width="2.12"/>
<path d="M2075.8 1550.9 L2075.8 1519 L2162.1 1500.5" fill="none" stroke="#161616" stroke-width="2.12"/>
<circle cx="2163.6" cy="1499.8" r="3.6" fill="none" stroke="#161616" stroke-width="1.62"/>
<path d="M2029.6 1489.1 L2102.9 1489.1" fill="none" stroke="#161616" stroke-width="2.12"/>
<path d="M2122.9 1534.6 L2102.9 1489.1" fill="none" stroke="#161616" stroke-width="2.12"/>
<path d="M2141.4 1534.6 L2119.2 1485" fill="none" stroke="#161616" stroke-width="2.12"/>
<path d="M2159.1 1534.6 L2134 1478.3" fill="none" stroke="#161616" stroke-width="2.12"/>
<path d="M2176.2 1534.6 L2147.3 1469.4" fill="none" stroke="#161616" stroke-width="2.12"/>
<path d="M2102.9 1489.1 L2103.9 1488.9 L2105.1 1488.6 L2106.6 1488.3 L2108.3 1487.9 L2110.1 1487.5 L2112 1487 L2113.9 1486.6 L2115.8 1486.1 L2117.6 1485.5 L2119.2 1485 L2120.7 1484.4 L2122.3 1483.9 L2123.8 1483.3 L2125.3 1482.6 L2126.8 1482 L2128.3 1481.3 L2129.7 1480.6 L2131.2 1479.8 L2132.6 1479.1 L2134 1478.3 L2135.5 1477.5 L2137 1476.5 L2138.5 1475.5 L2140.1 1474.5 L2141.6 1473.4 L2143 1472.4 L2144.3 1471.5 L2145.5 1470.6 L2146.5 1469.9 L2147.3 1469.4" fill="none" stroke="#161616" stroke-width="2.12"/>
<path d="M502.2 1366.2 L500.9 1365.6 L499.3 1364.9 L497.3 1364 L495.1 1363.1 L492.7 1362.1 L490.3 1360.8 L487.9 1359.5 L485.6 1358 L483.5 1356.2 L481.6 1354.3 L479.9 1352.1 L478.3 1349.7 L476.7 1347.1 L475.2 1344.3 L473.8 1341.4 L472.4 1338.3 L471 1335.2 L469.8 1331.9 L468.6 1328.7 L467.4 1325.5 L466.4 1322.1 L465.4 1318.3 L464.4 1314.3 L463.5 1310.2 L462.6 1306 L461.9 1302.1 L461.2 1298.4 L460.6 1295.1 L460.1 1292.3 L459.6 1290.2" fill="none" stroke="#161616" stroke-width="1.88"/>
<path d="M459.6 1290.2 L459.2 1286.6 L458.6 1282 L457.8 1276.5 L457 1270.4 L456.2 1263.8 L455.3 1256.8 L454.4 1249.7 L453.5 1242.7 L452.6 1235.8 L451.8 1229.3 L451.1 1223.1 L450.3 1216.8 L449.5 1210.6 L448.7 1204.4 L447.9 1198.1 L447.1 1191.7 L446.4 1185.2 L445.6 1178.7 L444.9 1172 L444.2 1165.2 L443.5 1158.2 L442.8 1150.9 L442.2 1143.5 L441.5 1135.9 L440.9 1128.3 L440.3 1120.7 L439.7 1113.1 L439.1 1105.7 L438.6 1098.4 L438.1 1091.4 L437.6 1084.7 L437.1 1078.2 L436.7 1072 L436.3 1065.8 L436 1059.8 L435.6 1053.6 L435.3 1047.4 L434.9 1041 L434.6 1034.3 L434.3 1027.3 L434 1019.8 L433.7 1011.8 L433.5 1003.4 L433.2 994.9 L433 986.3 L432.7 977.7 L432.5 969.4 L432.3 961.4 L432.2 953.9 L432 947.1 L431.9 940.7 L431.8 934.5 L431.7 928.5 L431.6 922.9 L431.6 917.5 L431.5 912.6 L431.5 908.1 L431.5 904.2 L431.4 900.8 L431.4 898" fill="none" stroke="#161616" stroke-width="1.88" stroke-dasharray="46 4"/>
<path d="M28.3 511.2 L116 511.2" fill="none" stroke="#161616" stroke-width="1.75"/>
<path d="M27.7 897.6 L185 897.6" fill="none" stroke="#161616" stroke-width="1.75"/>
<circle cx="1944.7" cy="222.2" r="4.4" fill="none" stroke="#161616" stroke-width="1.62"/>
<path d="M1944.7 222.2 L1944.7 273.3" fill="none" stroke="#161616" stroke-width="2.12"/>
<path d="M1931.1 260 L1944.7 273.3 L1959.2 260" fill="none" stroke="#161616" stroke-width="2.12"/>
<path d="M1739.6 384.4 L1834.8 384.4" fill="none" stroke="#161616" stroke-width="2.12"/>
<path d="M1739.6 400.8 L1834.8 400.8" fill="none" stroke="#161616" stroke-width="2.12"/>
<path d="M1739.6 417.2 L1834.8 417.2" fill="none" stroke="#161616" stroke-width="2.12"/>
<path d="M1739.6 433.1 L1834.8 433.1" fill="none" stroke="#161616" stroke-width="2.12"/>
<path d="M1739.6 449.1 L1834.8 449.1" fill="none" stroke="#161616" stroke-width="2.12"/>
<path d="M1739.6 465.5 L1834.8 465.5" fill="none" stroke="#161616" stroke-width="2.12"/>
<path d="M1739.6 481.4 L1834.8 481.4" fill="none" stroke="#161616" stroke-width="2.12"/>
<path d="M1739.6 498.3 L1834.8 498.3" fill="none" stroke="#161616" stroke-width="2.12"/>
<path d="M1786.4 344.7 L1786.4 481.4" fill="none" stroke="#161616" stroke-width="2.12"/>
<path d="M1739.6 465.5 L1786.4 481.4 L1834.8 465.5" fill="none" stroke="#161616" stroke-width="2.12"/>
<path d="M1846.4 301.5 L1845.7 302.9 L1844.9 304.8 L1843.9 307 L1842.9 309.4 L1841.7 312.1 L1840.4 314.9 L1839 317.7 L1837.5 320.4 L1835.9 323.1 L1834.3 325.6 L1832.6 328 L1830.7 330.4 L1828.7 332.8 L1826.7 335.2 L1824.5 337.7 L1822.3 340 L1820 342.4 L1817.7 344.6 L1815.4 346.9 L1813 349 L1810.6 351.1 L1808 353.1 L1805.4 355.2 L1802.8 357.1 L1800.1 359.1 L1797.3 360.9 L1794.6 362.7 L1791.9 364.4 L1789.3 366 L1786.7 367.5 L1784.2 368.9 L1781.6 370.2 L1779.1 371.4 L1776.6 372.5 L1774.1 373.5 L1771.6 374.5 L1769.2 375.4 L1766.8 376.3 L1764.4 377.2 L1762 378 L1759.7 378.8 L1757.4 379.5 L1755.2 380.2 L1753.1 380.9 L1750.9 381.5 L1748.8 382 L1746.5 382.5 L1744.3 383.1 L1741.9 383.5 L1739.5 384 L1736.8 384.4 L1733.9 384.9 L1730.8 385.3 L1727.5 385.6 L1724.3 386 L1721.3 386.3 L1718.4 386.6 L1715.8 386.8 L1713.7 387 L1712 387.2" fill="none" stroke="#161616" stroke-width="1.88"/>
<path d="M1712 387.2 L1690 388.4 L1663 389.4" fill="none" stroke="#161616" stroke-width="1.88" stroke-dasharray="26 5"/>
<path d="M1737.6 1290.1 L1834.8 1290.1" fill="none" stroke="#161616" stroke-width="2.12"/>
<path d="M1737.6 1305.9 L1834.8 1305.9" fill="none" stroke="#161616" stroke-width="2.12"/>
<path d="M1737.6 1322.3 L1834.8 1322.3" fill="none" stroke="#161616" stroke-width="2.12"/>
<path d="M1737.6 1338.7 L1834.8 1338.7" fill="none" stroke="#161616" stroke-width="2.12"/>
<path d="M1737.6 1354.6 L1834.8 1354.6" fill="none" stroke="#161616" stroke-width="2.12"/>
<path d="M1737.6 1371 L1834.8 1371" fill="none" stroke="#161616" stroke-width="2.12"/>
<path d="M1737.6 1387.1 L1834.8 1387.1" fill="none" stroke="#161616" stroke-width="2.12"/>
<path d="M1737.6 1402.9 L1834.8 1402.9" fill="none" stroke="#161616" stroke-width="2.12"/>
<path d="M1786.4 1305.9 L1786.4 1444" fill="none" stroke="#161616" stroke-width="2.12"/>
<path d="M1737.6 1322.3 L1786.4 1305.9 L1834.8 1322.3" fill="none" stroke="#161616" stroke-width="2.12"/>
<path d="M1834.8 1290.1 L1834.8 1499.5" fill="none" stroke="#161616" stroke-width="2.12"/>
<path d="M1834.8 296.3 L1834.8 504" fill="none" stroke="#161616" stroke-width="2.12"/>
<path d="M1737.9 1289.4 L1737.9 1299" fill="none" stroke="#161616" stroke-width="2.12"/>
<path d="M1846.2 1494 L1845.6 1492.5 L1844.9 1490.6 L1844 1488.3 L1843.1 1485.8 L1842 1483.1 L1840.9 1480.2 L1839.6 1477.3 L1838.2 1474.4 L1836.6 1471.6 L1835 1469 L1833.2 1466.5 L1831.2 1463.9 L1829 1461.3 L1826.8 1458.6 L1824.4 1456 L1822 1453.4 L1819.5 1450.9 L1817 1448.5 L1814.5 1446.2 L1812 1444 L1809.5 1441.9 L1807 1440 L1804.5 1438.1 L1801.9 1436.3 L1799.3 1434.5 L1796.7 1432.8 L1794.1 1431.2 L1791.5 1429.7 L1788.9 1428.2 L1786.4 1426.8 L1783.9 1425.4 L1781.4 1424.2 L1779 1423 L1776.6 1421.8 L1774.1 1420.7 L1771.7 1419.7 L1769.3 1418.7 L1766.9 1417.8 L1764.4 1416.9 L1762 1416 L1759.6 1415.2 L1757.2 1414.4 L1754.8 1413.6 L1752.4 1412.9 L1750 1412.3 L1747.6 1411.6 L1745.1 1411.1 L1742.7 1410.5 L1740.1 1410 L1737.5 1409.5 L1734.7 1409 L1731.6 1408.6 L1728.3 1408.2 L1725 1407.9 L1721.7 1407.5 L1718.5 1407.3 L1715.6 1407 L1712.9 1406.8 L1710.7 1406.6 L1709 1406.4" fill="none" stroke="#161616" stroke-width="1.88"/>
<path d="M1709 1406.4 L1680 1405 L1644.8 1404.3" fill="none" stroke="#161616" stroke-width="1.88" stroke-dasharray="26 5"/>
<path d="M2087.3 465.3 L2154.8 425.4 L2211.2 517.6 L2141.2 558.3Z" fill="none" stroke="#161616" stroke-width="2.12"/>
<path d="M2156.6 424.2 L2212.6 516.4" fill="none" stroke="#161616" stroke-width="1.5"/>
<path d="M485.5 600.4 L526.4 600.4 L526.4 1232 L485.5 1232" fill="none" stroke="#161616" stroke-width="2.12"/>
<path d="M528 1232 L528 1174.4 L1612.5 1174.4 L1612.5 1232" fill="none" stroke="#161616" stroke-width="2.12"/>
<path d="M497 338.3 L530.5 338.3 L530.5 344.6 L497 344.6Z" fill="#bababa" stroke="#161616" stroke-width="1.88" stroke-linejoin="miter"/>
<path d="M497 511.2 L530.5 511.2" fill="none" stroke="#161616" stroke-width="2.12"/>
<path d="M497.2 344.6 L497.2 511.2" fill="none" stroke="#161616" stroke-width="1.75"/>
<path d="M502.4 344.6 L502.4 511.2" fill="none" stroke="#161616" stroke-width="1.75"/>
<path d="M572.5 338.3 L634 338.3 L634 344.6 L572.5 344.6Z" fill="#bababa" stroke="#161616" stroke-width="1.88" stroke-linejoin="miter"/>
<path d="M572.5 511.2 L634 511.2" fill="none" stroke="#161616" stroke-width="2.12"/>
<path d="M600.4 344.6 L600.4 506" fill="none" stroke="#161616" stroke-width="1.75"/>
<path d="M605.6 344.6 L605.6 506" fill="none" stroke="#161616" stroke-width="1.75"/>
<path d="M676.5 338.3 L738 338.3 L738 344.6 L676.5 344.6Z" fill="#bababa" stroke="#161616" stroke-width="1.88" stroke-linejoin="miter"/>
<path d="M676.5 511.2 L738 511.2" fill="none" stroke="#161616" stroke-width="2.12"/>
<path d="M704.4 344.6 L704.4 506" fill="none" stroke="#161616" stroke-width="1.75"/>
<path d="M709.6 344.6 L709.6 506" fill="none" stroke="#161616" stroke-width="1.75"/>
<path d="M780.5 338.3 L842 338.3 L842 344.6 L780.5 344.6Z" fill="#bababa" stroke="#161616" stroke-width="1.88" stroke-linejoin="miter"/>
<path d="M780.5 511.2 L842 511.2" fill="none" stroke="#161616" stroke-width="2.12"/>
<path d="M808.4 344.6 L808.4 506" fill="none" stroke="#161616" stroke-width="1.75"/>
<path d="M813.6 344.6 L813.6 506" fill="none" stroke="#161616" stroke-width="1.75"/>
<path d="M883.8 338.3 L945.3 338.3 L945.3 344.6 L883.8 344.6Z" fill="#bababa" stroke="#161616" stroke-width="1.88" stroke-linejoin="miter"/>
<path d="M883.8 511.2 L945.3 511.2" fill="none" stroke="#161616" stroke-width="2.12"/>
<path d="M911.7 344.6 L911.7 506" fill="none" stroke="#161616" stroke-width="1.75"/>
<path d="M916.9 344.6 L916.9 506" fill="none" stroke="#161616" stroke-width="1.75"/>
<path d="M986.4 338.3 L1020.1 338.3 L1020.1 344.6 L986.4 344.6Z" fill="#bababa" stroke="#161616" stroke-width="1.88" stroke-linejoin="miter"/>
<path d="M986.4 511.2 L1020.1 511.2" fill="none" stroke="#161616" stroke-width="2.12"/>
<path d="M1014.7 344.6 L1014.7 511.2" fill="none" stroke="#161616" stroke-width="1.75"/>
<path d="M1019.9 344.6 L1019.9 511.2" fill="none" stroke="#161616" stroke-width="1.75"/>
<path d="M1122 338.3 L1155.5 338.3 L1155.5 344.6 L1122 344.6Z" fill="#bababa" stroke="#161616" stroke-width="1.88" stroke-linejoin="miter"/>
<path d="M1122 511.2 L1155.5 511.2" fill="none" stroke="#161616" stroke-width="2.12"/>
<path d="M1122.2 344.6 L1122.2 511.2" fill="none" stroke="#161616" stroke-width="1.75"/>
<path d="M1127.4 344.6 L1127.4 511.2" fill="none" stroke="#161616" stroke-width="1.75"/>
<path d="M1196.8 338.3 L1258.3 338.3 L1258.3 344.6 L1196.8 344.6Z" fill="#bababa" stroke="#161616" stroke-width="1.88" stroke-linejoin="miter"/>
<path d="M1196.8 511.2 L1258.3 511.2" fill="none" stroke="#161616" stroke-width="2.12"/>
<path d="M1224.7 344.6 L1224.7 506" fill="none" stroke="#161616" stroke-width="1.75"/>
<path d="M1229.9 344.6 L1229.9 506" fill="none" stroke="#161616" stroke-width="1.75"/>
<path d="M1301.1 338.3 L1362.6 338.3 L1362.6 344.6 L1301.1 344.6Z" fill="#bababa" stroke="#161616" stroke-width="1.88" stroke-linejoin="miter"/>
<path d="M1301.1 511.2 L1362.6 511.2" fill="none" stroke="#161616" stroke-width="2.12"/>
<path d="M1329 344.6 L1329 506" fill="none" stroke="#161616" stroke-width="1.75"/>
<path d="M1334.2 344.6 L1334.2 506" fill="none" stroke="#161616" stroke-width="1.75"/>
<path d="M1404.9 338.3 L1466.4 338.3 L1466.4 344.6 L1404.9 344.6Z" fill="#bababa" stroke="#161616" stroke-width="1.88" stroke-linejoin="miter"/>
<path d="M1404.9 511.2 L1466.4 511.2" fill="none" stroke="#161616" stroke-width="2.12"/>
<path d="M1432.8 344.6 L1432.8 506" fill="none" stroke="#161616" stroke-width="1.75"/>
<path d="M1438 344.6 L1438 506" fill="none" stroke="#161616" stroke-width="1.75"/>
<path d="M1508.7 338.3 L1570.2 338.3 L1570.2 344.6 L1508.7 344.6Z" fill="#bababa" stroke="#161616" stroke-width="1.88" stroke-linejoin="miter"/>
<path d="M1508.7 511.2 L1570.2 511.2" fill="none" stroke="#161616" stroke-width="2.12"/>
<path d="M1536.6 344.6 L1536.6 506" fill="none" stroke="#161616" stroke-width="1.75"/>
<path d="M1541.8 344.6 L1541.8 506" fill="none" stroke="#161616" stroke-width="1.75"/>
<path d="M1612.1 338.3 L1645.8 338.3 L1645.8 344.6 L1612.1 344.6Z" fill="#bababa" stroke="#161616" stroke-width="1.88" stroke-linejoin="miter"/>
<path d="M1612.1 511.2 L1645.8 511.2" fill="none" stroke="#161616" stroke-width="2.12"/>
<path d="M1640.4 344.6 L1640.4 511.2" fill="none" stroke="#161616" stroke-width="1.75"/>
<path d="M1645.6 344.6 L1645.6 511.2" fill="none" stroke="#161616" stroke-width="1.75"/>
<path d="M495 1457.7 L528.5 1457.7 L528.5 1451.4 L495 1451.4Z" fill="#bababa" stroke="#161616" stroke-width="1.88" stroke-linejoin="miter"/>
<path d="M495 1288.9 L528.5 1288.9" fill="none" stroke="#161616" stroke-width="2.12"/>
<path d="M495.2 1451.4 L495.2 1288.9" fill="none" stroke="#161616" stroke-width="1.75"/>
<path d="M500.4 1451.4 L500.4 1288.9" fill="none" stroke="#161616" stroke-width="1.75"/>
<path d="M570.5 1457.7 L632 1457.7 L632 1451.4 L570.5 1451.4Z" fill="#bababa" stroke="#161616" stroke-width="1.88" stroke-linejoin="miter"/>
<path d="M570.5 1288.9 L632 1288.9" fill="none" stroke="#161616" stroke-width="2.12"/>
<path d="M598.4 1451.4 L598.4 1290" fill="none" stroke="#161616" stroke-width="1.75"/>
<path d="M603.6 1451.4 L603.6 1290" fill="none" stroke="#161616" stroke-width="1.75"/>
<path d="M674.5 1457.7 L736 1457.7 L736 1451.4 L674.5 1451.4Z" fill="#bababa" stroke="#161616" stroke-width="1.88" stroke-linejoin="miter"/>
<path d="M674.5 1288.9 L736 1288.9" fill="none" stroke="#161616" stroke-width="2.12"/>
<path d="M702.4 1451.4 L702.4 1290" fill="none" stroke="#161616" stroke-width="1.75"/>
<path d="M707.6 1451.4 L707.6 1290" fill="none" stroke="#161616" stroke-width="1.75"/>
<path d="M778.5 1457.7 L840 1457.7 L840 1451.4 L778.5 1451.4Z" fill="#bababa" stroke="#161616" stroke-width="1.88" stroke-linejoin="miter"/>
<path d="M778.5 1288.9 L840 1288.9" fill="none" stroke="#161616" stroke-width="2.12"/>
<path d="M806.4 1451.4 L806.4 1290" fill="none" stroke="#161616" stroke-width="1.75"/>
<path d="M811.6 1451.4 L811.6 1290" fill="none" stroke="#161616" stroke-width="1.75"/>
<path d="M881.8 1457.7 L943.3 1457.7 L943.3 1451.4 L881.8 1451.4Z" fill="#bababa" stroke="#161616" stroke-width="1.88" stroke-linejoin="miter"/>
<path d="M881.8 1288.9 L943.3 1288.9" fill="none" stroke="#161616" stroke-width="2.12"/>
<path d="M909.7 1451.4 L909.7 1290" fill="none" stroke="#161616" stroke-width="1.75"/>
<path d="M914.9 1451.4 L914.9 1290" fill="none" stroke="#161616" stroke-width="1.75"/>
<path d="M984.4 1457.7 L1018.1 1457.7 L1018.1 1451.4 L984.4 1451.4Z" fill="#bababa" stroke="#161616" stroke-width="1.88" stroke-linejoin="miter"/>
<path d="M984.4 1288.9 L1018.1 1288.9" fill="none" stroke="#161616" stroke-width="2.12"/>
<path d="M1012.7 1451.4 L1012.7 1288.9" fill="none" stroke="#161616" stroke-width="1.75"/>
<path d="M1017.9 1451.4 L1017.9 1288.9" fill="none" stroke="#161616" stroke-width="1.75"/>
<path d="M1120 1457.7 L1153.5 1457.7 L1153.5 1451.4 L1120 1451.4Z" fill="#bababa" stroke="#161616" stroke-width="1.88" stroke-linejoin="miter"/>
<path d="M1120 1284.8 L1153.5 1284.8" fill="none" stroke="#161616" stroke-width="2.12"/>
<path d="M1120.2 1451.4 L1120.2 1284.8" fill="none" stroke="#161616" stroke-width="1.75"/>
<path d="M1125.4 1451.4 L1125.4 1284.8" fill="none" stroke="#161616" stroke-width="1.75"/>
<path d="M1194.8 1457.7 L1256.3 1457.7 L1256.3 1451.4 L1194.8 1451.4Z" fill="#bababa" stroke="#161616" stroke-width="1.88" stroke-linejoin="miter"/>
<path d="M1194.8 1284.8 L1256.3 1284.8" fill="none" stroke="#161616" stroke-width="2.12"/>
<path d="M1222.7 1451.4 L1222.7 1290" fill="none" stroke="#161616" stroke-width="1.75"/>
<path d="M1227.9 1451.4 L1227.9 1290" fill="none" stroke="#161616" stroke-width="1.75"/>
<path d="M1299.1 1457.7 L1360.6 1457.7 L1360.6 1451.4 L1299.1 1451.4Z" fill="#bababa" stroke="#161616" stroke-width="1.88" stroke-linejoin="miter"/>
<path d="M1299.1 1284.8 L1360.6 1284.8" fill="none" stroke="#161616" stroke-width="2.12"/>
<path d="M1327 1451.4 L1327 1290" fill="none" stroke="#161616" stroke-width="1.75"/>
<path d="M1332.2 1451.4 L1332.2 1290" fill="none" stroke="#161616" stroke-width="1.75"/>
<path d="M1402.9 1457.7 L1464.4 1457.7 L1464.4 1451.4 L1402.9 1451.4Z" fill="#bababa" stroke="#161616" stroke-width="1.88" stroke-linejoin="miter"/>
<path d="M1402.9 1284.8 L1464.4 1284.8" fill="none" stroke="#161616" stroke-width="2.12"/>
<path d="M1430.8 1451.4 L1430.8 1290" fill="none" stroke="#161616" stroke-width="1.75"/>
<path d="M1436 1451.4 L1436 1290" fill="none" stroke="#161616" stroke-width="1.75"/>
<path d="M1506.7 1457.7 L1568.2 1457.7 L1568.2 1451.4 L1506.7 1451.4Z" fill="#bababa" stroke="#161616" stroke-width="1.88" stroke-linejoin="miter"/>
<path d="M1506.7 1284.8 L1568.2 1284.8" fill="none" stroke="#161616" stroke-width="2.12"/>
<path d="M1534.6 1451.4 L1534.6 1290" fill="none" stroke="#161616" stroke-width="1.75"/>
<path d="M1539.8 1451.4 L1539.8 1290" fill="none" stroke="#161616" stroke-width="1.75"/>
<path d="M1610.1 1457.7 L1643.8 1457.7 L1643.8 1451.4 L1610.1 1451.4Z" fill="#bababa" stroke="#161616" stroke-width="1.88" stroke-linejoin="miter"/>
<path d="M1610.1 1284.8 L1643.8 1284.8" fill="none" stroke="#161616" stroke-width="2.12"/>
<path d="M1638.4 1451.4 L1638.4 1284.8" fill="none" stroke="#161616" stroke-width="1.75"/>
<path d="M1643.6 1451.4 L1643.6 1284.8" fill="none" stroke="#161616" stroke-width="1.75"/>
<path d="M2205 260 L2206.8 261.9 L2209.2 264.3 L2212 267.2 L2215.1 270.4 L2218.5 273.9 L2222 277.6 L2225.6 281.3 L2229.1 285 L2232.4 288.5 L2235.5 291.8 L2238.4 294.9 L2241.2 298 L2244 301.1 L2246.8 304.2 L2249.5 307.3 L2252.2 310.4 L2255 313.5 L2257.7 316.7 L2260.4 319.9 L2263.2 323.2 L2266 326.5 L2268.8 329.9 L2271.5 333.4 L2274.3 336.8 L2277.1 340.3 L2279.9 343.9 L2282.7 347.5 L2285.4 351.1 L2288.2 354.7 L2291 358.4 L2293.8 362.2 L2296.7 366.1 L2299.6 370.1 L2302.5 374.1 L2305.4 378.1 L2308.3 382.2 L2311.1 386.1 L2313.8 390 L2316.3 393.7 L2318.7 397.2 L2320.9 400.5 L2323 403.6 L2324.9 406.6 L2326.8 409.5 L2328.5 412.3 L2330.2 415.1 L2331.9 417.9 L2333.6 420.8 L2335.4 423.7 L2337.2 426.8 L2339.1 430 L2341 433.2 L2342.9 436.5 L2344.8 439.9 L2346.7 443.2 L2348.6 446.6 L2350.4 450 L2352.2 453.4 L2354 456.8 L2355.7 460.1 L2357.3 463.4 L2358.9 466.7 L2360.5 469.9 L2362 473.2 L2363.4 476.4 L2364.9 479.7 L2366.3 483 L2367.7 486.4 L2369.1 489.8 L2370.5 493.4 L2371.9 496.9 L2373.2 500.3 L2374.4 503.7 L2375.6 507.1 L2376.9 510.6 L2378.1 514.3 L2379.4 518.3 L2380.7 522.5 L2382 527.1 L2383.4 532.2 L2384.9 537.9 L2386.5 544.3 L2388.2 551.3 L2389.9 558.6 L2391.7 566 L2393.4 573.5 L2395 580.8 L2396.6 587.8 L2398.1 594.2 L2399.4 600 L2400.6 605.1 L2401.6 609.6 L2402.6 613.7 L2403.4 617.5 L2404.2 621.1 L2405 624.6 L2405.7 628.1 L2406.5 631.8 L2407.2 635.7 L2408 640 L2408.8 644.6 L2409.6 649.3 L2410.4 654.1 L2411.2 659 L2412 664.1 L2412.7 669.2 L2413.5 674.3 L2414.2 679.5 L2414.9 684.8 L2415.5 690 L2416.1 695.3 L2416.7 700.7 L2417.2 706.2 L2417.8 711.7 L2418.3 717.3 L2418.8 722.9 L2419.2 728.4 L2419.7 734 L2420.1 739.5 L2420.5 745 L2420.9 750.7 L2421.3 756.7 L2421.6 762.9 L2422 769.2 L2422.3 775.3 L2422.6 781.1 L2422.9 786.6 L2423.1 791.4 L2423.3 795.5 L2423.5 798.7" fill="none" stroke="#161616" stroke-width="2.5"/>
<path d="M2205 1536 L2206.8 1534.1 L2209.2 1531.7 L2212 1528.8 L2215.1 1525.6 L2218.5 1522.1 L2222 1518.4 L2225.6 1514.7 L2229.1 1511 L2232.4 1507.5 L2235.5 1504.2 L2238.4 1501.1 L2241.2 1498 L2244 1494.9 L2246.8 1491.8 L2249.5 1488.7 L2252.2 1485.6 L2255 1482.5 L2257.7 1479.3 L2260.4 1476.1 L2263.2 1472.8 L2266 1469.5 L2268.8 1466.1 L2271.5 1462.6 L2274.3 1459.2 L2277.1 1455.7 L2279.9 1452.1 L2282.7 1448.5 L2285.4 1444.9 L2288.2 1441.3 L2291 1437.6 L2293.8 1433.8 L2296.7 1429.9 L2299.6 1425.9 L2302.5 1421.9 L2305.4 1417.8 L2308.3 1413.8 L2311.1 1409.9 L2313.8 1406 L2316.3 1402.3 L2318.7 1398.8 L2320.9 1395.5 L2323 1392.4 L2324.9 1389.4 L2326.8 1386.5 L2328.5 1383.7 L2330.2 1380.9 L2331.9 1378.1 L2333.6 1375.2 L2335.4 1372.3 L2337.2 1369.2 L2339.1 1366 L2341 1362.8 L2342.9 1359.5 L2344.8 1356.1 L2346.7 1352.8 L2348.6 1349.4 L2350.4 1346 L2352.2 1342.6 L2354 1339.2 L2355.7 1335.9 L2357.3 1332.6 L2358.9 1329.3 L2360.5 1326.1 L2362 1322.8 L2363.4 1319.6 L2364.9 1316.3 L2366.3 1313 L2367.7 1309.6 L2369.1 1306.2 L2370.5 1302.6 L2371.9 1299.1 L2373.2 1295.7 L2374.4 1292.3 L2375.6 1288.9 L2376.9 1285.4 L2378.1 1281.7 L2379.4 1277.7 L2380.7 1273.5 L2382 1268.9 L2383.4 1263.8 L2384.9 1258.1 L2386.5 1251.7 L2388.2 1244.7 L2389.9 1237.4 L2391.7 1230 L2393.4 1222.5 L2395 1215.2 L2396.6 1208.2 L2398.1 1201.8 L2399.4 1196 L2400.6 1190.9 L2401.6 1186.4 L2402.6 1182.3 L2403.4 1178.5 L2404.2 1174.9 L2405 1171.4 L2405.7 1167.9 L2406.5 1164.2 L2407.2 1160.3 L2408 1156 L2408.8 1151.4 L2409.6 1146.7 L2410.4 1141.9 L2411.2 1137 L2412 1131.9 L2412.7 1126.8 L2413.5 1121.7 L2414.2 1116.5 L2414.9 1111.2 L2415.5 1106 L2416.1 1100.6 L2416.7 1094.8 L2417.3 1088.9 L2417.8 1082.9 L2418.4 1076.9 L2418.9 1071.1 L2419.3 1065.5 L2419.8 1060.2 L2420.2 1055.3 L2420.5 1051 L2420.8 1047.2 L2421 1043.7 L2421.3 1040.5 L2421.4 1037.6 L2421.6 1035.1 L2421.7 1032.8 L2421.8 1030.7 L2421.9 1028.9 L2421.9 1027.4 L2422 1026 L2422.3 1030.5 L2429.7 1030.5 L2429.7 1005.9" fill="none" stroke="#161616" stroke-width="2.5"/>
<path d="M2116.2 222 L2116.2 228.9 L2123.6 228.9 L2123.6 261.1" fill="none" stroke="#161616" stroke-width="2.12"/>
<path d="M2116.9 1575.4 L2116.9 1564.4 L2122.9 1564.4 L2122.9 1534" fill="none" stroke="#161616" stroke-width="2.12"/>
<path d="M1988.8 1576 L2451.8 1576" fill="none" stroke="#161616" stroke-width="2.5"/>
<path d="M502.6 424.7 L1014.5 424.7" fill="none" stroke="#161616" stroke-width="1.88"/>
<path d="M1127.6 424.7 L1640.2 424.7" fill="none" stroke="#161616" stroke-width="1.88"/>
<path d="M500.6 1371.3 L1012.5 1371.3" fill="none" stroke="#161616" stroke-width="1.88"/>
<path d="M1125.6 1371.3 L1638.2 1371.3" fill="none" stroke="#161616" stroke-width="1.88"/>
<path d="M2329.8 727.1 L2281.2 740.7 L2253.8 783.4 L2253.8 1017 L2282.9 1056.4 L2327.3 1070" fill="none" stroke="#161616" stroke-width="3.75" stroke-linejoin="miter"/>
<path d="M2348.3 797.4 L2348.5 800.4 L2348.8 804.3 L2349.2 808.8 L2349.6 814 L2350 819.5 L2350.4 825.3 L2350.9 831.1 L2351.3 837 L2351.7 842.7 L2352 848 L2352.3 853.1 L2352.5 858.3 L2352.8 863.5 L2353 868.6 L2353.3 873.8 L2353.5 879 L2353.7 884.2 L2353.8 889.4 L2353.9 894.6 L2353.9 899.8 L2353.9 905 L2353.9 910.2 L2353.8 915.5 L2353.7 920.7 L2353.5 925.9 L2353.3 931.1 L2353.1 936.3 L2352.9 941.5 L2352.7 946.6 L2352.5 951.6 L2352.2 956.8 L2351.9 962.2 L2351.6 967.8 L2351.2 973.4 L2350.9 978.9 L2350.5 984.1 L2350.2 988.9 L2349.9 993.2 L2349.7 996.9 L2349.5 999.7" fill="none" stroke="#161616" stroke-width="3.25"/>
<path d="M2350 797.4 L2350 999.7" fill="none" stroke="#161616" stroke-width="1.62"/>
<path d="M2306.6 735.3 L2314.6 773.5" fill="none" stroke="#161616" stroke-width="1.62"/>
<path d="M2281 741.4 L2302.6 774.7" fill="none" stroke="#161616" stroke-width="1.62"/>
<path d="M2267.7 761.8 L2295.8 783.4" fill="none" stroke="#161616" stroke-width="1.62"/>
<path d="M2253.3 783.1 L2288.7 793.2" fill="none" stroke="#161616" stroke-width="1.62"/>
<path d="M2328.2 749.8 L2310 754.1 L2292.4 758.4 L2280.1 771.7 L2267.4 787.1" fill="none" stroke="#161616" stroke-width="1.62"/>
<path d="M2265.3 770.4 L2267.4 787.1 L2286.2 785.8" fill="none" stroke="#161616" stroke-width="1.62"/>
<path d="M2329.7 727.6 L2326.3 772.6" fill="none" stroke="#161616" stroke-width="1.75"/>
<circle cx="2328.2" cy="749.8" r="4" fill="none" stroke="#161616" stroke-width="1.5"/>
<path d="M2306.6 1062.3 L2314.6 1024.1" fill="none" stroke="#161616" stroke-width="1.62"/>
<path d="M2281 1056.2 L2302.6 1022.9" fill="none" stroke="#161616" stroke-width="1.62"/>
<path d="M2267.7 1035.8 L2295.8 1014.2" fill="none" stroke="#161616" stroke-width="1.62"/>
<path d="M2253.3 1014.5 L2288.7 1004.4" fill="none" stroke="#161616" stroke-width="1.62"/>
<path d="M2328.2 1047.8 L2310 1043.5 L2292.4 1039.2 L2280.1 1025.9 L2267.4 1010.5" fill="none" stroke="#161616" stroke-width="1.62"/>
<path d="M2265.3 1027.2 L2267.4 1010.5 L2286.2 1011.8" fill="none" stroke="#161616" stroke-width="1.62"/>
<path d="M2329.7 1070 L2326.3 1025" fill="none" stroke="#161616" stroke-width="1.75"/>
<circle cx="2328.2" cy="1047.8" r="4" fill="none" stroke="#161616" stroke-width="1.5"/>
<path d="M2348.3 798.7 L2424.2 799.4" fill="none" stroke="#161616" stroke-width="1.88"/>
<path d="M2348.3 813.5 L2424.2 814.2" fill="none" stroke="#161616" stroke-width="1.88"/>
<path d="M2348.3 828.8 L2424.2 829.5" fill="none" stroke="#161616" stroke-width="1.88"/>
<path d="M2390.2 798.7 L2390.2 828.8" fill="none" stroke="#161616" stroke-width="1.62"/>
<path d="M2385.3 818.4 L2390.2 828.8 L2395.1 818.4" fill="none" stroke="#161616" stroke-width="1.62"/>
<path d="M2349.5 967.6 L2430.9 973.8" fill="none" stroke="#161616" stroke-width="1.88"/>
<path d="M2349.5 983.7 L2430.9 989.1" fill="none" stroke="#161616" stroke-width="1.88"/>
<path d="M2349.5 999.7 L2430.9 1005.9" fill="none" stroke="#161616" stroke-width="1.88"/>
<path d="M2392.7 1002.9 L2395.1 971.3" fill="none" stroke="#161616" stroke-width="1.62"/>
<path d="M2389.7 981.2 L2395.1 971.3 L2399.6 981.7" fill="none" stroke="#161616" stroke-width="1.62"/>
<path d="M2349.5 828.8 L2432.1 830 L2432.3 834.3 L2432.5 839.8 L2432.7 846.4 L2433 853.7 L2433.3 861.7 L2433.6 869.9 L2433.8 878.4 L2434 886.7 L2434.1 894.7 L2434.1 902.3 L2434 909.8 L2433.7 917.8 L2433.4 926 L2433 934.4 L2432.6 942.6 L2432.2 950.4 L2431.8 957.6 L2431.4 964.1 L2431.1 969.6 L2430.9 973.8" fill="none" stroke="#161616" stroke-width="1.88"/>
<path d="M2430.9 848.7 L2411.2 851 L2411.6 853.9 L2412.1 857.5 L2412.9 861.7 L2413.6 866.5 L2414.4 871.7 L2415.2 877.2 L2415.9 883 L2416.4 889 L2416.8 895 L2416.8 901 L2416.6 907.5 L2416.2 914.8 L2415.5 922.7 L2414.7 930.8 L2413.7 938.9 L2412.8 946.8 L2411.9 954.2 L2411.1 960.8 L2410.4 966.4 L2409.9 970.6" fill="none" stroke="#161616" stroke-width="1.75"/>
<path d="M2416.1 901 L2429.7 902.3 L2428.4 909.7 L2430.9 918.3 L2416.1 901.8" fill="none" stroke="#161616" stroke-width="1.62"/>
<path d="M2230.1 426.5 L2223.6 448.5 L2203.3 459.3 L2181.3 452.8 L2170.5 432.5 L2177 410.5 L2197.3 399.7 L2219.3 406.2Z" fill="#ffffff" stroke="#161616" stroke-width="1.88" stroke-linejoin="miter"/>
<circle cx="2200.3" cy="429.5" r="20.2" fill="#bababa" stroke="#161616" stroke-width="2.0"/>
<path d="M2314.3 611.4 L2303.4 631.7 L2281.5 638.4 L2261.2 627.5 L2254.5 605.6 L2265.4 585.3 L2287.3 578.6 L2307.6 589.5Z" fill="#ffffff" stroke="#161616" stroke-width="1.88" stroke-linejoin="miter"/>
<circle cx="2284.4" cy="608.5" r="20.2" fill="#bababa" stroke="#161616" stroke-width="2.0"/>
<path d="M2346.5 809.7 L2331.9 827.5 L2309.1 829.7 L2291.3 815.1 L2289.1 792.3 L2303.7 774.5 L2326.5 772.3 L2344.3 786.9Z" fill="#ffffff" stroke="#161616" stroke-width="1.88" stroke-linejoin="miter"/>
<circle cx="2317.8" cy="801" r="20.2" fill="#bababa" stroke="#161616" stroke-width="2.0"/>
<path d="M2343.9 1011.8 L2326.1 1026.3 L2303.3 1024 L2288.8 1006.2 L2291.1 983.4 L2308.9 968.9 L2331.7 971.2 L2346.2 989Z" fill="#ffffff" stroke="#161616" stroke-width="1.88" stroke-linejoin="miter"/>
<circle cx="2317.5" cy="997.6" r="20.2" fill="#bababa" stroke="#161616" stroke-width="2.0"/>
<path d="M2307 1207.1 L2286.7 1217.9 L2264.7 1211.2 L2253.9 1190.9 L2260.6 1168.9 L2280.9 1158.1 L2302.9 1164.8 L2313.7 1185.1Z" fill="#ffffff" stroke="#161616" stroke-width="1.88" stroke-linejoin="miter"/>
<circle cx="2283.8" cy="1188" r="20.2" fill="#bababa" stroke="#161616" stroke-width="2.0"/>
<path d="M2222.5 1392.3 L2200.5 1398.8 L2180.3 1387.9 L2173.8 1365.9 L2184.7 1345.7 L2206.7 1339.2 L2226.9 1350.1 L2233.4 1372.1Z" fill="#ffffff" stroke="#161616" stroke-width="1.88" stroke-linejoin="miter"/>
<circle cx="2203.6" cy="1369" r="20.2" fill="#bababa" stroke="#161616" stroke-width="2.0"/>
<circle cx="2196.3" cy="702" r="47.2" fill="#ffa816" stroke="#161616" stroke-width="1.62"/>
<path d="M2248.1 691.6 L2268.9 691.6 L2268.9 712.4 L2248.1 712.4Z" fill="#ffa816" stroke="none"/>
<path d="M2244.3 724 L2261.1 736.3 L2248.9 753.1 L2232.1 740.9Z" fill="#ffa816" stroke="none"/>
<path d="M2222.2 748.1 L2228.6 767.8 L2208.8 774.3 L2202.4 754.5Z" fill="#ffa816" stroke="none"/>
<path d="M2190.2 754.5 L2183.8 774.3 L2164 767.8 L2170.4 748.1Z" fill="#ffa816" stroke="none"/>
<path d="M2160.5 740.9 L2143.7 753.1 L2131.5 736.3 L2148.3 724Z" fill="#ffa816" stroke="none"/>
<path d="M2144.5 712.4 L2123.7 712.4 L2123.7 691.6 L2144.5 691.6Z" fill="#ffa816" stroke="none"/>
<path d="M2148.3 680 L2131.5 667.7 L2143.7 650.9 L2160.5 663.1Z" fill="#ffa816" stroke="none"/>
<path d="M2170.4 655.9 L2164 636.2 L2183.8 629.7 L2190.2 649.5Z" fill="#ffa816" stroke="none"/>
<path d="M2202.4 649.5 L2208.8 629.7 L2228.6 636.2 L2222.2 655.9Z" fill="#ffa816" stroke="none"/>
<path d="M2232.1 663.1 L2248.9 650.9 L2261.1 667.7 L2244.3 680Z" fill="#ffa816" stroke="none"/>
<circle cx="2130.8" cy="850" r="47.2" fill="#ffa816" stroke="#161616" stroke-width="1.62"/>
<path d="M2182.6 839.6 L2203.4 839.6 L2203.4 860.4 L2182.6 860.4Z" fill="#ffa816" stroke="none"/>
<path d="M2178.8 872 L2195.6 884.3 L2183.4 901.1 L2166.6 888.9Z" fill="#ffa816" stroke="none"/>
<path d="M2156.7 896.1 L2163.1 915.8 L2143.3 922.3 L2136.9 902.5Z" fill="#ffa816" stroke="none"/>
<path d="M2124.7 902.5 L2118.3 922.3 L2098.5 915.8 L2104.9 896.1Z" fill="#ffa816" stroke="none"/>
<path d="M2095 888.9 L2078.2 901.1 L2066 884.3 L2082.8 872Z" fill="#ffa816" stroke="none"/>
<path d="M2079 860.4 L2058.2 860.4 L2058.2 839.6 L2079 839.6Z" fill="#ffa816" stroke="none"/>
<path d="M2082.8 828 L2066 815.7 L2078.2 798.9 L2095 811.1Z" fill="#ffa816" stroke="none"/>
<path d="M2104.9 803.9 L2098.5 784.2 L2118.3 777.7 L2124.7 797.5Z" fill="#ffa816" stroke="none"/>
<path d="M2136.9 797.5 L2143.3 777.7 L2163.1 784.2 L2156.7 803.9Z" fill="#ffa816" stroke="none"/>
<path d="M2166.6 811.1 L2183.4 798.9 L2195.6 815.7 L2178.8 828Z" fill="#ffa816" stroke="none"/>
<circle cx="2196.3" cy="987.2" r="47.2" fill="#ffa816" stroke="#161616" stroke-width="1.62"/>
<path d="M2248.1 976.8 L2268.9 976.8 L2268.9 997.6 L2248.1 997.6Z" fill="#ffa816" stroke="none"/>
<path d="M2244.3 1009.2 L2261.1 1021.5 L2248.9 1038.3 L2232.1 1026.1Z" fill="#ffa816" stroke="none"/>
<path d="M2222.2 1033.3 L2228.6 1053 L2208.8 1059.5 L2202.4 1039.7Z" fill="#ffa816" stroke="none"/>
<path d="M2190.2 1039.7 L2183.8 1059.5 L2164 1053 L2170.4 1033.3Z" fill="#ffa816" stroke="none"/>
<path d="M2160.5 1026.1 L2143.7 1038.3 L2131.5 1021.5 L2148.3 1009.2Z" fill="#ffa816" stroke="none"/>
<path d="M2144.5 997.6 L2123.7 997.6 L2123.7 976.8 L2144.5 976.8Z" fill="#ffa816" stroke="none"/>
<path d="M2148.3 965.2 L2131.5 952.9 L2143.7 936.1 L2160.5 948.3Z" fill="#ffa816" stroke="none"/>
<path d="M2170.4 941.1 L2164 921.4 L2183.8 914.9 L2190.2 934.7Z" fill="#ffa816" stroke="none"/>
<path d="M2202.4 934.7 L2208.8 914.9 L2228.6 921.4 L2222.2 941.1Z" fill="#ffa816" stroke="none"/>
<path d="M2232.1 948.3 L2248.9 936.1 L2261.1 952.9 L2244.3 965.2Z" fill="#ffa816" stroke="none"/>
<circle cx="2102" cy="1111.9" r="47.2" fill="#ffa816" stroke="#161616" stroke-width="1.62"/>
<path d="M2153.8 1101.5 L2174.6 1101.5 L2174.6 1122.3 L2153.8 1122.3Z" fill="#ffa816" stroke="none"/>
<path d="M2150 1133.9 L2166.8 1146.2 L2154.6 1163 L2137.8 1150.8Z" fill="#ffa816" stroke="none"/>
<path d="M2127.9 1158 L2134.3 1177.7 L2114.5 1184.2 L2108.1 1164.4Z" fill="#ffa816" stroke="none"/>
<path d="M2095.9 1164.4 L2089.5 1184.2 L2069.7 1177.7 L2076.1 1158Z" fill="#ffa816" stroke="none"/>
<path d="M2066.2 1150.8 L2049.4 1163 L2037.2 1146.2 L2054 1133.9Z" fill="#ffa816" stroke="none"/>
<path d="M2050.2 1122.3 L2029.4 1122.3 L2029.4 1101.5 L2050.2 1101.5Z" fill="#ffa816" stroke="none"/>
<path d="M2054 1089.9 L2037.2 1077.6 L2049.4 1060.8 L2066.2 1073Z" fill="#ffa816" stroke="none"/>
<path d="M2076.1 1065.8 L2069.7 1046.1 L2089.5 1039.6 L2095.9 1059.4Z" fill="#ffa816" stroke="none"/>
<path d="M2108.1 1059.4 L2114.5 1039.6 L2134.3 1046.1 L2127.9 1065.8Z" fill="#ffa816" stroke="none"/>
<path d="M2137.8 1073 L2154.6 1060.8 L2166.8 1077.6 L2150 1089.9Z" fill="#ffa816" stroke="none"/>
<circle cx="2126.4" cy="1267.2" r="47.2" fill="#ffa816" stroke="#161616" stroke-width="1.62"/>
<path d="M2178.2 1256.8 L2199 1256.8 L2199 1277.6 L2178.2 1277.6Z" fill="#ffa816" stroke="none"/>
<path d="M2174.4 1289.2 L2191.2 1301.5 L2179 1318.3 L2162.2 1306.1Z" fill="#ffa816" stroke="none"/>
<path d="M2152.3 1313.3 L2158.7 1333 L2138.9 1339.5 L2132.5 1319.7Z" fill="#ffa816" stroke="none"/>
<path d="M2120.3 1319.7 L2113.9 1339.5 L2094.1 1333 L2100.5 1313.3Z" fill="#ffa816" stroke="none"/>
<path d="M2090.6 1306.1 L2073.8 1318.3 L2061.6 1301.5 L2078.4 1289.2Z" fill="#ffa816" stroke="none"/>
<path d="M2074.6 1277.6 L2053.8 1277.6 L2053.8 1256.8 L2074.6 1256.8Z" fill="#ffa816" stroke="none"/>
<path d="M2078.4 1245.2 L2061.6 1232.9 L2073.8 1216.1 L2090.6 1228.3Z" fill="#ffa816" stroke="none"/>
<path d="M2100.5 1221.1 L2094.1 1201.4 L2113.9 1194.9 L2120.3 1214.7Z" fill="#ffa816" stroke="none"/>
<path d="M2132.5 1214.7 L2138.9 1194.9 L2158.7 1201.4 L2152.3 1221.1Z" fill="#ffa816" stroke="none"/>
<path d="M2162.2 1228.3 L2179 1216.1 L2191.2 1232.9 L2174.4 1245.2Z" fill="#ffa816" stroke="none"/>
<path d="M191 364 L271.2 364 L271.2 404.2 L191 404.2Z" fill="#7b185e" stroke="none" stroke-linejoin="miter"/>
<path d="M197.4 357.2 L197.4 346.4 L197.6 344.4 L198.2 342.6 L199.1 340.8 L200.3 339.3 L201.8 338.1 L203.6 337.2 L205.4 336.6 L207.4 336.4 L208.6 336.4 L210.6 336.6 L212.4 337.2 L214.2 338.1 L215.7 339.3 L216.9 340.8 L217.8 342.6 L218.4 344.4 L218.6 346.4 L218.6 357.2Z" fill="#7b185e" stroke="none"/>
<path d="M197.4 410.8 L197.4 421.6 L197.6 423.6 L198.2 425.4 L199.1 427.2 L200.3 428.7 L201.8 429.9 L203.6 430.8 L205.4 431.4 L207.4 431.6 L208.6 431.6 L210.6 431.4 L212.4 430.8 L214.2 429.9 L215.7 428.7 L216.9 427.2 L217.8 425.4 L218.4 423.6 L218.6 421.6 L218.6 410.8Z" fill="#7b185e" stroke="none"/>
<path d="M222 357.2 L222 346.4 L222.2 344.4 L222.8 342.6 L223.7 340.8 L224.9 339.3 L226.4 338.1 L228.2 337.2 L230 336.6 L232 336.4 L233.2 336.4 L235.2 336.6 L237 337.2 L238.8 338.1 L240.3 339.3 L241.5 340.8 L242.4 342.6 L243 344.4 L243.2 346.4 L243.2 357.2Z" fill="#7b185e" stroke="none"/>
<path d="M222 410.8 L222 421.6 L222.2 423.6 L222.8 425.4 L223.7 427.2 L224.9 428.7 L226.4 429.9 L228.2 430.8 L230 431.4 L232 431.6 L233.2 431.6 L235.2 431.4 L237 430.8 L238.8 429.9 L240.3 428.7 L241.5 427.2 L242.4 425.4 L243 423.6 L243.2 421.6 L243.2 410.8Z" fill="#7b185e" stroke="none"/>
<path d="M246.6 357.2 L246.6 346.4 L246.8 344.4 L247.4 342.6 L248.3 340.8 L249.5 339.3 L251 338.1 L252.8 337.2 L254.6 336.6 L256.6 336.4 L257.8 336.4 L259.8 336.6 L261.6 337.2 L263.4 338.1 L264.9 339.3 L266.1 340.8 L267 342.6 L267.6 344.4 L267.8 346.4 L267.8 357.2Z" fill="#7b185e" stroke="none"/>
<path d="M246.6 410.8 L246.6 421.6 L246.8 423.6 L247.4 425.4 L248.3 427.2 L249.5 428.7 L251 429.9 L252.8 430.8 L254.6 431.4 L256.6 431.6 L257.8 431.6 L259.8 431.4 L261.6 430.8 L263.4 429.9 L264.9 428.7 L266.1 427.2 L267 425.4 L267.6 423.6 L267.8 421.6 L267.8 410.8Z" fill="#7b185e" stroke="none"/>
<path d="M191 470.6 L271.2 470.6 L271.2 510.8 L191 510.8Z" fill="#7b185e" stroke="none" stroke-linejoin="miter"/>
<path d="M197.4 463.8 L197.4 453 L197.6 451 L198.2 449.2 L199.1 447.4 L200.3 445.9 L201.8 444.7 L203.6 443.8 L205.4 443.2 L207.4 443 L208.6 443 L210.6 443.2 L212.4 443.8 L214.2 444.7 L215.7 445.9 L216.9 447.4 L217.8 449.2 L218.4 451 L218.6 453 L218.6 463.8Z" fill="#7b185e" stroke="none"/>
<path d="M197.4 517.4 L197.4 528.2 L197.6 530.2 L198.2 532 L199.1 533.8 L200.3 535.3 L201.8 536.5 L203.6 537.4 L205.4 538 L207.4 538.2 L208.6 538.2 L210.6 538 L212.4 537.4 L214.2 536.5 L215.7 535.3 L216.9 533.8 L217.8 532 L218.4 530.2 L218.6 528.2 L218.6 517.4Z" fill="#7b185e" stroke="none"/>
<path d="M222 463.8 L222 453 L222.2 451 L222.8 449.2 L223.7 447.4 L224.9 445.9 L226.4 444.7 L228.2 443.8 L230 443.2 L232 443 L233.2 443 L235.2 443.2 L237 443.8 L238.8 444.7 L240.3 445.9 L241.5 447.4 L242.4 449.2 L243 451 L243.2 453 L243.2 463.8Z" fill="#7b185e" stroke="none"/>
<path d="M222 517.4 L222 528.2 L222.2 530.2 L222.8 532 L223.7 533.8 L224.9 535.3 L226.4 536.5 L228.2 537.4 L230 538 L232 538.2 L233.2 538.2 L235.2 538 L237 537.4 L238.8 536.5 L240.3 535.3 L241.5 533.8 L242.4 532 L243 530.2 L243.2 528.2 L243.2 517.4Z" fill="#7b185e" stroke="none"/>
<path d="M246.6 463.8 L246.6 453 L246.8 451 L247.4 449.2 L248.3 447.4 L249.5 445.9 L251 444.7 L252.8 443.8 L254.6 443.2 L256.6 443 L257.8 443 L259.8 443.2 L261.6 443.8 L263.4 444.7 L264.9 445.9 L266.1 447.4 L267 449.2 L267.6 451 L267.8 453 L267.8 463.8Z" fill="#7b185e" stroke="none"/>
<path d="M246.6 517.4 L246.6 528.2 L246.8 530.2 L247.4 532 L248.3 533.8 L249.5 535.3 L251 536.5 L252.8 537.4 L254.6 538 L256.6 538.2 L257.8 538.2 L259.8 538 L261.6 537.4 L263.4 536.5 L264.9 535.3 L266.1 533.8 L267 532 L267.6 530.2 L267.8 528.2 L267.8 517.4Z" fill="#7b185e" stroke="none"/>
<path d="M191 573 L271.2 573 L271.2 613.2 L191 613.2Z" fill="#7b185e" stroke="none" stroke-linejoin="miter"/>
<path d="M197.4 566.2 L197.4 555.4 L197.6 553.4 L198.2 551.6 L199.1 549.8 L200.3 548.3 L201.8 547.1 L203.6 546.2 L205.4 545.6 L207.4 545.4 L208.6 545.4 L210.6 545.6 L212.4 546.2 L214.2 547.1 L215.7 548.3 L216.9 549.8 L217.8 551.6 L218.4 553.4 L218.6 555.4 L218.6 566.2Z" fill="#7b185e" stroke="none"/>
<path d="M197.4 619.8 L197.4 630.6 L197.6 632.6 L198.2 634.4 L199.1 636.2 L200.3 637.7 L201.8 638.9 L203.6 639.8 L205.4 640.4 L207.4 640.6 L208.6 640.6 L210.6 640.4 L212.4 639.8 L214.2 638.9 L215.7 637.7 L216.9 636.2 L217.8 634.4 L218.4 632.6 L218.6 630.6 L218.6 619.8Z" fill="#7b185e" stroke="none"/>
<path d="M222 566.2 L222 555.4 L222.2 553.4 L222.8 551.6 L223.7 549.8 L224.9 548.3 L226.4 547.1 L228.2 546.2 L230 545.6 L232 545.4 L233.2 545.4 L235.2 545.6 L237 546.2 L238.8 547.1 L240.3 548.3 L241.5 549.8 L242.4 551.6 L243 553.4 L243.2 555.4 L243.2 566.2Z" fill="#7b185e" stroke="none"/>
<path d="M222 619.8 L222 630.6 L222.2 632.6 L222.8 634.4 L223.7 636.2 L224.9 637.7 L226.4 638.9 L228.2 639.8 L230 640.4 L232 640.6 L233.2 640.6 L235.2 640.4 L237 639.8 L238.8 638.9 L240.3 637.7 L241.5 636.2 L242.4 634.4 L243 632.6 L243.2 630.6 L243.2 619.8Z" fill="#7b185e" stroke="none"/>
<path d="M246.6 566.2 L246.6 555.4 L246.8 553.4 L247.4 551.6 L248.3 549.8 L249.5 548.3 L251 547.1 L252.8 546.2 L254.6 545.6 L256.6 545.4 L257.8 545.4 L259.8 545.6 L261.6 546.2 L263.4 547.1 L264.9 548.3 L266.1 549.8 L267 551.6 L267.6 553.4 L267.8 555.4 L267.8 566.2Z" fill="#7b185e" stroke="none"/>
<path d="M246.6 619.8 L246.6 630.6 L246.8 632.6 L247.4 634.4 L248.3 636.2 L249.5 637.7 L251 638.9 L252.8 639.8 L254.6 640.4 L256.6 640.6 L257.8 640.6 L259.8 640.4 L261.6 639.8 L263.4 638.9 L264.9 637.7 L266.1 636.2 L267 634.4 L267.6 632.6 L267.8 630.6 L267.8 619.8Z" fill="#7b185e" stroke="none"/>
<path d="M191 674.6 L271.2 674.6 L271.2 714.8 L191 714.8Z" fill="#7b185e" stroke="none" stroke-linejoin="miter"/>
<path d="M197.4 667.8 L197.4 657 L197.6 655 L198.2 653.2 L199.1 651.4 L200.3 649.9 L201.8 648.7 L203.6 647.8 L205.4 647.2 L207.4 647 L208.6 647 L210.6 647.2 L212.4 647.8 L214.2 648.7 L215.7 649.9 L216.9 651.4 L217.8 653.2 L218.4 655 L218.6 657 L218.6 667.8Z" fill="#7b185e" stroke="none"/>
<path d="M197.4 721.4 L197.4 732.2 L197.6 734.2 L198.2 736 L199.1 737.8 L200.3 739.3 L201.8 740.5 L203.6 741.4 L205.4 742 L207.4 742.2 L208.6 742.2 L210.6 742 L212.4 741.4 L214.2 740.5 L215.7 739.3 L216.9 737.8 L217.8 736 L218.4 734.2 L218.6 732.2 L218.6 721.4Z" fill="#7b185e" stroke="none"/>
<path d="M222 667.8 L222 657 L222.2 655 L222.8 653.2 L223.7 651.4 L224.9 649.9 L226.4 648.7 L228.2 647.8 L230 647.2 L232 647 L233.2 647 L235.2 647.2 L237 647.8 L238.8 648.7 L240.3 649.9 L241.5 651.4 L242.4 653.2 L243 655 L243.2 657 L243.2 667.8Z" fill="#7b185e" stroke="none"/>
<path d="M222 721.4 L222 732.2 L222.2 734.2 L222.8 736 L223.7 737.8 L224.9 739.3 L226.4 740.5 L228.2 741.4 L230 742 L232 742.2 L233.2 742.2 L235.2 742 L237 741.4 L238.8 740.5 L240.3 739.3 L241.5 737.8 L242.4 736 L243 734.2 L243.2 732.2 L243.2 721.4Z" fill="#7b185e" stroke="none"/>
<path d="M246.6 667.8 L246.6 657 L246.8 655 L247.4 653.2 L248.3 651.4 L249.5 649.9 L251 648.7 L252.8 647.8 L254.6 647.2 L256.6 647 L257.8 647 L259.8 647.2 L261.6 647.8 L263.4 648.7 L264.9 649.9 L266.1 651.4 L267 653.2 L267.6 655 L267.8 657 L267.8 667.8Z" fill="#7b185e" stroke="none"/>
<path d="M246.6 721.4 L246.6 732.2 L246.8 734.2 L247.4 736 L248.3 737.8 L249.5 739.3 L251 740.5 L252.8 741.4 L254.6 742 L256.6 742.2 L257.8 742.2 L259.8 742 L261.6 741.4 L263.4 740.5 L264.9 739.3 L266.1 737.8 L267 736 L267.6 734.2 L267.8 732.2 L267.8 721.4Z" fill="#7b185e" stroke="none"/>
<path d="M191 778.8 L271.2 778.8 L271.2 819 L191 819Z" fill="#7b185e" stroke="none" stroke-linejoin="miter"/>
<path d="M197.4 772 L197.4 761.2 L197.6 759.2 L198.2 757.4 L199.1 755.6 L200.3 754.1 L201.8 752.9 L203.6 752 L205.4 751.4 L207.4 751.2 L208.6 751.2 L210.6 751.4 L212.4 752 L214.2 752.9 L215.7 754.1 L216.9 755.6 L217.8 757.4 L218.4 759.2 L218.6 761.2 L218.6 772Z" fill="#7b185e" stroke="none"/>
<path d="M197.4 825.6 L197.4 836.4 L197.6 838.4 L198.2 840.2 L199.1 842 L200.3 843.5 L201.8 844.7 L203.6 845.6 L205.4 846.2 L207.4 846.4 L208.6 846.4 L210.6 846.2 L212.4 845.6 L214.2 844.7 L215.7 843.5 L216.9 842 L217.8 840.2 L218.4 838.4 L218.6 836.4 L218.6 825.6Z" fill="#7b185e" stroke="none"/>
<path d="M222 772 L222 761.2 L222.2 759.2 L222.8 757.4 L223.7 755.6 L224.9 754.1 L226.4 752.9 L228.2 752 L230 751.4 L232 751.2 L233.2 751.2 L235.2 751.4 L237 752 L238.8 752.9 L240.3 754.1 L241.5 755.6 L242.4 757.4 L243 759.2 L243.2 761.2 L243.2 772Z" fill="#7b185e" stroke="none"/>
<path d="M222 825.6 L222 836.4 L222.2 838.4 L222.8 840.2 L223.7 842 L224.9 843.5 L226.4 844.7 L228.2 845.6 L230 846.2 L232 846.4 L233.2 846.4 L235.2 846.2 L237 845.6 L238.8 844.7 L240.3 843.5 L241.5 842 L242.4 840.2 L243 838.4 L243.2 836.4 L243.2 825.6Z" fill="#7b185e" stroke="none"/>
<path d="M246.6 772 L246.6 761.2 L246.8 759.2 L247.4 757.4 L248.3 755.6 L249.5 754.1 L251 752.9 L252.8 752 L254.6 751.4 L256.6 751.2 L257.8 751.2 L259.8 751.4 L261.6 752 L263.4 752.9 L264.9 754.1 L266.1 755.6 L267 757.4 L267.6 759.2 L267.8 761.2 L267.8 772Z" fill="#7b185e" stroke="none"/>
<path d="M246.6 825.6 L246.6 836.4 L246.8 838.4 L247.4 840.2 L248.3 842 L249.5 843.5 L251 844.7 L252.8 845.6 L254.6 846.2 L256.6 846.4 L257.8 846.4 L259.8 846.2 L261.6 845.6 L263.4 844.7 L264.9 843.5 L266.1 842 L267 840.2 L267.6 838.4 L267.8 836.4 L267.8 825.6Z" fill="#7b185e" stroke="none"/>
<path d="M313.8 361 L394 361 L394 401.2 L313.8 401.2Z" fill="#7b185e" stroke="none" stroke-linejoin="miter"/>
<path d="M320.2 354.2 L320.2 343.4 L320.4 341.4 L321 339.6 L321.9 337.8 L323.1 336.3 L324.6 335.1 L326.4 334.2 L328.2 333.6 L330.2 333.4 L331.4 333.4 L333.4 333.6 L335.2 334.2 L337 335.1 L338.5 336.3 L339.7 337.8 L340.6 339.6 L341.2 341.4 L341.4 343.4 L341.4 354.2Z" fill="#7b185e" stroke="none"/>
<path d="M320.2 407.8 L320.2 418.6 L320.4 420.6 L321 422.4 L321.9 424.2 L323.1 425.7 L324.6 426.9 L326.4 427.8 L328.2 428.4 L330.2 428.6 L331.4 428.6 L333.4 428.4 L335.2 427.8 L337 426.9 L338.5 425.7 L339.7 424.2 L340.6 422.4 L341.2 420.6 L341.4 418.6 L341.4 407.8Z" fill="#7b185e" stroke="none"/>
<path d="M344.8 354.2 L344.8 343.4 L345 341.4 L345.6 339.6 L346.5 337.8 L347.7 336.3 L349.2 335.1 L351 334.2 L352.8 333.6 L354.8 333.4 L356 333.4 L358 333.6 L359.8 334.2 L361.6 335.1 L363.1 336.3 L364.3 337.8 L365.2 339.6 L365.8 341.4 L366 343.4 L366 354.2Z" fill="#7b185e" stroke="none"/>
<path d="M344.8 407.8 L344.8 418.6 L345 420.6 L345.6 422.4 L346.5 424.2 L347.7 425.7 L349.2 426.9 L351 427.8 L352.8 428.4 L354.8 428.6 L356 428.6 L358 428.4 L359.8 427.8 L361.6 426.9 L363.1 425.7 L364.3 424.2 L365.2 422.4 L365.8 420.6 L366 418.6 L366 407.8Z" fill="#7b185e" stroke="none"/>
<path d="M369.4 354.2 L369.4 343.4 L369.6 341.4 L370.2 339.6 L371.1 337.8 L372.3 336.3 L373.8 335.1 L375.6 334.2 L377.4 333.6 L379.4 333.4 L380.6 333.4 L382.6 333.6 L384.4 334.2 L386.2 335.1 L387.7 336.3 L388.9 337.8 L389.8 339.6 L390.4 341.4 L390.6 343.4 L390.6 354.2Z" fill="#7b185e" stroke="none"/>
<path d="M369.4 407.8 L369.4 418.6 L369.6 420.6 L370.2 422.4 L371.1 424.2 L372.3 425.7 L373.8 426.9 L375.6 427.8 L377.4 428.4 L379.4 428.6 L380.6 428.6 L382.6 428.4 L384.4 427.8 L386.2 426.9 L387.7 425.7 L388.9 424.2 L389.8 422.4 L390.4 420.6 L390.6 418.6 L390.6 407.8Z" fill="#7b185e" stroke="none"/>
<path d="M313.8 467.5 L394 467.5 L394 507.7 L313.8 507.7Z" fill="#e8dc0a" stroke="none" stroke-linejoin="miter"/>
<path d="M320.2 460.7 L320.2 449.9 L320.4 447.9 L321 446.1 L321.9 444.3 L323.1 442.8 L324.6 441.6 L326.4 440.7 L328.2 440.1 L330.2 439.9 L331.4 439.9 L333.4 440.1 L335.2 440.7 L337 441.6 L338.5 442.8 L339.7 444.3 L340.6 446.1 L341.2 447.9 L341.4 449.9 L341.4 460.7Z" fill="#e8dc0a" stroke="none"/>
<path d="M320.2 514.3 L320.2 525.1 L320.4 527.1 L321 528.9 L321.9 530.7 L323.1 532.2 L324.6 533.4 L326.4 534.3 L328.2 534.9 L330.2 535.1 L331.4 535.1 L333.4 534.9 L335.2 534.3 L337 533.4 L338.5 532.2 L339.7 530.7 L340.6 528.9 L341.2 527.1 L341.4 525.1 L341.4 514.3Z" fill="#e8dc0a" stroke="none"/>
<path d="M344.8 460.7 L344.8 449.9 L345 447.9 L345.6 446.1 L346.5 444.3 L347.7 442.8 L349.2 441.6 L351 440.7 L352.8 440.1 L354.8 439.9 L356 439.9 L358 440.1 L359.8 440.7 L361.6 441.6 L363.1 442.8 L364.3 444.3 L365.2 446.1 L365.8 447.9 L366 449.9 L366 460.7Z" fill="#e8dc0a" stroke="none"/>
<path d="M344.8 514.3 L344.8 525.1 L345 527.1 L345.6 528.9 L346.5 530.7 L347.7 532.2 L349.2 533.4 L351 534.3 L352.8 534.9 L354.8 535.1 L356 535.1 L358 534.9 L359.8 534.3 L361.6 533.4 L363.1 532.2 L364.3 530.7 L365.2 528.9 L365.8 527.1 L366 525.1 L366 514.3Z" fill="#e8dc0a" stroke="none"/>
<path d="M369.4 460.7 L369.4 449.9 L369.6 447.9 L370.2 446.1 L371.1 444.3 L372.3 442.8 L373.8 441.6 L375.6 440.7 L377.4 440.1 L379.4 439.9 L380.6 439.9 L382.6 440.1 L384.4 440.7 L386.2 441.6 L387.7 442.8 L388.9 444.3 L389.8 446.1 L390.4 447.9 L390.6 449.9 L390.6 460.7Z" fill="#e8dc0a" stroke="none"/>
<path d="M369.4 514.3 L369.4 525.1 L369.6 527.1 L370.2 528.9 L371.1 530.7 L372.3 532.2 L373.8 533.4 L375.6 534.3 L377.4 534.9 L379.4 535.1 L380.6 535.1 L382.6 534.9 L384.4 534.3 L386.2 533.4 L387.7 532.2 L388.9 530.7 L389.8 528.9 L390.4 527.1 L390.6 525.1 L390.6 514.3Z" fill="#e8dc0a" stroke="none"/>
<path d="M313.8 569.6 L394 569.6 L394 609.8 L313.8 609.8Z" fill="#e8dc0a" stroke="none" stroke-linejoin="miter"/>
<path d="M320.2 562.8 L320.2 552 L320.4 550 L321 548.2 L321.9 546.4 L323.1 544.9 L324.6 543.7 L326.4 542.8 L328.2 542.2 L330.2 542 L331.4 542 L333.4 542.2 L335.2 542.8 L337 543.7 L338.5 544.9 L339.7 546.4 L340.6 548.2 L341.2 550 L341.4 552 L341.4 562.8Z" fill="#e8dc0a" stroke="none"/>
<path d="M320.2 616.4 L320.2 627.2 L320.4 629.2 L321 631 L321.9 632.8 L323.1 634.3 L324.6 635.5 L326.4 636.4 L328.2 637 L330.2 637.2 L331.4 637.2 L333.4 637 L335.2 636.4 L337 635.5 L338.5 634.3 L339.7 632.8 L340.6 631 L341.2 629.2 L341.4 627.2 L341.4 616.4Z" fill="#e8dc0a" stroke="none"/>
<path d="M344.8 562.8 L344.8 552 L345 550 L345.6 548.2 L346.5 546.4 L347.7 544.9 L349.2 543.7 L351 542.8 L352.8 542.2 L354.8 542 L356 542 L358 542.2 L359.8 542.8 L361.6 543.7 L363.1 544.9 L364.3 546.4 L365.2 548.2 L365.8 550 L366 552 L366 562.8Z" fill="#e8dc0a" stroke="none"/>
<path d="M344.8 616.4 L344.8 627.2 L345 629.2 L345.6 631 L346.5 632.8 L347.7 634.3 L349.2 635.5 L351 636.4 L352.8 637 L354.8 637.2 L356 637.2 L358 637 L359.8 636.4 L361.6 635.5 L363.1 634.3 L364.3 632.8 L365.2 631 L365.8 629.2 L366 627.2 L366 616.4Z" fill="#e8dc0a" stroke="none"/>
<path d="M369.4 562.8 L369.4 552 L369.6 550 L370.2 548.2 L371.1 546.4 L372.3 544.9 L373.8 543.7 L375.6 542.8 L377.4 542.2 L379.4 542 L380.6 542 L382.6 542.2 L384.4 542.8 L386.2 543.7 L387.7 544.9 L388.9 546.4 L389.8 548.2 L390.4 550 L390.6 552 L390.6 562.8Z" fill="#e8dc0a" stroke="none"/>
<path d="M369.4 616.4 L369.4 627.2 L369.6 629.2 L370.2 631 L371.1 632.8 L372.3 634.3 L373.8 635.5 L375.6 636.4 L377.4 637 L379.4 637.2 L380.6 637.2 L382.6 637 L384.4 636.4 L386.2 635.5 L387.7 634.3 L388.9 632.8 L389.8 631 L390.4 629.2 L390.6 627.2 L390.6 616.4Z" fill="#e8dc0a" stroke="none"/>
<path d="M313.8 671.5 L394 671.5 L394 711.7 L313.8 711.7Z" fill="#e8dc0a" stroke="none" stroke-linejoin="miter"/>
<path d="M320.2 664.7 L320.2 653.9 L320.4 651.9 L321 650.1 L321.9 648.3 L323.1 646.8 L324.6 645.6 L326.4 644.7 L328.2 644.1 L330.2 643.9 L331.4 643.9 L333.4 644.1 L335.2 644.7 L337 645.6 L338.5 646.8 L339.7 648.3 L340.6 650.1 L341.2 651.9 L341.4 653.9 L341.4 664.7Z" fill="#e8dc0a" stroke="none"/>
<path d="M320.2 718.3 L320.2 729.1 L320.4 731.1 L321 732.9 L321.9 734.7 L323.1 736.2 L324.6 737.4 L326.4 738.3 L328.2 738.9 L330.2 739.1 L331.4 739.1 L333.4 738.9 L335.2 738.3 L337 737.4 L338.5 736.2 L339.7 734.7 L340.6 732.9 L341.2 731.1 L341.4 729.1 L341.4 718.3Z" fill="#e8dc0a" stroke="none"/>
<path d="M344.8 664.7 L344.8 653.9 L345 651.9 L345.6 650.1 L346.5 648.3 L347.7 646.8 L349.2 645.6 L351 644.7 L352.8 644.1 L354.8 643.9 L356 643.9 L358 644.1 L359.8 644.7 L361.6 645.6 L363.1 646.8 L364.3 648.3 L365.2 650.1 L365.8 651.9 L366 653.9 L366 664.7Z" fill="#e8dc0a" stroke="none"/>
<path d="M344.8 718.3 L344.8 729.1 L345 731.1 L345.6 732.9 L346.5 734.7 L347.7 736.2 L349.2 737.4 L351 738.3 L352.8 738.9 L354.8 739.1 L356 739.1 L358 738.9 L359.8 738.3 L361.6 737.4 L363.1 736.2 L364.3 734.7 L365.2 732.9 L365.8 731.1 L366 729.1 L366 718.3Z" fill="#e8dc0a" stroke="none"/>
<path d="M369.4 664.7 L369.4 653.9 L369.6 651.9 L370.2 650.1 L371.1 648.3 L372.3 646.8 L373.8 645.6 L375.6 644.7 L377.4 644.1 L379.4 643.9 L380.6 643.9 L382.6 644.1 L384.4 644.7 L386.2 645.6 L387.7 646.8 L388.9 648.3 L389.8 650.1 L390.4 651.9 L390.6 653.9 L390.6 664.7Z" fill="#e8dc0a" stroke="none"/>
<path d="M369.4 718.3 L369.4 729.1 L369.6 731.1 L370.2 732.9 L371.1 734.7 L372.3 736.2 L373.8 737.4 L375.6 738.3 L377.4 738.9 L379.4 739.1 L380.6 739.1 L382.6 738.9 L384.4 738.3 L386.2 737.4 L387.7 736.2 L388.9 734.7 L389.8 732.9 L390.4 731.1 L390.6 729.1 L390.6 718.3Z" fill="#e8dc0a" stroke="none"/>
<path d="M313.8 775.4 L394 775.4 L394 815.6 L313.8 815.6Z" fill="#e8dc0a" stroke="none" stroke-linejoin="miter"/>
<path d="M320.2 768.6 L320.2 757.8 L320.4 755.8 L321 754 L321.9 752.2 L323.1 750.7 L324.6 749.5 L326.4 748.6 L328.2 748 L330.2 747.8 L331.4 747.8 L333.4 748 L335.2 748.6 L337 749.5 L338.5 750.7 L339.7 752.2 L340.6 754 L341.2 755.8 L341.4 757.8 L341.4 768.6Z" fill="#e8dc0a" stroke="none"/>
<path d="M320.2 822.2 L320.2 833 L320.4 835 L321 836.8 L321.9 838.6 L323.1 840.1 L324.6 841.3 L326.4 842.2 L328.2 842.8 L330.2 843 L331.4 843 L333.4 842.8 L335.2 842.2 L337 841.3 L338.5 840.1 L339.7 838.6 L340.6 836.8 L341.2 835 L341.4 833 L341.4 822.2Z" fill="#e8dc0a" stroke="none"/>
<path d="M344.8 768.6 L344.8 757.8 L345 755.8 L345.6 754 L346.5 752.2 L347.7 750.7 L349.2 749.5 L351 748.6 L352.8 748 L354.8 747.8 L356 747.8 L358 748 L359.8 748.6 L361.6 749.5 L363.1 750.7 L364.3 752.2 L365.2 754 L365.8 755.8 L366 757.8 L366 768.6Z" fill="#e8dc0a" stroke="none"/>
<path d="M344.8 822.2 L344.8 833 L345 835 L345.6 836.8 L346.5 838.6 L347.7 840.1 L349.2 841.3 L351 842.2 L352.8 842.8 L354.8 843 L356 843 L358 842.8 L359.8 842.2 L361.6 841.3 L363.1 840.1 L364.3 838.6 L365.2 836.8 L365.8 835 L366 833 L366 822.2Z" fill="#e8dc0a" stroke="none"/>
<path d="M369.4 768.6 L369.4 757.8 L369.6 755.8 L370.2 754 L371.1 752.2 L372.3 750.7 L373.8 749.5 L375.6 748.6 L377.4 748 L379.4 747.8 L380.6 747.8 L382.6 748 L384.4 748.6 L386.2 749.5 L387.7 750.7 L388.9 752.2 L389.8 754 L390.4 755.8 L390.6 757.8 L390.6 768.6Z" fill="#e8dc0a" stroke="none"/>
<path d="M369.4 822.2 L369.4 833 L369.6 835 L370.2 836.8 L371.1 838.6 L372.3 840.1 L373.8 841.3 L375.6 842.2 L377.4 842.8 L379.4 843 L380.6 843 L382.6 842.8 L384.4 842.2 L386.2 841.3 L387.7 840.1 L388.9 838.6 L389.8 836.8 L390.4 835 L390.6 833 L390.6 822.2Z" fill="#e8dc0a" stroke="none"/>
<path d="M191 973.6 L271.2 973.6 L271.2 1013.8 L191 1013.8Z" fill="#7b185e" stroke="none" stroke-linejoin="miter"/>
<path d="M197.4 966.8 L197.4 956 L197.6 954 L198.2 952.2 L199.1 950.4 L200.3 948.9 L201.8 947.7 L203.6 946.8 L205.4 946.2 L207.4 946 L208.6 946 L210.6 946.2 L212.4 946.8 L214.2 947.7 L215.7 948.9 L216.9 950.4 L217.8 952.2 L218.4 954 L218.6 956 L218.6 966.8Z" fill="#7b185e" stroke="none"/>
<path d="M197.4 1020.4 L197.4 1031.2 L197.6 1033.2 L198.2 1035 L199.1 1036.8 L200.3 1038.3 L201.8 1039.5 L203.6 1040.4 L205.4 1041 L207.4 1041.2 L208.6 1041.2 L210.6 1041 L212.4 1040.4 L214.2 1039.5 L215.7 1038.3 L216.9 1036.8 L217.8 1035 L218.4 1033.2 L218.6 1031.2 L218.6 1020.4Z" fill="#7b185e" stroke="none"/>
<path d="M222 966.8 L222 956 L222.2 954 L222.8 952.2 L223.7 950.4 L224.9 948.9 L226.4 947.7 L228.2 946.8 L230 946.2 L232 946 L233.2 946 L235.2 946.2 L237 946.8 L238.8 947.7 L240.3 948.9 L241.5 950.4 L242.4 952.2 L243 954 L243.2 956 L243.2 966.8Z" fill="#7b185e" stroke="none"/>
<path d="M222 1020.4 L222 1031.2 L222.2 1033.2 L222.8 1035 L223.7 1036.8 L224.9 1038.3 L226.4 1039.5 L228.2 1040.4 L230 1041 L232 1041.2 L233.2 1041.2 L235.2 1041 L237 1040.4 L238.8 1039.5 L240.3 1038.3 L241.5 1036.8 L242.4 1035 L243 1033.2 L243.2 1031.2 L243.2 1020.4Z" fill="#7b185e" stroke="none"/>
<path d="M246.6 966.8 L246.6 956 L246.8 954 L247.4 952.2 L248.3 950.4 L249.5 948.9 L251 947.7 L252.8 946.8 L254.6 946.2 L256.6 946 L257.8 946 L259.8 946.2 L261.6 946.8 L263.4 947.7 L264.9 948.9 L266.1 950.4 L267 952.2 L267.6 954 L267.8 956 L267.8 966.8Z" fill="#7b185e" stroke="none"/>
<path d="M246.6 1020.4 L246.6 1031.2 L246.8 1033.2 L247.4 1035 L248.3 1036.8 L249.5 1038.3 L251 1039.5 L252.8 1040.4 L254.6 1041 L256.6 1041.2 L257.8 1041.2 L259.8 1041 L261.6 1040.4 L263.4 1039.5 L264.9 1038.3 L266.1 1036.8 L267 1035 L267.6 1033.2 L267.8 1031.2 L267.8 1020.4Z" fill="#7b185e" stroke="none"/>
<path d="M191 1077.7 L271.2 1077.7 L271.2 1117.9 L191 1117.9Z" fill="#7b185e" stroke="none" stroke-linejoin="miter"/>
<path d="M197.4 1070.9 L197.4 1060.1 L197.6 1058.1 L198.2 1056.3 L199.1 1054.5 L200.3 1053 L201.8 1051.8 L203.6 1050.9 L205.4 1050.3 L207.4 1050.1 L208.6 1050.1 L210.6 1050.3 L212.4 1050.9 L214.2 1051.8 L215.7 1053 L216.9 1054.5 L217.8 1056.3 L218.4 1058.1 L218.6 1060.1 L218.6 1070.9Z" fill="#7b185e" stroke="none"/>
<path d="M197.4 1124.5 L197.4 1135.3 L197.6 1137.3 L198.2 1139.1 L199.1 1140.9 L200.3 1142.4 L201.8 1143.6 L203.6 1144.5 L205.4 1145.1 L207.4 1145.3 L208.6 1145.3 L210.6 1145.1 L212.4 1144.5 L214.2 1143.6 L215.7 1142.4 L216.9 1140.9 L217.8 1139.1 L218.4 1137.3 L218.6 1135.3 L218.6 1124.5Z" fill="#7b185e" stroke="none"/>
<path d="M222 1070.9 L222 1060.1 L222.2 1058.1 L222.8 1056.3 L223.7 1054.5 L224.9 1053 L226.4 1051.8 L228.2 1050.9 L230 1050.3 L232 1050.1 L233.2 1050.1 L235.2 1050.3 L237 1050.9 L238.8 1051.8 L240.3 1053 L241.5 1054.5 L242.4 1056.3 L243 1058.1 L243.2 1060.1 L243.2 1070.9Z" fill="#7b185e" stroke="none"/>
<path d="M222 1124.5 L222 1135.3 L222.2 1137.3 L222.8 1139.1 L223.7 1140.9 L224.9 1142.4 L226.4 1143.6 L228.2 1144.5 L230 1145.1 L232 1145.3 L233.2 1145.3 L235.2 1145.1 L237 1144.5 L238.8 1143.6 L240.3 1142.4 L241.5 1140.9 L242.4 1139.1 L243 1137.3 L243.2 1135.3 L243.2 1124.5Z" fill="#7b185e" stroke="none"/>
<path d="M246.6 1070.9 L246.6 1060.1 L246.8 1058.1 L247.4 1056.3 L248.3 1054.5 L249.5 1053 L251 1051.8 L252.8 1050.9 L254.6 1050.3 L256.6 1050.1 L257.8 1050.1 L259.8 1050.3 L261.6 1050.9 L263.4 1051.8 L264.9 1053 L266.1 1054.5 L267 1056.3 L267.6 1058.1 L267.8 1060.1 L267.8 1070.9Z" fill="#7b185e" stroke="none"/>
<path d="M246.6 1124.5 L246.6 1135.3 L246.8 1137.3 L247.4 1139.1 L248.3 1140.9 L249.5 1142.4 L251 1143.6 L252.8 1144.5 L254.6 1145.1 L256.6 1145.3 L257.8 1145.3 L259.8 1145.1 L261.6 1144.5 L263.4 1143.6 L264.9 1142.4 L266.1 1140.9 L267 1139.1 L267.6 1137.3 L267.8 1135.3 L267.8 1124.5Z" fill="#7b185e" stroke="none"/>
<path d="M191 1180 L271.2 1180 L271.2 1220.2 L191 1220.2Z" fill="#7b185e" stroke="none" stroke-linejoin="miter"/>
<path d="M197.4 1173.2 L197.4 1162.4 L197.6 1160.4 L198.2 1158.6 L199.1 1156.8 L200.3 1155.3 L201.8 1154.1 L203.6 1153.2 L205.4 1152.6 L207.4 1152.4 L208.6 1152.4 L210.6 1152.6 L212.4 1153.2 L214.2 1154.1 L215.7 1155.3 L216.9 1156.8 L217.8 1158.6 L218.4 1160.4 L218.6 1162.4 L218.6 1173.2Z" fill="#7b185e" stroke="none"/>
<path d="M197.4 1226.8 L197.4 1237.6 L197.6 1239.6 L198.2 1241.4 L199.1 1243.2 L200.3 1244.7 L201.8 1245.9 L203.6 1246.8 L205.4 1247.4 L207.4 1247.6 L208.6 1247.6 L210.6 1247.4 L212.4 1246.8 L214.2 1245.9 L215.7 1244.7 L216.9 1243.2 L217.8 1241.4 L218.4 1239.6 L218.6 1237.6 L218.6 1226.8Z" fill="#7b185e" stroke="none"/>
<path d="M222 1173.2 L222 1162.4 L222.2 1160.4 L222.8 1158.6 L223.7 1156.8 L224.9 1155.3 L226.4 1154.1 L228.2 1153.2 L230 1152.6 L232 1152.4 L233.2 1152.4 L235.2 1152.6 L237 1153.2 L238.8 1154.1 L240.3 1155.3 L241.5 1156.8 L242.4 1158.6 L243 1160.4 L243.2 1162.4 L243.2 1173.2Z" fill="#7b185e" stroke="none"/>
<path d="M222 1226.8 L222 1237.6 L222.2 1239.6 L222.8 1241.4 L223.7 1243.2 L224.9 1244.7 L226.4 1245.9 L228.2 1246.8 L230 1247.4 L232 1247.6 L233.2 1247.6 L235.2 1247.4 L237 1246.8 L238.8 1245.9 L240.3 1244.7 L241.5 1243.2 L242.4 1241.4 L243 1239.6 L243.2 1237.6 L243.2 1226.8Z" fill="#7b185e" stroke="none"/>
<path d="M246.6 1173.2 L246.6 1162.4 L246.8 1160.4 L247.4 1158.6 L248.3 1156.8 L249.5 1155.3 L251 1154.1 L252.8 1153.2 L254.6 1152.6 L256.6 1152.4 L257.8 1152.4 L259.8 1152.6 L261.6 1153.2 L263.4 1154.1 L264.9 1155.3 L266.1 1156.8 L267 1158.6 L267.6 1160.4 L267.8 1162.4 L267.8 1173.2Z" fill="#7b185e" stroke="none"/>
<path d="M246.6 1226.8 L246.6 1237.6 L246.8 1239.6 L247.4 1241.4 L248.3 1243.2 L249.5 1244.7 L251 1245.9 L252.8 1246.8 L254.6 1247.4 L256.6 1247.6 L257.8 1247.6 L259.8 1247.4 L261.6 1246.8 L263.4 1245.9 L264.9 1244.7 L266.1 1243.2 L267 1241.4 L267.6 1239.6 L267.8 1237.6 L267.8 1226.8Z" fill="#7b185e" stroke="none"/>
<path d="M191 1282.7 L271.2 1282.7 L271.2 1322.9 L191 1322.9Z" fill="#7b185e" stroke="none" stroke-linejoin="miter"/>
<path d="M197.4 1275.9 L197.4 1265.1 L197.6 1263.1 L198.2 1261.3 L199.1 1259.5 L200.3 1258 L201.8 1256.8 L203.6 1255.9 L205.4 1255.3 L207.4 1255.1 L208.6 1255.1 L210.6 1255.3 L212.4 1255.9 L214.2 1256.8 L215.7 1258 L216.9 1259.5 L217.8 1261.3 L218.4 1263.1 L218.6 1265.1 L218.6 1275.9Z" fill="#7b185e" stroke="none"/>
<path d="M197.4 1329.5 L197.4 1340.3 L197.6 1342.3 L198.2 1344.1 L199.1 1345.9 L200.3 1347.4 L201.8 1348.6 L203.6 1349.5 L205.4 1350.1 L207.4 1350.3 L208.6 1350.3 L210.6 1350.1 L212.4 1349.5 L214.2 1348.6 L215.7 1347.4 L216.9 1345.9 L217.8 1344.1 L218.4 1342.3 L218.6 1340.3 L218.6 1329.5Z" fill="#7b185e" stroke="none"/>
<path d="M222 1275.9 L222 1265.1 L222.2 1263.1 L222.8 1261.3 L223.7 1259.5 L224.9 1258 L226.4 1256.8 L228.2 1255.9 L230 1255.3 L232 1255.1 L233.2 1255.1 L235.2 1255.3 L237 1255.9 L238.8 1256.8 L240.3 1258 L241.5 1259.5 L242.4 1261.3 L243 1263.1 L243.2 1265.1 L243.2 1275.9Z" fill="#7b185e" stroke="none"/>
<path d="M222 1329.5 L222 1340.3 L222.2 1342.3 L222.8 1344.1 L223.7 1345.9 L224.9 1347.4 L226.4 1348.6 L228.2 1349.5 L230 1350.1 L232 1350.3 L233.2 1350.3 L235.2 1350.1 L237 1349.5 L238.8 1348.6 L240.3 1347.4 L241.5 1345.9 L242.4 1344.1 L243 1342.3 L243.2 1340.3 L243.2 1329.5Z" fill="#7b185e" stroke="none"/>
<path d="M246.6 1275.9 L246.6 1265.1 L246.8 1263.1 L247.4 1261.3 L248.3 1259.5 L249.5 1258 L251 1256.8 L252.8 1255.9 L254.6 1255.3 L256.6 1255.1 L257.8 1255.1 L259.8 1255.3 L261.6 1255.9 L263.4 1256.8 L264.9 1258 L266.1 1259.5 L267 1261.3 L267.6 1263.1 L267.8 1265.1 L267.8 1275.9Z" fill="#7b185e" stroke="none"/>
<path d="M246.6 1329.5 L246.6 1340.3 L246.8 1342.3 L247.4 1344.1 L248.3 1345.9 L249.5 1347.4 L251 1348.6 L252.8 1349.5 L254.6 1350.1 L256.6 1350.3 L257.8 1350.3 L259.8 1350.1 L261.6 1349.5 L263.4 1348.6 L264.9 1347.4 L266.1 1345.9 L267 1344.1 L267.6 1342.3 L267.8 1340.3 L267.8 1329.5Z" fill="#7b185e" stroke="none"/>
<path d="M191 1388.6 L271.2 1388.6 L271.2 1428.8 L191 1428.8Z" fill="#7b185e" stroke="none" stroke-linejoin="miter"/>
<path d="M197.4 1381.8 L197.4 1371 L197.6 1369 L198.2 1367.2 L199.1 1365.4 L200.3 1363.9 L201.8 1362.7 L203.6 1361.8 L205.4 1361.2 L207.4 1361 L208.6 1361 L210.6 1361.2 L212.4 1361.8 L214.2 1362.7 L215.7 1363.9 L216.9 1365.4 L217.8 1367.2 L218.4 1369 L218.6 1371 L218.6 1381.8Z" fill="#7b185e" stroke="none"/>
<path d="M197.4 1435.4 L197.4 1446.2 L197.6 1448.2 L198.2 1450 L199.1 1451.8 L200.3 1453.3 L201.8 1454.5 L203.6 1455.4 L205.4 1456 L207.4 1456.2 L208.6 1456.2 L210.6 1456 L212.4 1455.4 L214.2 1454.5 L215.7 1453.3 L216.9 1451.8 L217.8 1450 L218.4 1448.2 L218.6 1446.2 L218.6 1435.4Z" fill="#7b185e" stroke="none"/>
<path d="M222 1381.8 L222 1371 L222.2 1369 L222.8 1367.2 L223.7 1365.4 L224.9 1363.9 L226.4 1362.7 L228.2 1361.8 L230 1361.2 L232 1361 L233.2 1361 L235.2 1361.2 L237 1361.8 L238.8 1362.7 L240.3 1363.9 L241.5 1365.4 L242.4 1367.2 L243 1369 L243.2 1371 L243.2 1381.8Z" fill="#7b185e" stroke="none"/>
<path d="M222 1435.4 L222 1446.2 L222.2 1448.2 L222.8 1450 L223.7 1451.8 L224.9 1453.3 L226.4 1454.5 L228.2 1455.4 L230 1456 L232 1456.2 L233.2 1456.2 L235.2 1456 L237 1455.4 L238.8 1454.5 L240.3 1453.3 L241.5 1451.8 L242.4 1450 L243 1448.2 L243.2 1446.2 L243.2 1435.4Z" fill="#7b185e" stroke="none"/>
<path d="M246.6 1381.8 L246.6 1371 L246.8 1369 L247.4 1367.2 L248.3 1365.4 L249.5 1363.9 L251 1362.7 L252.8 1361.8 L254.6 1361.2 L256.6 1361 L257.8 1361 L259.8 1361.2 L261.6 1361.8 L263.4 1362.7 L264.9 1363.9 L266.1 1365.4 L267 1367.2 L267.6 1369 L267.8 1371 L267.8 1381.8Z" fill="#7b185e" stroke="none"/>
<path d="M246.6 1435.4 L246.6 1446.2 L246.8 1448.2 L247.4 1450 L248.3 1451.8 L249.5 1453.3 L251 1454.5 L252.8 1455.4 L254.6 1456 L256.6 1456.2 L257.8 1456.2 L259.8 1456 L261.6 1455.4 L263.4 1454.5 L264.9 1453.3 L266.1 1451.8 L267 1450 L267.6 1448.2 L267.8 1446.2 L267.8 1435.4Z" fill="#7b185e" stroke="none"/>
<path d="M312.3 976.7 L392.5 976.7 L392.5 1016.9 L312.3 1016.9Z" fill="#e8dc0a" stroke="none" stroke-linejoin="miter"/>
<path d="M318.7 969.9 L318.7 959.1 L318.9 957.1 L319.5 955.3 L320.4 953.5 L321.6 952 L323.1 950.8 L324.9 949.9 L326.7 949.3 L328.7 949.1 L329.9 949.1 L331.9 949.3 L333.7 949.9 L335.5 950.8 L337 952 L338.2 953.5 L339.1 955.3 L339.7 957.1 L339.9 959.1 L339.9 969.9Z" fill="#e8dc0a" stroke="none"/>
<path d="M318.7 1023.5 L318.7 1034.3 L318.9 1036.3 L319.5 1038.1 L320.4 1039.9 L321.6 1041.4 L323.1 1042.6 L324.9 1043.5 L326.7 1044.1 L328.7 1044.3 L329.9 1044.3 L331.9 1044.1 L333.7 1043.5 L335.5 1042.6 L337 1041.4 L338.2 1039.9 L339.1 1038.1 L339.7 1036.3 L339.9 1034.3 L339.9 1023.5Z" fill="#e8dc0a" stroke="none"/>
<path d="M343.3 969.9 L343.3 959.1 L343.5 957.1 L344.1 955.3 L345 953.5 L346.2 952 L347.7 950.8 L349.5 949.9 L351.3 949.3 L353.3 949.1 L354.5 949.1 L356.5 949.3 L358.3 949.9 L360.1 950.8 L361.6 952 L362.8 953.5 L363.7 955.3 L364.3 957.1 L364.5 959.1 L364.5 969.9Z" fill="#e8dc0a" stroke="none"/>
<path d="M343.3 1023.5 L343.3 1034.3 L343.5 1036.3 L344.1 1038.1 L345 1039.9 L346.2 1041.4 L347.7 1042.6 L349.5 1043.5 L351.3 1044.1 L353.3 1044.3 L354.5 1044.3 L356.5 1044.1 L358.3 1043.5 L360.1 1042.6 L361.6 1041.4 L362.8 1039.9 L363.7 1038.1 L364.3 1036.3 L364.5 1034.3 L364.5 1023.5Z" fill="#e8dc0a" stroke="none"/>
<path d="M367.9 969.9 L367.9 959.1 L368.1 957.1 L368.7 955.3 L369.6 953.5 L370.8 952 L372.3 950.8 L374.1 949.9 L375.9 949.3 L377.9 949.1 L379.1 949.1 L381.1 949.3 L382.9 949.9 L384.7 950.8 L386.2 952 L387.4 953.5 L388.3 955.3 L388.9 957.1 L389.1 959.1 L389.1 969.9Z" fill="#e8dc0a" stroke="none"/>
<path d="M367.9 1023.5 L367.9 1034.3 L368.1 1036.3 L368.7 1038.1 L369.6 1039.9 L370.8 1041.4 L372.3 1042.6 L374.1 1043.5 L375.9 1044.1 L377.9 1044.3 L379.1 1044.3 L381.1 1044.1 L382.9 1043.5 L384.7 1042.6 L386.2 1041.4 L387.4 1039.9 L388.3 1038.1 L388.9 1036.3 L389.1 1034.3 L389.1 1023.5Z" fill="#e8dc0a" stroke="none"/>
<path d="M312.3 1080.8 L392.5 1080.8 L392.5 1121 L312.3 1121Z" fill="#e8dc0a" stroke="none" stroke-linejoin="miter"/>
<path d="M318.7 1074 L318.7 1063.2 L318.9 1061.2 L319.5 1059.4 L320.4 1057.6 L321.6 1056.1 L323.1 1054.9 L324.9 1054 L326.7 1053.4 L328.7 1053.2 L329.9 1053.2 L331.9 1053.4 L333.7 1054 L335.5 1054.9 L337 1056.1 L338.2 1057.6 L339.1 1059.4 L339.7 1061.2 L339.9 1063.2 L339.9 1074Z" fill="#e8dc0a" stroke="none"/>
<path d="M318.7 1127.6 L318.7 1138.4 L318.9 1140.4 L319.5 1142.2 L320.4 1144 L321.6 1145.5 L323.1 1146.7 L324.9 1147.6 L326.7 1148.2 L328.7 1148.4 L329.9 1148.4 L331.9 1148.2 L333.7 1147.6 L335.5 1146.7 L337 1145.5 L338.2 1144 L339.1 1142.2 L339.7 1140.4 L339.9 1138.4 L339.9 1127.6Z" fill="#e8dc0a" stroke="none"/>
<path d="M343.3 1074 L343.3 1063.2 L343.5 1061.2 L344.1 1059.4 L345 1057.6 L346.2 1056.1 L347.7 1054.9 L349.5 1054 L351.3 1053.4 L353.3 1053.2 L354.5 1053.2 L356.5 1053.4 L358.3 1054 L360.1 1054.9 L361.6 1056.1 L362.8 1057.6 L363.7 1059.4 L364.3 1061.2 L364.5 1063.2 L364.5 1074Z" fill="#e8dc0a" stroke="none"/>
<path d="M343.3 1127.6 L343.3 1138.4 L343.5 1140.4 L344.1 1142.2 L345 1144 L346.2 1145.5 L347.7 1146.7 L349.5 1147.6 L351.3 1148.2 L353.3 1148.4 L354.5 1148.4 L356.5 1148.2 L358.3 1147.6 L360.1 1146.7 L361.6 1145.5 L362.8 1144 L363.7 1142.2 L364.3 1140.4 L364.5 1138.4 L364.5 1127.6Z" fill="#e8dc0a" stroke="none"/>
<path d="M367.9 1074 L367.9 1063.2 L368.1 1061.2 L368.7 1059.4 L369.6 1057.6 L370.8 1056.1 L372.3 1054.9 L374.1 1054 L375.9 1053.4 L377.9 1053.2 L379.1 1053.2 L381.1 1053.4 L382.9 1054 L384.7 1054.9 L386.2 1056.1 L387.4 1057.6 L388.3 1059.4 L388.9 1061.2 L389.1 1063.2 L389.1 1074Z" fill="#e8dc0a" stroke="none"/>
<path d="M367.9 1127.6 L367.9 1138.4 L368.1 1140.4 L368.7 1142.2 L369.6 1144 L370.8 1145.5 L372.3 1146.7 L374.1 1147.6 L375.9 1148.2 L377.9 1148.4 L379.1 1148.4 L381.1 1148.2 L382.9 1147.6 L384.7 1146.7 L386.2 1145.5 L387.4 1144 L388.3 1142.2 L388.9 1140.4 L389.1 1138.4 L389.1 1127.6Z" fill="#e8dc0a" stroke="none"/>
<path d="M312.3 1183 L392.5 1183 L392.5 1223.2 L312.3 1223.2Z" fill="#e8dc0a" stroke="none" stroke-linejoin="miter"/>
<path d="M318.7 1176.2 L318.7 1165.4 L318.9 1163.4 L319.5 1161.6 L320.4 1159.8 L321.6 1158.3 L323.1 1157.1 L324.9 1156.2 L326.7 1155.6 L328.7 1155.4 L329.9 1155.4 L331.9 1155.6 L333.7 1156.2 L335.5 1157.1 L337 1158.3 L338.2 1159.8 L339.1 1161.6 L339.7 1163.4 L339.9 1165.4 L339.9 1176.2Z" fill="#e8dc0a" stroke="none"/>
<path d="M318.7 1229.8 L318.7 1240.6 L318.9 1242.6 L319.5 1244.4 L320.4 1246.2 L321.6 1247.7 L323.1 1248.9 L324.9 1249.8 L326.7 1250.4 L328.7 1250.6 L329.9 1250.6 L331.9 1250.4 L333.7 1249.8 L335.5 1248.9 L337 1247.7 L338.2 1246.2 L339.1 1244.4 L339.7 1242.6 L339.9 1240.6 L339.9 1229.8Z" fill="#e8dc0a" stroke="none"/>
<path d="M343.3 1176.2 L343.3 1165.4 L343.5 1163.4 L344.1 1161.6 L345 1159.8 L346.2 1158.3 L347.7 1157.1 L349.5 1156.2 L351.3 1155.6 L353.3 1155.4 L354.5 1155.4 L356.5 1155.6 L358.3 1156.2 L360.1 1157.1 L361.6 1158.3 L362.8 1159.8 L363.7 1161.6 L364.3 1163.4 L364.5 1165.4 L364.5 1176.2Z" fill="#e8dc0a" stroke="none"/>
<path d="M343.3 1229.8 L343.3 1240.6 L343.5 1242.6 L344.1 1244.4 L345 1246.2 L346.2 1247.7 L347.7 1248.9 L349.5 1249.8 L351.3 1250.4 L353.3 1250.6 L354.5 1250.6 L356.5 1250.4 L358.3 1249.8 L360.1 1248.9 L361.6 1247.7 L362.8 1246.2 L363.7 1244.4 L364.3 1242.6 L364.5 1240.6 L364.5 1229.8Z" fill="#e8dc0a" stroke="none"/>
<path d="M367.9 1176.2 L367.9 1165.4 L368.1 1163.4 L368.7 1161.6 L369.6 1159.8 L370.8 1158.3 L372.3 1157.1 L374.1 1156.2 L375.9 1155.6 L377.9 1155.4 L379.1 1155.4 L381.1 1155.6 L382.9 1156.2 L384.7 1157.1 L386.2 1158.3 L387.4 1159.8 L388.3 1161.6 L388.9 1163.4 L389.1 1165.4 L389.1 1176.2Z" fill="#e8dc0a" stroke="none"/>
<path d="M367.9 1229.8 L367.9 1240.6 L368.1 1242.6 L368.7 1244.4 L369.6 1246.2 L370.8 1247.7 L372.3 1248.9 L374.1 1249.8 L375.9 1250.4 L377.9 1250.6 L379.1 1250.6 L381.1 1250.4 L382.9 1249.8 L384.7 1248.9 L386.2 1247.7 L387.4 1246.2 L388.3 1244.4 L388.9 1242.6 L389.1 1240.6 L389.1 1229.8Z" fill="#e8dc0a" stroke="none"/>
<path d="M312.3 1285.8 L392.5 1285.8 L392.5 1326 L312.3 1326Z" fill="#e8dc0a" stroke="none" stroke-linejoin="miter"/>
<path d="M318.7 1279 L318.7 1268.2 L318.9 1266.2 L319.5 1264.4 L320.4 1262.6 L321.6 1261.1 L323.1 1259.9 L324.9 1259 L326.7 1258.4 L328.7 1258.2 L329.9 1258.2 L331.9 1258.4 L333.7 1259 L335.5 1259.9 L337 1261.1 L338.2 1262.6 L339.1 1264.4 L339.7 1266.2 L339.9 1268.2 L339.9 1279Z" fill="#e8dc0a" stroke="none"/>
<path d="M318.7 1332.6 L318.7 1343.4 L318.9 1345.4 L319.5 1347.2 L320.4 1349 L321.6 1350.5 L323.1 1351.7 L324.9 1352.6 L326.7 1353.2 L328.7 1353.4 L329.9 1353.4 L331.9 1353.2 L333.7 1352.6 L335.5 1351.7 L337 1350.5 L338.2 1349 L339.1 1347.2 L339.7 1345.4 L339.9 1343.4 L339.9 1332.6Z" fill="#e8dc0a" stroke="none"/>
<path d="M343.3 1279 L343.3 1268.2 L343.5 1266.2 L344.1 1264.4 L345 1262.6 L346.2 1261.1 L347.7 1259.9 L349.5 1259 L351.3 1258.4 L353.3 1258.2 L354.5 1258.2 L356.5 1258.4 L358.3 1259 L360.1 1259.9 L361.6 1261.1 L362.8 1262.6 L363.7 1264.4 L364.3 1266.2 L364.5 1268.2 L364.5 1279Z" fill="#e8dc0a" stroke="none"/>
<path d="M343.3 1332.6 L343.3 1343.4 L343.5 1345.4 L344.1 1347.2 L345 1349 L346.2 1350.5 L347.7 1351.7 L349.5 1352.6 L351.3 1353.2 L353.3 1353.4 L354.5 1353.4 L356.5 1353.2 L358.3 1352.6 L360.1 1351.7 L361.6 1350.5 L362.8 1349 L363.7 1347.2 L364.3 1345.4 L364.5 1343.4 L364.5 1332.6Z" fill="#e8dc0a" stroke="none"/>
<path d="M367.9 1279 L367.9 1268.2 L368.1 1266.2 L368.7 1264.4 L369.6 1262.6 L370.8 1261.1 L372.3 1259.9 L374.1 1259 L375.9 1258.4 L377.9 1258.2 L379.1 1258.2 L381.1 1258.4 L382.9 1259 L384.7 1259.9 L386.2 1261.1 L387.4 1262.6 L388.3 1264.4 L388.9 1266.2 L389.1 1268.2 L389.1 1279Z" fill="#e8dc0a" stroke="none"/>
<path d="M367.9 1332.6 L367.9 1343.4 L368.1 1345.4 L368.7 1347.2 L369.6 1349 L370.8 1350.5 L372.3 1351.7 L374.1 1352.6 L375.9 1353.2 L377.9 1353.4 L379.1 1353.4 L381.1 1353.2 L382.9 1352.6 L384.7 1351.7 L386.2 1350.5 L387.4 1349 L388.3 1347.2 L388.9 1345.4 L389.1 1343.4 L389.1 1332.6Z" fill="#e8dc0a" stroke="none"/>
<path d="M312.3 1391.6 L392.5 1391.6 L392.5 1431.8 L312.3 1431.8Z" fill="#7b185e" stroke="none" stroke-linejoin="miter"/>
<path d="M318.7 1384.8 L318.7 1374 L318.9 1372 L319.5 1370.2 L320.4 1368.4 L321.6 1366.9 L323.1 1365.7 L324.9 1364.8 L326.7 1364.2 L328.7 1364 L329.9 1364 L331.9 1364.2 L333.7 1364.8 L335.5 1365.7 L337 1366.9 L338.2 1368.4 L339.1 1370.2 L339.7 1372 L339.9 1374 L339.9 1384.8Z" fill="#7b185e" stroke="none"/>
<path d="M318.7 1438.4 L318.7 1449.2 L318.9 1451.2 L319.5 1453 L320.4 1454.8 L321.6 1456.3 L323.1 1457.5 L324.9 1458.4 L326.7 1459 L328.7 1459.2 L329.9 1459.2 L331.9 1459 L333.7 1458.4 L335.5 1457.5 L337 1456.3 L338.2 1454.8 L339.1 1453 L339.7 1451.2 L339.9 1449.2 L339.9 1438.4Z" fill="#7b185e" stroke="none"/>
<path d="M343.3 1384.8 L343.3 1374 L343.5 1372 L344.1 1370.2 L345 1368.4 L346.2 1366.9 L347.7 1365.7 L349.5 1364.8 L351.3 1364.2 L353.3 1364 L354.5 1364 L356.5 1364.2 L358.3 1364.8 L360.1 1365.7 L361.6 1366.9 L362.8 1368.4 L363.7 1370.2 L364.3 1372 L364.5 1374 L364.5 1384.8Z" fill="#7b185e" stroke="none"/>
<path d="M343.3 1438.4 L343.3 1449.2 L343.5 1451.2 L344.1 1453 L345 1454.8 L346.2 1456.3 L347.7 1457.5 L349.5 1458.4 L351.3 1459 L353.3 1459.2 L354.5 1459.2 L356.5 1459 L358.3 1458.4 L360.1 1457.5 L361.6 1456.3 L362.8 1454.8 L363.7 1453 L364.3 1451.2 L364.5 1449.2 L364.5 1438.4Z" fill="#7b185e" stroke="none"/>
<path d="M367.9 1384.8 L367.9 1374 L368.1 1372 L368.7 1370.2 L369.6 1368.4 L370.8 1366.9 L372.3 1365.7 L374.1 1364.8 L375.9 1364.2 L377.9 1364 L379.1 1364 L381.1 1364.2 L382.9 1364.8 L384.7 1365.7 L386.2 1366.9 L387.4 1368.4 L388.3 1370.2 L388.9 1372 L389.1 1374 L389.1 1384.8Z" fill="#7b185e" stroke="none"/>
<path d="M367.9 1438.4 L367.9 1449.2 L368.1 1451.2 L368.7 1453 L369.6 1454.8 L370.8 1456.3 L372.3 1457.5 L374.1 1458.4 L375.9 1459 L377.9 1459.2 L379.1 1459.2 L381.1 1459 L382.9 1458.4 L384.7 1457.5 L386.2 1456.3 L387.4 1454.8 L388.3 1453 L388.9 1451.2 L389.1 1449.2 L389.1 1438.4Z" fill="#7b185e" stroke="none"/>
</svg>
</body></html>
